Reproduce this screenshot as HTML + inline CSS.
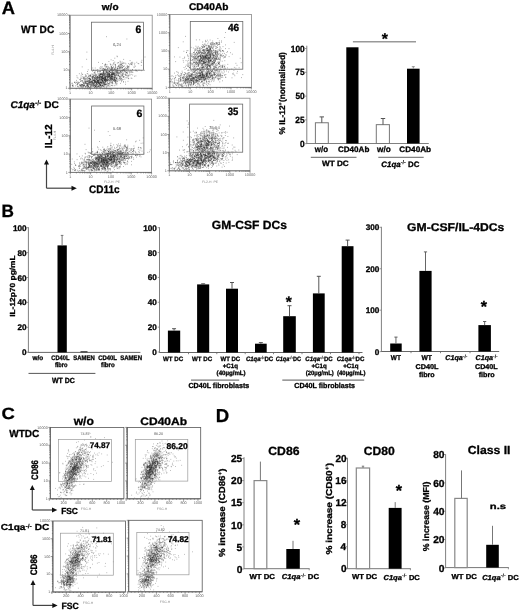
<!DOCTYPE html>
<html><head><meta charset="utf-8"><style>
html,body{margin:0;padding:0;background:#fff;}
svg{display:block;filter:blur(0.3px);}
text{text-rendering:geometricPrecision;}
text[fill="#000"]{stroke:#000;stroke-width:0.3px;}
</style></head><body>
<svg width="520" height="610" viewBox="0 0 520 610" font-family="'Liberation Sans', Arial, sans-serif">
<rect width="520" height="610" fill="#fff"/>
<text transform="translate(1.84,14.2) scale(1.017,1)" font-size="18.02" font-weight="bold" fill="#000">A</text>
<text transform="translate(101.83,9.61) scale(1.075,1)" font-size="9.3" font-weight="bold" fill="#000">w/o</text>
<text transform="translate(188.98,9.51) scale(1.049,1)" font-size="9.67" font-weight="bold" fill="#000">CD40Ab</text>
<text transform="translate(20.99,33.4) scale(0.959,1)" font-size="10.59" font-weight="bold" fill="#000">WT DC</text>
<text transform="translate(10.41,107.9) scale(1.024,1)" font-size="9.8" fill="#000"><tspan x="0" y="0" font-size="9.8" font-weight="bold" font-style="italic">C1qa</tspan><tspan x="23.96" y="-3.23" font-size="6.66" font-weight="bold" stroke-width="0.1">-/-</tspan><tspan x="30.25" y="0" font-size="9.8" font-weight="bold"> DC</tspan></text>
<path d="M107.2 80.1h0M113.2 76.7h0M82.2 76.7h0M115.5 80.5h0M106.5 72.5h0M94.1 79.1h0M109.7 76.9h0M105.1 75.2h0M100.1 71.6h0M110.9 82.8h0M91.1 78.9h0M99.5 79.1h0M95.5 81.3h0M110.2 77.6h0M102.3 78.6h0M98.4 81.7h0M91.9 84.1h0M99.6 84.0h0M101.6 77.7h0M97.4 77.5h0M118.2 70.1h0M116.3 78.1h0M100.3 82.4h0M105.1 79.5h0M105.8 81.8h0M129.1 66.4h0M85.8 79.3h0M96.5 79.7h0M128.0 66.6h0M111.5 79.9h0M109.3 71.4h0M95.2 81.8h0M76.9 75.7h0M102.9 74.3h0M103.1 77.7h0M85.2 83.2h0M90.7 74.7h0M101.2 80.2h0M90.4 87.2h0M101.4 82.6h0M102.5 76.4h0M101.8 76.9h0M93.8 76.6h0M110.7 79.8h0M115.7 82.0h0M105.7 76.1h0M89.0 75.6h0M112.1 77.5h0M96.1 84.4h0M110.6 64.9h0M87.7 84.2h0M116.9 84.9h0M102.7 83.0h0M85.8 86.6h0M98.3 82.4h0M104.0 83.7h0M104.6 74.6h0M87.8 79.8h0M87.6 85.5h0M103.9 75.9h0M96.0 82.4h0M102.9 70.7h0M113.1 79.7h0M105.5 78.7h0M118.7 75.5h0M99.9 87.3h0M89.8 78.2h0M111.0 72.8h0M104.1 74.0h0M113.6 74.3h0M96.2 76.7h0M82.1 85.4h0M99.7 77.2h0M94.3 75.2h0M110.6 70.1h0M106.0 83.8h0M80.0 85.5h0M85.6 83.2h0M113.9 76.2h0M111.1 76.5h0M94.3 85.1h0M102.7 81.8h0M107.3 75.3h0M107.3 74.3h0M112.5 71.6h0M104.0 73.3h0M102.4 85.7h0M97.4 76.7h0M113.8 67.1h0M70.7 84.7h0M99.2 76.8h0M102.8 80.7h0M81.8 81.3h0M107.1 80.4h0M93.7 83.6h0M115.1 81.4h0M120.0 80.4h0M105.8 73.2h0M89.7 81.2h0M81.9 86.4h0M128.0 81.3h0M101.3 82.7h0M94.2 87.1h0M103.7 78.2h0M100.1 82.7h0M114.3 79.2h0M101.9 77.5h0M103.1 82.7h0M93.7 86.7h0M108.1 77.0h0M89.3 87.7h0M112.9 83.7h0M122.6 73.9h0M81.5 85.4h0M109.6 74.6h0M136.5 70.3h0M88.0 81.7h0M84.8 83.0h0M109.0 74.0h0M88.9 76.4h0M94.1 77.6h0M97.7 82.2h0M107.8 72.6h0M95.8 78.4h0M107.7 85.2h0M101.0 84.8h0M89.8 79.9h0M98.4 83.2h0M88.4 80.5h0M104.0 86.2h0M86.2 81.4h0M87.4 84.1h0M123.2 79.6h0M100.3 76.3h0M102.8 85.1h0M107.9 74.1h0M96.6 82.1h0M98.6 79.2h0M107.6 77.5h0M106.0 79.1h0M86.3 83.7h0M112.0 72.1h0M95.1 85.4h0M88.6 86.6h0M98.4 86.7h0M122.3 67.7h0M105.7 84.2h0M72.6 85.5h0M103.2 83.8h0M115.8 82.1h0M98.2 78.2h0M91.9 76.2h0M104.7 77.1h0M111.2 77.9h0M127.1 66.9h0M104.5 77.6h0M92.8 77.7h0M99.8 78.3h0M101.1 80.2h0M100.4 68.5h0M102.0 81.1h0M106.0 84.7h0M79.3 85.1h0M112.7 74.7h0M95.6 86.2h0M84.7 78.8h0M109.1 71.9h0M118.1 68.7h0M108.4 76.9h0M104.6 80.5h0M89.3 82.7h0M141.3 70.7h0M114.8 79.5h0M87.3 85.9h0M90.5 79.2h0M102.9 78.1h0M103.0 74.5h0M95.5 80.2h0M118.0 73.0h0M114.7 75.0h0M101.0 73.8h0M118.1 79.1h0M103.4 75.9h0M109.3 77.1h0M88.5 86.4h0M126.2 71.0h0M129.9 74.3h0M86.9 81.1h0M106.6 76.6h0M92.8 81.7h0M101.1 77.7h0M82.1 74.2h0M127.2 72.4h0M89.3 84.3h0M98.6 82.6h0M107.6 73.5h0M93.7 83.4h0M99.0 81.3h0M92.3 74.4h0M97.6 70.9h0M86.8 86.0h0M95.0 77.2h0M100.4 84.4h0M102.1 76.9h0M97.2 77.8h0M112.1 76.5h0M98.5 83.5h0M98.8 75.3h0M94.5 87.2h0M96.1 85.6h0M85.8 87.1h0M108.3 75.3h0M87.7 87.7h0M93.0 85.9h0M105.4 73.1h0M109.9 86.6h0M96.3 79.8h0M107.0 75.7h0M105.9 80.1h0M111.4 73.2h0M90.6 75.4h0M86.3 82.0h0M101.7 73.7h0M98.7 77.1h0M104.6 78.2h0M80.3 85.4h0M127.9 77.8h0M92.7 77.6h0M81.7 86.9h0M109.7 75.0h0M98.8 86.5h0M97.8 82.1h0M103.2 86.7h0M104.7 76.4h0M90.1 75.8h0M109.6 71.6h0M93.8 74.8h0M89.2 78.9h0M102.8 78.2h0M109.4 82.5h0M99.7 83.3h0M90.9 84.7h0M109.8 75.4h0M77.5 83.3h0M88.2 83.6h0M102.7 79.9h0M84.0 85.8h0M102.8 80.9h0M101.1 79.2h0M111.8 68.1h0M88.4 78.4h0M92.6 78.5h0M108.5 85.2h0M144.5 70.3h0M92.6 83.7h0M113.1 74.6h0M101.1 78.4h0M76.8 82.1h0M110.8 78.3h0M114.8 80.9h0M96.6 83.6h0M99.1 83.8h0M109.4 80.6h0M107.1 75.2h0M104.9 79.4h0M93.8 85.0h0M96.1 70.3h0M89.6 80.7h0M115.2 74.8h0M102.7 74.7h0M113.5 80.0h0M104.1 79.9h0M105.1 76.8h0M89.5 75.8h0M109.4 71.5h0M124.9 68.5h0M98.4 82.6h0M92.6 76.7h0M97.4 71.6h0M93.8 75.4h0M91.9 79.8h0M105.8 85.9h0M120.8 72.0h0M103.1 83.4h0M108.0 84.0h0M116.3 81.1h0M97.8 80.2h0M119.8 68.6h0M92.9 79.9h0M88.9 74.9h0M97.4 81.9h0M101.4 83.2h0M80.9 77.1h0M101.5 79.4h0M79.9 87.1h0M122.2 79.3h0M102.5 85.5h0M94.3 85.3h0M89.0 80.2h0M96.4 79.5h0M100.4 85.3h0M87.2 81.0h0M89.6 82.9h0M101.3 86.7h0M95.1 82.0h0M113.0 70.2h0M117.0 73.9h0M103.0 82.1h0M108.1 76.9h0M112.1 82.3h0M100.8 76.9h0M107.9 75.5h0M123.4 72.9h0M106.0 80.1h0M87.0 83.0h0M110.9 80.5h0M83.6 82.1h0M94.3 77.8h0M106.9 86.3h0M109.2 73.5h0M102.3 76.8h0M90.5 79.5h0M94.2 80.4h0M112.8 72.3h0M101.9 79.3h0M78.5 83.1h0M112.9 74.5h0M108.0 79.4h0M114.6 79.0h0M98.0 82.7h0M112.3 73.3h0M88.2 85.2h0M109.5 76.8h0M95.3 81.0h0M109.0 69.8h0M116.3 78.4h0M91.9 81.8h0M103.3 86.8h0M103.3 82.0h0M116.7 70.3h0M109.9 71.1h0M107.1 74.1h0M112.8 79.5h0M130.2 70.1h0M94.9 81.9h0M121.7 80.6h0M85.3 82.2h0M108.6 76.2h0M117.5 81.7h0M93.0 82.1h0M108.2 73.9h0M105.0 84.1h0M125.5 84.3h0M102.0 79.4h0M117.0 81.5h0M89.7 82.4h0M101.1 85.9h0M100.4 79.0h0M118.9 80.7h0M110.5 79.7h0M91.7 81.8h0M111.5 78.0h0M111.8 74.5h0M99.2 75.5h0M97.3 76.3h0M99.4 80.2h0M78.0 81.9h0M105.1 80.8h0M105.9 81.0h0M91.0 85.0h0M111.5 74.8h0M83.7 85.3h0M94.6 81.8h0M97.2 87.1h0M127.9 68.8h0M80.1 84.4h0M109.4 76.6h0M114.6 75.6h0M106.3 75.2h0M117.2 72.6h0M70.6 85.9h0M113.5 80.6h0M99.2 86.3h0M84.1 76.9h0M117.2 78.9h0M114.3 78.4h0M93.0 84.8h0M112.3 69.6h0M104.6 82.5h0M98.9 75.8h0M104.4 84.9h0M100.6 85.0h0M105.8 77.0h0M95.6 74.8h0M116.9 80.2h0M94.9 85.7h0M105.5 77.1h0M109.4 83.8h0M122.8 76.9h0M93.7 76.4h0M125.1 71.6h0M103.9 77.2h0M99.3 80.1h0M93.3 83.1h0M109.1 74.6h0M102.5 78.7h0M87.9 86.5h0M86.8 83.8h0M94.3 80.8h0M92.6 81.1h0M116.6 75.1h0M118.3 66.5h0M114.0 77.1h0M105.7 74.1h0M96.4 81.8h0M101.1 73.5h0M115.1 80.1h0M131.0 72.5h0M112.8 70.6h0M98.6 81.8h0M101.7 76.5h0M92.1 84.8h0M98.6 77.2h0M105.0 79.9h0M126.7 72.5h0M104.2 84.5h0M120.8 76.0h0M126.5 75.1h0M101.8 74.8h0M124.7 76.8h0M114.2 85.7h0M97.2 84.0h0M105.6 78.6h0M102.6 80.4h0M97.8 76.7h0M99.6 81.3h0M102.7 74.7h0M108.0 78.3h0M89.7 81.6h0M101.0 76.4h0M103.8 72.6h0M110.4 77.2h0M102.7 73.7h0M108.1 86.2h0M112.4 85.7h0M94.1 85.9h0M109.7 80.3h0M116.2 78.2h0M106.9 76.5h0M135.4 66.2h0M101.0 80.7h0M114.9 73.7h0M118.6 73.1h0M101.1 83.3h0M90.9 82.4h0M84.3 77.9h0M104.0 78.3h0M116.1 72.3h0M105.4 77.5h0M103.1 74.6h0M98.4 86.2h0M111.9 85.5h0M72.0 83.4h0M106.0 81.6h0M103.2 82.1h0M82.4 80.6h0M131.5 71.8h0M88.6 87.4h0M115.6 70.6h0M89.2 80.1h0M111.4 78.4h0M110.4 78.9h0M105.6 78.8h0M84.0 83.2h0M93.3 80.4h0M123.9 70.8h0M85.2 86.6h0M87.6 71.5h0M101.8 87.0h0M112.3 74.4h0M103.8 72.8h0M112.7 79.1h0M86.0 78.0h0M115.2 77.7h0M109.2 75.8h0M123.7 77.0h0M134.4 76.2h0M91.1 80.6h0M102.5 78.3h0M120.8 74.2h0M80.4 79.5h0M84.7 85.2h0M92.8 76.3h0M95.7 86.9h0M111.8 83.0h0M104.1 73.2h0M86.0 86.8h0M111.2 82.6h0M128.3 75.9h0M117.0 71.0h0M113.7 70.0h0M102.2 79.1h0M114.7 73.8h0M89.0 83.3h0M112.0 76.3h0M101.5 82.2h0M116.6 73.0h0M108.1 77.2h0M103.6 78.6h0M119.3 78.0h0M87.2 85.2h0M94.8 82.7h0M90.6 78.8h0M82.5 87.6h0M114.9 75.7h0M120.6 77.9h0M115.2 85.0h0M105.5 79.4h0M102.2 83.0h0M104.0 74.4h0M92.3 82.9h0M115.9 82.6h0M116.0 75.3h0M113.8 73.4h0M95.1 82.5h0M102.9 78.5h0M99.5 79.2h0M125.7 71.2h0M106.8 87.1h0M75.7 83.3h0M106.9 76.3h0M126.7 70.0h0M112.7 82.1h0M113.5 75.0h0M104.1 84.8h0M77.6 86.5h0M83.5 78.4h0M101.8 85.1h0M106.8 80.6h0M111.8 78.6h0M97.3 80.4h0M114.4 74.2h0M96.8 75.4h0M93.7 86.2h0M113.8 77.4h0M89.3 81.6h0M87.9 84.2h0M103.2 78.8h0M98.1 84.2h0M96.8 78.4h0M81.5 80.5h0M81.8 84.3h0M94.7 77.6h0M94.8 82.0h0M119.5 76.4h0M107.8 80.8h0M81.2 87.4h0M90.3 82.1h0M112.2 79.4h0M126.5 68.6h0M107.1 77.8h0M107.2 81.8h0M127.4 73.6h0M100.2 74.4h0M96.5 76.0h0M81.1 78.4h0M129.5 64.8h0M82.7 84.5h0M104.4 87.2h0M105.3 84.6h0M113.4 74.1h0M99.6 83.6h0M111.7 76.7h0M108.5 79.6h0M124.8 71.7h0M112.5 76.6h0M98.4 82.4h0M89.6 79.2h0M106.8 71.9h0M97.7 81.0h0M139.0 70.0h0M128.5 78.4h0M100.0 83.4h0M96.9 78.3h0M125.5 75.5h0M96.3 82.6h0M114.4 74.6h0M90.6 86.0h0M95.2 80.0h0M95.1 73.3h0M112.5 82.6h0M102.4 73.8h0M107.1 76.7h0M109.7 76.0h0M102.0 78.1h0M116.6 74.2h0M90.5 76.5h0M83.3 87.3h0M78.2 86.6h0M80.3 86.0h0M95.9 86.2h0M117.2 80.2h0M106.0 84.5h0M88.2 85.6h0M93.1 75.3h0M96.9 82.1h0M94.4 81.8h0M82.8 85.4h0M94.9 79.0h0M114.7 72.0h0M99.9 84.6h0M72.2 83.2h0M105.1 81.1h0M91.8 81.8h0M73.5 86.1h0M104.2 82.1h0M126.4 72.4h0M102.8 76.9h0M117.7 75.4h0M98.7 71.6h0M72.3 85.5h0M108.1 75.9h0M94.7 75.4h0M82.6 86.0h0M112.9 77.7h0M105.2 76.0h0M94.7 80.9h0M114.5 79.0h0M91.5 87.3h0M109.8 73.9h0M89.8 84.6h0M110.4 81.8h0M87.2 83.7h0M121.1 70.6h0M104.5 75.4h0M120.9 72.7h0M89.7 78.4h0M112.6 73.9h0M87.9 84.4h0M116.7 78.2h0M107.8 76.1h0M113.6 70.4h0M99.8 87.5h0M109.5 77.0h0M92.3 82.8h0M83.8 85.6h0M95.5 84.8h0M96.0 86.5h0M94.5 85.3h0M94.0 78.5h0M103.6 70.4h0M93.9 80.8h0M88.9 78.5h0M131.1 78.1h0M124.0 70.7h0M125.4 82.0h0M103.7 71.4h0M92.9 76.7h0M102.9 75.8h0M85.3 80.0h0M105.7 79.0h0M102.3 80.3h0M111.4 85.3h0M116.0 80.0h0M126.8 77.9h0M97.3 82.7h0M115.9 74.9h0M90.5 79.7h0M88.2 76.7h0M92.7 78.3h0M88.3 81.7h0M116.1 78.9h0M112.4 69.0h0M117.5 68.9h0M101.9 80.5h0M104.5 74.1h0M94.6 83.1h0M86.0 82.2h0M107.1 74.7h0M104.0 73.0h0M87.0 83.4h0M109.0 74.2h0M77.8 83.7h0M98.8 77.6h0M93.7 82.7h0M95.1 82.2h0M85.4 76.6h0M114.6 75.2h0M110.1 79.0h0M119.2 79.2h0M104.7 82.2h0M84.8 85.4h0M95.5 76.2h0M85.1 80.9h0M109.1 81.6h0M117.3 72.0h0M107.5 82.5h0M95.3 87.1h0M95.6 76.6h0M105.1 80.6h0M82.2 84.7h0M106.2 87.4h0M105.5 82.3h0M93.9 79.6h0M96.6 82.9h0M103.0 75.1h0M90.5 82.1h0M90.9 83.6h0M112.4 77.2h0M105.1 80.0h0M123.2 69.4h0M86.2 75.7h0M77.3 84.9h0M113.3 72.3h0M113.7 73.0h0M100.8 79.1h0M76.4 80.4h0M95.5 75.6h0M99.7 85.0h0M72.7 86.6h0M98.5 81.1h0M122.3 74.8h0M99.2 85.1h0M109.7 68.9h0M93.1 82.8h0M90.0 84.8h0M116.0 77.3h0M99.4 75.3h0M122.6 71.0h0M83.8 77.9h0M98.7 81.3h0M102.7 80.2h0M121.0 76.3h0M124.8 68.6h0M91.3 77.5h0M78.2 87.1h0M121.4 81.7h0M100.7 81.8h0M90.9 76.1h0M101.6 83.2h0M77.6 84.5h0M111.6 68.1h0M107.4 80.9h0M103.2 78.5h0M88.1 84.7h0M106.0 66.3h0M125.8 74.7h0M81.6 73.1h0M100.5 76.1h0M96.5 85.0h0M104.0 70.8h0M99.3 71.9h0M98.8 78.4h0M103.0 86.4h0M92.3 79.6h0M100.5 84.4h0M101.1 82.3h0M110.4 78.3h0M93.9 83.4h0M96.1 78.0h0M116.6 78.9h0M99.6 84.9h0M114.0 80.2h0M102.0 68.5h0M101.1 74.4h0M104.6 80.2h0M84.7 84.8h0M105.3 70.2h0M119.0 74.0h0M108.7 76.0h0M80.3 85.5h0M105.0 78.1h0M90.3 87.0h0M100.1 86.6h0M103.9 82.0h0M84.0 79.7h0M118.4 70.9h0M99.7 77.2h0M112.0 76.4h0M109.5 75.4h0M119.1 73.0h0M116.4 71.2h0M103.1 83.0h0M95.4 81.0h0M111.7 78.7h0M112.7 72.3h0M117.7 70.5h0M95.8 78.8h0M106.5 80.8h0M102.7 78.6h0M117.2 70.0h0M123.0 73.9h0M97.2 82.7h0M100.7 76.9h0M96.7 81.3h0M109.1 75.6h0M111.4 75.3h0M108.8 77.1h0M93.7 85.2h0M123.6 81.5h0M104.2 85.8h0M123.1 76.3h0M119.9 72.6h0M84.2 83.2h0M88.2 82.3h0M101.8 67.2h0M102.7 80.4h0M103.0 70.3h0M90.8 82.7h0M109.0 83.4h0M119.6 70.4h0M81.1 75.3h0M100.7 85.7h0M106.9 84.8h0M100.6 82.1h0M100.6 85.5h0M124.6 69.4h0M120.4 79.5h0M115.2 83.3h0M92.3 85.1h0M132.3 72.1h0M108.2 83.5h0M95.4 86.5h0M96.4 77.8h0M96.8 87.1h0M131.2 74.4h0M104.8 79.4h0M104.2 84.7h0M112.6 79.8h0M87.0 81.5h0M87.6 87.4h0M108.8 72.6h0M90.1 82.4h0M111.1 69.3h0M114.9 68.2h0M99.9 79.7h0M80.7 86.0h0M101.7 82.2h0M114.5 77.5h0M82.4 81.1h0M126.2 72.9h0M97.6 80.5h0M85.3 82.0h0M100.0 79.5h0M112.0 75.0h0M82.5 82.2h0M101.4 78.2h0M83.6 85.8h0M120.4 83.4h0M102.9 75.6h0M96.7 83.4h0M114.0 69.5h0M96.1 79.7h0M126.8 73.0h0M101.6 85.3h0M121.2 78.4h0M102.6 72.7h0M93.0 84.6h0M98.1 79.6h0M103.5 81.8h0M96.4 81.8h0M91.5 85.8h0M91.5 83.8h0M81.6 84.7h0M104.6 84.0h0M105.2 71.7h0M111.3 74.9h0M76.3 82.6h0M112.4 75.9h0M101.0 77.9h0M82.3 84.5h0M102.4 77.2h0M112.1 74.5h0M106.8 70.8h0M111.4 76.6h0M114.8 77.2h0M113.1 73.7h0M100.4 77.0h0M72.9 85.0h0M106.7 79.0h0M95.9 83.0h0M110.6 75.7h0M111.9 74.4h0M101.3 75.8h0M128.8 78.7h0M86.6 76.3h0M114.6 77.2h0M95.3 81.3h0M90.9 81.5h0M107.8 70.8h0M92.0 76.8h0M114.5 80.3h0M85.2 81.2h0M103.3 83.1h0M91.2 85.6h0M99.3 82.9h0M97.6 84.2h0M85.1 78.9h0M110.0 75.1h0M85.8 87.2h0M87.1 78.1h0M115.7 83.0h0M114.2 73.5h0M110.7 76.7h0M105.1 74.0h0M132.9 72.3h0M84.6 81.2h0M91.5 81.4h0M87.0 78.7h0M115.3 81.0h0M103.7 71.7h0M117.3 77.1h0M115.1 76.8h0M99.3 82.2h0M89.5 78.5h0M89.7 87.7h0M132.7 75.0h0M115.0 76.5h0M110.1 78.6h0M97.0 80.2h0M99.9 83.0h0M96.2 77.5h0M98.1 83.1h0M99.3 74.0h0M93.5 70.2h0M105.6 78.0h0M104.4 78.1h0M114.7 81.3h0M101.7 79.8h0M111.9 74.4h0M86.9 83.4h0M124.3 70.5h0M84.1 79.7h0M97.9 80.1h0M112.6 81.2h0M90.0 83.3h0M110.3 72.4h0M83.0 86.4h0M74.8 82.4h0M82.1 78.2h0M100.9 77.3h0M98.9 85.4h0M106.6 79.6h0M86.9 80.2h0M136.3 70.6h0M102.1 85.3h0M101.0 79.0h0M106.7 73.4h0M97.7 77.8h0M92.3 78.6h0M101.6 74.3h0M112.6 70.7h0M111.3 78.7h0M115.8 80.5h0M93.8 80.2h0M92.3 85.8h0M129.9 75.6h0M100.6 87.4h0M108.0 76.9h0M111.4 75.3h0M121.5 75.8h0M83.8 85.2h0M95.7 82.6h0M97.5 86.6h0M97.3 78.9h0M99.4 75.9h0M105.1 75.6h0M108.2 74.3h0M109.6 76.3h0M85.1 82.3h0M115.2 77.4h0M91.2 86.2h0M83.6 78.1h0M89.9 87.5h0M87.8 73.6h0M104.5 79.9h0M113.8 79.3h0M72.8 85.0h0M94.3 80.7h0M113.1 72.8h0M105.7 82.4h0M105.0 64.5h0M80.6 81.3h0M112.5 67.8h0M81.1 86.3h0M106.1 84.1h0M121.7 79.2h0M128.1 75.0h0M109.2 78.6h0M112.9 72.9h0M95.3 86.9h0M96.3 83.9h0M116.7 71.5h0M100.5 74.2h0M99.5 77.4h0M105.5 84.1h0M112.6 83.7h0M90.4 79.4h0M94.7 80.0h0M124.9 79.1h0M104.7 79.7h0M99.0 83.8h0M85.1 78.4h0M93.2 80.4h0M98.6 80.4h0M120.0 72.8h0M93.3 80.1h0M124.2 65.8h0M97.4 81.5h0M111.6 70.2h0M100.0 84.9h0M90.9 83.0h0M101.1 83.0h0M107.8 77.0h0M78.0 82.9h0M97.8 77.4h0M101.0 81.4h0M97.5 84.3h0M112.5 78.7h0M95.1 84.4h0M98.5 85.9h0M102.9 80.6h0M113.0 80.9h0M100.4 85.0h0M122.8 75.0h0M89.7 82.8h0M118.8 72.9h0M89.1 78.0h0M98.0 73.8h0M108.5 83.7h0M129.7 71.7h0M113.4 73.9h0M120.7 78.7h0M99.2 80.7h0M92.6 86.9h0M107.9 77.2h0M103.7 80.8h0M117.0 83.5h0M95.9 86.2h0M106.9 77.1h0M111.4 80.1h0M107.2 83.5h0M101.5 79.4h0M92.2 80.7h0M116.5 84.0h0M103.6 78.0h0M107.2 72.4h0M97.5 81.7h0M88.9 86.4h0M104.4 83.5h0M109.8 68.0h0M102.7 77.3h0M115.1 81.6h0M105.9 77.1h0M122.1 80.2h0M100.1 82.7h0M110.0 85.3h0M99.3 78.6h0M88.5 81.9h0M111.0 78.0h0M106.0 79.9h0M106.1 71.3h0M99.1 86.4h0M105.1 80.2h0M105.4 78.4h0M126.8 75.8h0M92.5 81.1h0M103.5 85.1h0M107.1 78.9h0M79.5 82.6h0M131.0 70.6h0M108.8 73.9h0M90.0 80.6h0M91.8 82.8h0M90.9 86.7h0M113.8 80.7h0M83.8 86.6h0M111.2 81.5h0M108.2 85.2h0M129.5 72.9h0M96.3 83.7h0M119.8 77.6h0M111.7 68.3h0M98.2 80.7h0M123.4 77.3h0M83.4 83.9h0M96.9 85.9h0M113.3 73.9h0M117.0 75.0h0M100.1 74.5h0M98.6 80.6h0M117.9 74.8h0M135.7 69.9h0M76.9 84.8h0M115.2 79.1h0M100.7 74.4h0M87.8 86.2h0M127.5 67.3h0M104.8 80.8h0M92.2 82.8h0M94.6 79.0h0M94.0 80.7h0M104.5 78.7h0M100.5 82.3h0M110.2 74.7h0M122.6 73.0h0M109.8 71.2h0M85.3 83.4h0M78.0 78.1h0M91.9 82.5h0M115.7 73.8h0M94.6 87.6h0M103.8 78.6h0M87.1 85.3h0M107.6 73.0h0M95.1 70.9h0M97.3 86.0h0M106.8 80.1h0M91.9 73.9h0M93.6 85.0h0M96.9 85.2h0M109.3 74.5h0M103.8 82.7h0M83.9 77.2h0M97.7 79.9h0M110.8 77.3h0M128.1 75.7h0M87.1 85.7h0M106.9 79.2h0M99.2 82.9h0M112.4 73.7h0M109.8 84.0h0M121.4 72.5h0M110.0 80.9h0M94.7 81.7h0M94.5 80.7h0M108.2 80.5h0M107.9 79.9h0M135.9 75.9h0M125.9 77.6h0M85.6 81.8h0M107.3 80.3h0M84.2 85.2h0M78.8 82.7h0M110.7 72.2h0M109.8 78.5h0M87.4 81.4h0M122.5 67.5h0M88.8 83.0h0M86.6 85.0h0M110.9 77.5h0M103.6 73.8h0M99.2 77.8h0M102.7 85.5h0M104.1 75.6h0M99.8 78.8h0M83.4 82.7h0M107.9 69.2h0M92.9 83.6h0M107.7 71.7h0M118.6 74.7h0M96.2 77.4h0M103.8 71.6h0M131.9 78.4h0M111.2 76.4h0M127.9 76.2h0M123.5 76.7h0M111.3 73.6h0M100.6 80.3h0M90.3 81.3h0M109.1 79.4h0M107.9 76.3h0M101.6 87.1h0M114.0 78.4h0M94.4 83.8h0M116.0 72.0h0M103.0 81.0h0M99.8 73.6h0M102.5 81.4h0M99.6 76.0h0M135.7 70.7h0M80.0 84.6h0M104.7 79.8h0M119.2 76.2h0M111.6 76.5h0M97.9 80.4h0M123.7 66.6h0M85.4 75.8h0M110.3 79.7h0M80.7 79.0h0M113.0 73.1h0M112.9 78.7h0M112.4 78.4h0M95.6 81.8h0M105.2 81.3h0M87.4 77.5h0M125.3 72.7h0M112.3 75.4h0M112.1 77.0h0M75.4 85.9h0M112.1 73.7h0M121.2 70.7h0M119.4 78.5h0M111.6 72.9h0M102.4 81.0h0M97.8 82.3h0M110.0 76.8h0M107.7 79.8h0M105.8 80.8h0M97.2 78.5h0M125.0 74.4h0M100.4 75.2h0M93.8 80.5h0M115.0 72.3h0M123.6 82.2h0M117.1 68.9h0M112.2 76.6h0M129.0 67.9h0M108.8 76.9h0M99.7 77.0h0M100.7 73.9h0M97.3 80.5h0M108.3 79.9h0M105.7 76.7h0M97.3 81.6h0M102.9 84.6h0M107.0 72.6h0M109.8 80.0h0M99.2 77.5h0M105.9 70.0h0M114.9 72.3h0M96.4 84.0h0M122.1 75.1h0M74.4 82.5h0M90.3 84.7h0M87.9 81.1h0M119.3 76.4h0M118.2 73.1h0M104.7 83.8h0M125.5 74.2h0M106.0 81.1h0M94.9 80.2h0M103.5 72.5h0M100.8 82.2h0M110.7 72.5h0M81.6 84.9h0M115.4 75.6h0M94.9 78.1h0M114.6 79.9h0M79.6 79.6h0M98.1 87.3h0M102.4 76.8h0M115.3 80.0h0M123.4 69.5h0M107.6 74.6h0M96.0 85.4h0M118.6 75.6h0M103.5 79.4h0M115.4 67.5h0M131.3 63.8h0M113.0 78.7h0M96.6 87.4h0M95.4 78.2h0M108.8 73.7h0M106.1 79.2h0M91.3 84.6h0M93.7 84.4h0M110.4 75.1h0M131.3 62.4h0M111.2 74.7h0M100.6 85.5h0M110.1 68.3h0M114.1 77.7h0M102.1 77.2h0M87.0 79.0h0M117.8 72.4h0M99.9 83.0h0M93.5 77.2h0M97.5 78.0h0M83.7 83.7h0M105.7 76.9h0M120.5 77.0h0M115.9 70.2h0M121.5 78.2h0M91.5 81.6h0M74.9 82.0h0M82.7 74.5h0M88.9 83.0h0M101.1 76.6h0M88.2 83.9h0M80.4 81.0h0M98.4 80.5h0M127.8 71.8h0M92.6 82.3h0M117.0 70.0h0M118.3 75.8h0M123.7 59.4h0M103.6 73.3h0M122.7 70.1h0M115.2 69.2h0M107.6 69.3h0M98.5 62.4h0M132.4 69.8h0M115.8 67.1h0M106.3 69.5h0M115.0 73.6h0M111.1 59.8h0M106.4 70.1h0M96.2 75.0h0M115.6 71.4h0M111.5 71.8h0M111.2 77.7h0M125.7 67.4h0M97.4 76.5h0M101.7 74.5h0M113.8 62.8h0M122.9 63.7h0M122.5 75.5h0M122.0 66.0h0M85.3 74.6h0M118.2 62.5h0M118.0 66.5h0M120.5 62.0h0M103.9 68.4h0M119.9 69.8h0M125.0 63.1h0M132.7 62.3h0M117.4 73.5h0M96.8 74.4h0M114.2 70.9h0M122.0 71.1h0M119.1 65.5h0M136.8 62.3h0M108.9 61.5h0M100.9 74.6h0M104.9 69.9h0M121.4 67.2h0M102.1 66.8h0M100.5 74.2h0M103.1 73.7h0M128.5 66.5h0M114.8 62.1h0M108.2 66.6h0M123.8 66.6h0M121.1 63.9h0M101.2 73.1h0M124.4 70.7h0M115.6 65.4h0M87.1 73.8h0M97.7 69.5h0M117.3 72.3h0M120.0 71.2h0M111.8 80.1h0M100.6 71.7h0M115.5 64.6h0M90.5 75.5h0M120.0 66.6h0M111.4 70.1h0M113.9 73.9h0M104.8 69.6h0M124.2 69.6h0M82.2 66.9h0M103.2 75.4h0M120.6 67.9h0M104.2 69.9h0M131.2 63.1h0M119.8 73.4h0M103.2 69.0h0M128.3 71.0h0M111.7 67.2h0M120.7 67.6h0M105.9 72.0h0M107.5 78.5h0M122.5 68.0h0M114.9 69.6h0M103.9 70.7h0M102.2 70.1h0M121.1 64.8h0M137.1 71.3h0M104.2 76.9h0M121.5 64.4h0M77.1 77.3h0M95.2 68.0h0M122.8 70.8h0M134.1 67.4h0M114.5 69.2h0M119.8 64.3h0M117.5 71.2h0M126.8 68.7h0M99.9 71.1h0M122.2 70.1h0M107.1 64.8h0M108.9 67.5h0M112.8 65.2h0M111.2 69.9h0M105.4 77.5h0M110.5 69.8h0M102.7 75.9h0M132.2 64.8h0M122.1 65.5h0M109.3 74.0h0M134.1 66.8h0M131.0 71.0h0M120.6 71.4h0M106.3 67.2h0M114.8 58.2h0M121.0 67.9h0M130.1 60.6h0M110.2 63.9h0M105.3 64.6h0M141.9 60.3h0M130.9 64.4h0M117.6 68.1h0M103.8 79.3h0M118.8 62.8h0M127.7 65.9h0M122.1 62.0h0M123.2 62.8h0M114.3 69.0h0M128.3 67.5h0M105.0 65.5h0M109.1 74.5h0M106.6 66.6h0M106.3 74.4h0M138.1 63.5h0M93.1 77.0h0M117.1 70.5h0M101.0 70.4h0M98.4 74.1h0M113.8 63.4h0M92.8 68.0h0M112.2 67.7h0M143.6 68.1h0M111.6 66.3h0M118.8 65.3h0M104.2 77.7h0M119.7 67.8h0M94.8 72.9h0M115.0 64.3h0M111.9 69.5h0M141.3 65.4h0M112.3 68.9h0M109.5 72.9h0M106.6 71.7h0M99.1 76.3h0M123.7 70.1h0M131.5 64.5h0M109.3 73.4h0M123.7 74.1h0M109.0 71.1h0M117.3 63.1h0M119.2 68.5h0M95.0 72.0h0M105.6 81.2h0M125.7 69.4h0M88.2 69.8h0M113.1 68.2h0M110.0 75.6h0M100.5 66.9h0M113.4 66.9h0M117.1 68.1h0M119.8 66.9h0M79.3 73.7h0M134.5 64.9h0M105.9 64.7h0M125.9 63.9h0M111.1 66.9h0M105.5 69.3h0M112.0 67.9h0M132.7 63.3h0M108.3 68.2h0M116.3 69.7h0M128.1 69.4h0M121.2 71.1h0M113.2 64.2h0M110.9 70.4h0M100.0 74.7h0M122.4 65.8h0M127.4 67.8h0M141.2 62.0h0M106.4 71.9h0M120.0 61.2h0M113.0 70.8h0M128.6 63.6h0M111.2 66.3h0M104.6 69.5h0M92.4 77.3h0M122.9 70.7h0M115.3 69.4h0M128.0 69.2h0M105.7 68.8h0M145.0 57.0h0M102.5 63.5h0M119.5 67.4h0M118.2 67.2h0M127.1 66.0h0M111.0 69.6h0M102.4 76.1h0M99.7 68.0h0M122.7 63.7h0M115.9 76.1h0M118.0 71.0h0M102.4 69.9h0M113.1 60.5h0M115.1 65.0h0M120.5 65.8h0M94.3 72.5h0M103.4 71.7h0M134.8 63.3h0M108.9 74.4h0M110.9 64.5h0M107.7 68.8h0M93.4 70.3h0M99.9 74.8h0M117.8 68.6h0M105.1 73.8h0M138.8 63.7h0M97.0 87.6h0M88.9 76.9h0M107.4 67.0h0M97.6 72.1h0M130.2 63.6h0M108.2 73.0h0M120.3 71.3h0M95.3 74.2h0M121.2 66.4h0M120.5 64.6h0M130.0 71.8h0M116.6 72.7h0M117.0 56.1h0M115.1 68.7h0M123.9 63.1h0M107.3 68.6h0M121.2 74.1h0M104.7 66.1h0M121.0 63.0h0M111.4 79.3h0M104.2 68.9h0M104.0 69.9h0M132.5 69.5h0M92.6 71.2h0M94.0 73.1h0M121.2 68.2h0M101.4 77.2h0M105.6 63.9h0M105.9 67.1h0M141.7 62.4h0M105.1 74.4h0M103.2 68.5h0M108.3 71.9h0M115.4 66.4h0M118.9 66.1h0M95.2 78.0h0M106.5 36.7h0M115.4 46.0h0M126.9 39.0h0M121.1 64.2h0M86.7 59.3h0M86.9 52.1h0M117.3 56.7h0" stroke="#222" stroke-opacity="0.5" stroke-width="0.85" stroke-linecap="round" fill="none"/>
<rect x="70" y="15.2" width="82.2" height="73.1" fill="none" stroke="#888" stroke-width="0.8"/>
<line x1="70" y1="15.2" x2="70" y2="88.3" stroke="#777" stroke-width="0.9"/>
<line x1="70" y1="88.3" x2="152.2" y2="88.3" stroke="#777" stroke-width="0.9"/>
<rect x="91.5" y="22.2" width="51.9" height="48" fill="none" stroke="#6a6a6a" stroke-width="0.8"/>
<line x1="68" y1="88.3" x2="70" y2="88.3" stroke="#555" stroke-width="0.6"/>
<line x1="69" y1="82.8" x2="70" y2="82.8" stroke="#555" stroke-width="0.6"/>
<line x1="69" y1="79.58" x2="70" y2="79.58" stroke="#555" stroke-width="0.6"/>
<line x1="69" y1="77.3" x2="70" y2="77.3" stroke="#555" stroke-width="0.6"/>
<line x1="69" y1="75.53" x2="70" y2="75.53" stroke="#555" stroke-width="0.6"/>
<line x1="69" y1="74.08" x2="70" y2="74.08" stroke="#555" stroke-width="0.6"/>
<line x1="69" y1="72.86" x2="70" y2="72.86" stroke="#555" stroke-width="0.6"/>
<line x1="69" y1="71.8" x2="70" y2="71.8" stroke="#555" stroke-width="0.6"/>
<line x1="69" y1="70.86" x2="70" y2="70.86" stroke="#555" stroke-width="0.6"/>
<line x1="68" y1="70.03" x2="70" y2="70.03" stroke="#555" stroke-width="0.6"/>
<line x1="69" y1="64.52" x2="70" y2="64.52" stroke="#555" stroke-width="0.6"/>
<line x1="69" y1="61.31" x2="70" y2="61.31" stroke="#555" stroke-width="0.6"/>
<line x1="69" y1="59.02" x2="70" y2="59.02" stroke="#555" stroke-width="0.6"/>
<line x1="69" y1="57.25" x2="70" y2="57.25" stroke="#555" stroke-width="0.6"/>
<line x1="69" y1="55.8" x2="70" y2="55.8" stroke="#555" stroke-width="0.6"/>
<line x1="69" y1="54.58" x2="70" y2="54.58" stroke="#555" stroke-width="0.6"/>
<line x1="69" y1="53.52" x2="70" y2="53.52" stroke="#555" stroke-width="0.6"/>
<line x1="69" y1="52.59" x2="70" y2="52.59" stroke="#555" stroke-width="0.6"/>
<line x1="68" y1="51.75" x2="70" y2="51.75" stroke="#555" stroke-width="0.6"/>
<line x1="69" y1="46.25" x2="70" y2="46.25" stroke="#555" stroke-width="0.6"/>
<line x1="69" y1="43.03" x2="70" y2="43.03" stroke="#555" stroke-width="0.6"/>
<line x1="69" y1="40.75" x2="70" y2="40.75" stroke="#555" stroke-width="0.6"/>
<line x1="69" y1="38.98" x2="70" y2="38.98" stroke="#555" stroke-width="0.6"/>
<line x1="69" y1="37.53" x2="70" y2="37.53" stroke="#555" stroke-width="0.6"/>
<line x1="69" y1="36.31" x2="70" y2="36.31" stroke="#555" stroke-width="0.6"/>
<line x1="69" y1="35.25" x2="70" y2="35.25" stroke="#555" stroke-width="0.6"/>
<line x1="69" y1="34.31" x2="70" y2="34.31" stroke="#555" stroke-width="0.6"/>
<line x1="68" y1="33.48" x2="70" y2="33.48" stroke="#555" stroke-width="0.6"/>
<line x1="69" y1="27.97" x2="70" y2="27.97" stroke="#555" stroke-width="0.6"/>
<line x1="69" y1="24.76" x2="70" y2="24.76" stroke="#555" stroke-width="0.6"/>
<line x1="69" y1="22.47" x2="70" y2="22.47" stroke="#555" stroke-width="0.6"/>
<line x1="69" y1="20.7" x2="70" y2="20.7" stroke="#555" stroke-width="0.6"/>
<line x1="69" y1="19.25" x2="70" y2="19.25" stroke="#555" stroke-width="0.6"/>
<line x1="69" y1="18.03" x2="70" y2="18.03" stroke="#555" stroke-width="0.6"/>
<line x1="69" y1="16.97" x2="70" y2="16.97" stroke="#555" stroke-width="0.6"/>
<line x1="69" y1="16.04" x2="70" y2="16.04" stroke="#555" stroke-width="0.6"/>
<line x1="68" y1="15.2" x2="70" y2="15.2" stroke="#555" stroke-width="0.6"/>
<text x="67.5" y="89.4" font-size="3.8" fill="#666" text-anchor="end">1</text>
<text x="67.5" y="71.12" font-size="3.8" fill="#666" text-anchor="end">10</text>
<text x="67.5" y="52.85" font-size="3.8" fill="#666" text-anchor="end">100</text>
<text x="67.5" y="34.58" font-size="3.8" fill="#666" text-anchor="end">1000</text>
<text x="67.5" y="16.3" font-size="3.8" fill="#666" text-anchor="end">10000</text>
<line x1="70" y1="88.3" x2="70" y2="90.3" stroke="#555" stroke-width="0.6"/>
<line x1="76.19" y1="88.3" x2="76.19" y2="89.3" stroke="#555" stroke-width="0.6"/>
<line x1="79.8" y1="88.3" x2="79.8" y2="89.3" stroke="#555" stroke-width="0.6"/>
<line x1="82.37" y1="88.3" x2="82.37" y2="89.3" stroke="#555" stroke-width="0.6"/>
<line x1="84.36" y1="88.3" x2="84.36" y2="89.3" stroke="#555" stroke-width="0.6"/>
<line x1="85.99" y1="88.3" x2="85.99" y2="89.3" stroke="#555" stroke-width="0.6"/>
<line x1="87.37" y1="88.3" x2="87.37" y2="89.3" stroke="#555" stroke-width="0.6"/>
<line x1="88.56" y1="88.3" x2="88.56" y2="89.3" stroke="#555" stroke-width="0.6"/>
<line x1="89.61" y1="88.3" x2="89.61" y2="89.3" stroke="#555" stroke-width="0.6"/>
<line x1="90.55" y1="88.3" x2="90.55" y2="90.3" stroke="#555" stroke-width="0.6"/>
<line x1="96.74" y1="88.3" x2="96.74" y2="89.3" stroke="#555" stroke-width="0.6"/>
<line x1="100.35" y1="88.3" x2="100.35" y2="89.3" stroke="#555" stroke-width="0.6"/>
<line x1="102.92" y1="88.3" x2="102.92" y2="89.3" stroke="#555" stroke-width="0.6"/>
<line x1="104.91" y1="88.3" x2="104.91" y2="89.3" stroke="#555" stroke-width="0.6"/>
<line x1="106.54" y1="88.3" x2="106.54" y2="89.3" stroke="#555" stroke-width="0.6"/>
<line x1="107.92" y1="88.3" x2="107.92" y2="89.3" stroke="#555" stroke-width="0.6"/>
<line x1="109.11" y1="88.3" x2="109.11" y2="89.3" stroke="#555" stroke-width="0.6"/>
<line x1="110.16" y1="88.3" x2="110.16" y2="89.3" stroke="#555" stroke-width="0.6"/>
<line x1="111.1" y1="88.3" x2="111.1" y2="90.3" stroke="#555" stroke-width="0.6"/>
<line x1="117.29" y1="88.3" x2="117.29" y2="89.3" stroke="#555" stroke-width="0.6"/>
<line x1="120.9" y1="88.3" x2="120.9" y2="89.3" stroke="#555" stroke-width="0.6"/>
<line x1="123.47" y1="88.3" x2="123.47" y2="89.3" stroke="#555" stroke-width="0.6"/>
<line x1="125.46" y1="88.3" x2="125.46" y2="89.3" stroke="#555" stroke-width="0.6"/>
<line x1="127.09" y1="88.3" x2="127.09" y2="89.3" stroke="#555" stroke-width="0.6"/>
<line x1="128.47" y1="88.3" x2="128.47" y2="89.3" stroke="#555" stroke-width="0.6"/>
<line x1="129.66" y1="88.3" x2="129.66" y2="89.3" stroke="#555" stroke-width="0.6"/>
<line x1="130.71" y1="88.3" x2="130.71" y2="89.3" stroke="#555" stroke-width="0.6"/>
<line x1="131.65" y1="88.3" x2="131.65" y2="90.3" stroke="#555" stroke-width="0.6"/>
<line x1="137.84" y1="88.3" x2="137.84" y2="89.3" stroke="#555" stroke-width="0.6"/>
<line x1="141.45" y1="88.3" x2="141.45" y2="89.3" stroke="#555" stroke-width="0.6"/>
<line x1="144.02" y1="88.3" x2="144.02" y2="89.3" stroke="#555" stroke-width="0.6"/>
<line x1="146.01" y1="88.3" x2="146.01" y2="89.3" stroke="#555" stroke-width="0.6"/>
<line x1="147.64" y1="88.3" x2="147.64" y2="89.3" stroke="#555" stroke-width="0.6"/>
<line x1="149.02" y1="88.3" x2="149.02" y2="89.3" stroke="#555" stroke-width="0.6"/>
<line x1="150.21" y1="88.3" x2="150.21" y2="89.3" stroke="#555" stroke-width="0.6"/>
<line x1="151.26" y1="88.3" x2="151.26" y2="89.3" stroke="#555" stroke-width="0.6"/>
<line x1="152.2" y1="88.3" x2="152.2" y2="90.3" stroke="#555" stroke-width="0.6"/>
<text x="70" y="93.5" font-size="3.8" fill="#666" text-anchor="middle">1</text>
<text x="90.55" y="93.5" font-size="3.8" fill="#666" text-anchor="middle">10</text>
<text x="111.1" y="93.5" font-size="3.8" fill="#666" text-anchor="middle">100</text>
<text x="131.65" y="93.5" font-size="3.8" fill="#666" text-anchor="middle">1000</text>
<text x="152.2" y="93.5" font-size="3.8" fill="#666" text-anchor="middle">10000</text>
<path d="M201.7 77.1h0M191.9 80.6h0M223.0 65.1h0M215.8 76.9h0M193.8 75.8h0M211.3 81.6h0M202.4 73.7h0M190.4 75.6h0M214.0 79.7h0M194.7 78.8h0M195.2 82.6h0M186.5 74.0h0M206.9 82.9h0M197.1 75.4h0M207.4 79.2h0M189.5 75.2h0M199.4 70.7h0M186.1 79.1h0M211.1 75.7h0M203.0 83.4h0M204.0 77.9h0M205.4 79.2h0M185.2 83.3h0M227.5 67.9h0M174.3 82.1h0M177.9 83.1h0M210.5 72.7h0M201.8 81.9h0M213.2 69.1h0M208.1 69.9h0M201.8 76.0h0M202.0 71.9h0M197.2 80.9h0M212.1 78.7h0M182.3 77.8h0M193.7 82.0h0M201.9 74.0h0M224.5 71.9h0M188.2 79.8h0M191.0 79.2h0M212.0 70.8h0M194.9 74.4h0M218.8 78.4h0M171.0 76.3h0M214.6 72.2h0M213.3 72.8h0M176.7 71.7h0M200.8 75.1h0M217.1 78.0h0M200.4 78.2h0M212.4 70.8h0M233.3 73.2h0M203.3 78.8h0M196.8 86.7h0M187.4 76.8h0M207.9 73.9h0M196.2 78.3h0M196.3 77.5h0M197.6 78.2h0M208.1 75.1h0M183.3 77.9h0M175.9 75.5h0M214.8 68.2h0M199.1 73.0h0M219.9 70.7h0M199.3 79.6h0M189.2 83.2h0M204.9 71.8h0M198.2 79.0h0M181.9 84.5h0M186.4 79.9h0M222.6 65.4h0M202.1 67.5h0M205.6 79.4h0M195.9 82.0h0M189.4 80.6h0M210.7 70.4h0M198.8 83.7h0M189.3 84.7h0M197.0 77.6h0M185.9 79.2h0M200.0 68.8h0M215.7 77.1h0M185.7 73.3h0M219.8 75.9h0M190.1 82.4h0M201.2 77.3h0M188.5 86.4h0M195.5 76.7h0M200.2 79.7h0M193.5 82.0h0M189.2 80.5h0M189.0 77.7h0M188.4 84.9h0M177.1 83.9h0M195.1 77.4h0M204.5 75.5h0M212.0 75.2h0M210.1 84.8h0M233.9 70.4h0M203.3 75.5h0M191.6 74.4h0M224.5 66.7h0M182.5 72.8h0M212.9 75.4h0M185.5 80.4h0M203.1 72.1h0M211.4 73.3h0M196.3 75.7h0M184.1 74.8h0M223.0 73.6h0M210.0 75.7h0M199.6 77.0h0M189.1 82.8h0M197.8 74.8h0M197.8 83.5h0M208.4 71.0h0M210.7 77.1h0M190.1 82.0h0M191.0 78.0h0M191.7 80.4h0M178.7 76.2h0M189.3 73.0h0M197.5 76.8h0M208.1 72.3h0M218.2 75.8h0M187.5 79.9h0M207.3 78.2h0M192.9 80.0h0M228.6 72.0h0M198.4 77.9h0M205.8 74.3h0M185.3 78.3h0M200.3 69.5h0M193.4 77.8h0M204.9 80.4h0M177.2 83.8h0M209.6 81.2h0M186.7 82.3h0M222.3 67.0h0M194.6 76.9h0M213.3 68.3h0M180.0 85.6h0M206.3 82.0h0M186.0 78.2h0M192.5 81.0h0M199.0 75.6h0M193.2 72.4h0M202.3 74.7h0M208.2 68.6h0M207.7 73.0h0M197.9 78.5h0M180.3 84.4h0M188.7 85.1h0M195.9 76.5h0M210.0 76.8h0M196.0 80.3h0M192.9 66.4h0M211.7 71.3h0M209.1 78.6h0M201.1 72.0h0M185.0 81.3h0M204.1 79.8h0M202.2 68.5h0M186.2 79.2h0M214.0 75.1h0M206.2 75.8h0M201.0 78.3h0M180.5 78.8h0M215.8 77.2h0M210.8 76.6h0M182.8 78.3h0M186.6 80.6h0M199.8 74.1h0M194.9 75.1h0M219.2 66.2h0M209.2 74.0h0M195.6 81.4h0M207.2 75.9h0M202.8 73.7h0M210.8 72.4h0M197.0 80.8h0M187.5 73.2h0M208.8 83.9h0M226.6 71.0h0M203.7 85.4h0M184.1 85.3h0M219.1 71.0h0M172.9 85.8h0M206.3 76.6h0M191.1 80.8h0M212.8 77.5h0M186.4 77.4h0M217.1 70.5h0M202.8 74.4h0M173.2 76.6h0M170.7 81.9h0M194.6 78.9h0M217.5 74.2h0M200.9 77.4h0M199.5 75.2h0M196.2 81.0h0M207.6 66.4h0M203.9 74.2h0M202.6 74.8h0M185.7 83.6h0M216.3 76.1h0M218.9 76.1h0M180.4 80.9h0M232.4 73.9h0M208.3 70.6h0M192.0 78.7h0M209.7 82.0h0M208.2 81.8h0M189.9 76.2h0M172.7 78.8h0M213.0 64.9h0M189.2 72.4h0M192.3 78.8h0M239.1 67.7h0M227.8 64.4h0M212.0 72.0h0M191.8 75.5h0M208.5 76.9h0M200.2 75.7h0M188.2 79.7h0M180.6 80.7h0M174.6 73.1h0M206.5 76.0h0M200.1 76.4h0M201.8 79.5h0M209.2 66.8h0M187.5 82.6h0M180.8 78.0h0M173.9 83.4h0M195.2 82.9h0M208.4 68.6h0M195.6 72.0h0M208.8 79.1h0M181.1 75.8h0M191.4 74.4h0M188.5 81.7h0M181.0 79.8h0M225.9 74.5h0M211.2 75.6h0M188.1 79.1h0M188.9 83.3h0M200.0 86.1h0M178.3 80.9h0M206.4 81.7h0M181.5 85.5h0M193.7 78.5h0M184.7 81.9h0M191.3 74.5h0M179.5 78.4h0M176.8 82.8h0M185.1 79.7h0M190.4 84.3h0M193.6 72.5h0M199.6 75.5h0M220.0 69.7h0M210.3 73.9h0M196.3 82.5h0M208.1 69.8h0M189.9 82.5h0M218.9 70.2h0M206.4 74.0h0M180.5 85.1h0M209.3 73.5h0M211.0 77.2h0M188.1 78.5h0M191.9 76.9h0M183.1 77.1h0M185.6 80.5h0M206.3 76.3h0M201.8 69.9h0M237.0 73.2h0M193.8 80.5h0M214.1 68.2h0M199.1 72.5h0M203.2 78.3h0M180.9 73.3h0M171.1 79.7h0M188.0 79.1h0M209.6 74.2h0M221.3 72.0h0M207.8 76.8h0M205.3 72.2h0M186.6 77.5h0M222.5 80.8h0M216.7 67.2h0M191.0 76.8h0M198.3 77.6h0M184.2 77.4h0M220.8 77.6h0M204.7 76.1h0M198.2 80.5h0M202.4 65.1h0M206.2 80.6h0M194.1 83.0h0M180.6 77.7h0M181.8 86.3h0M174.5 83.4h0M206.3 79.5h0M232.0 77.8h0M174.9 82.6h0M200.0 72.5h0M204.7 75.8h0M183.8 74.8h0M201.1 73.2h0M182.7 77.3h0M215.3 70.6h0M191.5 83.7h0M201.1 80.3h0M207.8 71.4h0M193.8 83.1h0M172.1 75.6h0M190.8 76.0h0M209.6 74.3h0M198.8 82.3h0M202.8 79.5h0M184.0 82.3h0M202.1 82.1h0M209.9 77.9h0M200.6 82.7h0M225.3 68.2h0M194.5 70.9h0M183.8 78.6h0M176.7 85.5h0M215.5 74.8h0M198.9 81.1h0M213.9 77.1h0M205.9 78.0h0M222.7 75.7h0M216.3 70.5h0M194.5 82.9h0M201.9 72.3h0M214.2 73.5h0M180.2 75.1h0M220.0 74.9h0M214.8 67.2h0M214.1 80.1h0M194.9 72.3h0M203.5 77.4h0M183.0 80.0h0M199.0 73.5h0M191.7 84.1h0M199.8 75.2h0M193.2 84.8h0M202.1 72.2h0M215.0 70.4h0M178.6 73.0h0M212.6 76.7h0M197.1 76.9h0M198.2 73.4h0M207.3 85.6h0M176.2 85.3h0M196.5 69.8h0M200.5 75.6h0M214.5 62.7h0M198.9 84.1h0M208.2 83.8h0M186.4 86.2h0M196.2 77.6h0M192.1 76.2h0M207.7 69.4h0M185.4 82.4h0M186.5 76.7h0M206.8 74.0h0M223.8 69.2h0M204.1 74.8h0M204.0 80.0h0M195.5 85.3h0M214.5 74.6h0M206.6 75.7h0M222.6 67.5h0M202.6 71.2h0M184.6 75.8h0M191.6 82.6h0M185.2 81.3h0M182.1 85.0h0M217.2 75.2h0M210.1 73.2h0M180.3 75.9h0M223.9 70.4h0M201.2 70.7h0M204.7 77.2h0M197.7 76.0h0M171.1 81.6h0M200.0 79.5h0M203.0 75.7h0M206.5 74.1h0M208.2 77.5h0M193.5 84.6h0M199.4 71.8h0M193.0 69.0h0M188.3 85.4h0M194.0 79.1h0M218.9 76.9h0M178.1 80.5h0M203.7 83.0h0M203.2 84.3h0M187.9 74.6h0M193.3 81.4h0M178.6 79.0h0M185.5 73.2h0M198.9 76.0h0M204.1 78.7h0M185.0 74.3h0M241.2 62.7h0M191.9 84.1h0M200.8 77.0h0M196.0 79.6h0M192.3 73.7h0M216.8 70.6h0M192.3 79.2h0M218.0 74.0h0M215.3 74.4h0M213.8 74.7h0M188.4 72.8h0M237.0 65.3h0M193.4 78.1h0M186.7 85.3h0M171.2 80.0h0M180.2 79.4h0M190.7 78.7h0M184.1 77.1h0M180.8 77.3h0M188.8 78.2h0M196.8 81.8h0M219.9 74.7h0M174.5 81.0h0M191.4 80.3h0M184.2 74.5h0M178.3 85.7h0M181.6 83.9h0M186.3 81.0h0M207.6 68.1h0M197.9 86.0h0M188.7 66.5h0M206.7 71.0h0M202.1 72.3h0M196.3 80.5h0M203.0 69.6h0M187.3 80.5h0M207.7 74.5h0M205.3 74.4h0M193.8 81.8h0M182.9 86.6h0M220.8 74.0h0M200.0 75.6h0M240.2 58.3h0M190.9 85.1h0M210.7 73.2h0M191.1 70.6h0M202.6 76.9h0M212.0 80.5h0M187.4 78.8h0M196.4 72.4h0M203.2 85.9h0M201.0 79.2h0M207.7 76.7h0M214.3 78.2h0M208.8 65.5h0M202.6 76.0h0M193.8 77.4h0M188.0 76.9h0M190.9 76.4h0M207.4 69.2h0M193.0 74.7h0M181.1 80.0h0M208.0 76.3h0M187.3 78.7h0M196.1 79.8h0M206.2 78.3h0M183.6 83.1h0M200.9 74.4h0M192.4 71.8h0M187.0 81.2h0M190.5 75.3h0M219.7 78.4h0M191.8 75.3h0M207.1 65.7h0M210.2 74.9h0M193.5 82.9h0M205.0 74.9h0M192.7 79.2h0M190.4 79.6h0M211.6 75.7h0M193.2 78.1h0M190.5 76.2h0M181.5 73.7h0M225.8 77.5h0M210.5 79.6h0M196.2 73.5h0M189.6 81.7h0M177.5 83.1h0M202.7 74.6h0M202.7 74.9h0M179.6 84.5h0M214.3 68.6h0M209.5 72.6h0M185.2 79.7h0M191.0 78.7h0M192.7 77.5h0M201.4 77.5h0M197.3 79.7h0M174.9 78.3h0M219.9 73.0h0M202.9 73.9h0M218.1 79.6h0M215.5 67.4h0M195.8 76.7h0M204.4 79.0h0M209.1 73.7h0M209.5 73.4h0M196.1 75.3h0M190.4 80.3h0M198.4 72.1h0M187.5 79.2h0M190.9 78.4h0M200.3 78.0h0M183.9 78.3h0M191.3 80.1h0M198.9 80.9h0M203.7 77.6h0M224.7 66.5h0M202.1 77.9h0M177.5 74.8h0M200.1 73.6h0M192.0 85.9h0M204.6 76.0h0M190.6 85.7h0M188.7 78.6h0M191.7 78.8h0M189.0 74.5h0M173.9 86.6h0M189.3 78.4h0M199.3 79.9h0M216.4 75.4h0M195.3 80.4h0M194.0 79.7h0M207.1 75.4h0M206.6 75.6h0M221.0 69.6h0M205.4 66.7h0M199.1 79.4h0M219.8 81.9h0M221.6 77.2h0M201.6 78.9h0M174.3 78.4h0M192.9 74.4h0M187.1 83.2h0M196.2 79.5h0M192.0 78.2h0M197.3 81.0h0M196.8 74.1h0M206.5 78.1h0M202.0 75.6h0M191.2 79.8h0M181.8 86.3h0M216.4 73.2h0M220.3 78.9h0M193.7 84.4h0M206.3 72.6h0M175.7 77.1h0M195.1 77.9h0M220.5 76.1h0M182.1 71.2h0M188.1 84.3h0M222.8 77.4h0M172.1 82.8h0M208.4 76.7h0M206.1 77.0h0M195.9 77.3h0M202.6 81.4h0M235.9 68.1h0M183.0 80.8h0M194.9 80.0h0M196.4 81.8h0M190.2 84.2h0M178.7 75.4h0M219.8 64.3h0M202.0 76.3h0M174.0 82.6h0M188.1 75.2h0M205.0 77.6h0M205.3 78.9h0M178.9 83.5h0M199.2 84.7h0M201.8 72.4h0M204.6 76.4h0M206.3 84.4h0M173.8 85.9h0M224.2 67.3h0M202.2 77.7h0M225.7 77.0h0M241.5 77.6h0M197.3 80.8h0M182.5 86.1h0M210.3 70.3h0M196.2 77.0h0M193.7 83.9h0M183.5 76.6h0M222.9 72.2h0M191.1 71.1h0M192.5 78.3h0M183.1 83.4h0M199.9 70.8h0M191.9 73.3h0M207.2 74.3h0M189.4 77.2h0M209.7 77.5h0M217.4 76.0h0M192.1 70.4h0M189.0 75.4h0M201.9 77.1h0M211.6 74.8h0M199.3 79.0h0M200.6 75.3h0M198.4 76.4h0M203.6 77.5h0M207.3 72.7h0M188.2 76.1h0M191.7 76.7h0M199.6 77.4h0M189.4 78.9h0M200.5 75.1h0M206.4 74.8h0M198.6 77.3h0M190.7 80.6h0M188.3 81.3h0M222.7 66.8h0M212.3 78.9h0M181.7 74.2h0M187.5 82.3h0M224.9 68.9h0M220.9 75.3h0M201.7 81.5h0M213.8 66.2h0M178.4 84.4h0M199.3 78.6h0M209.1 73.3h0M172.9 84.7h0M187.4 77.8h0M210.2 75.6h0M214.1 69.7h0M191.3 82.5h0M203.6 79.0h0M222.3 75.7h0M193.0 75.9h0M199.9 85.8h0M193.3 78.3h0M217.1 71.8h0M200.9 75.3h0M188.2 82.7h0M233.9 74.5h0M191.2 75.9h0M203.9 67.6h0M209.0 77.3h0M210.1 74.9h0M201.6 77.6h0M207.8 77.8h0M197.0 73.0h0M178.9 82.0h0M195.6 76.9h0M196.5 79.6h0M197.5 83.0h0M200.9 77.0h0M189.4 75.7h0M218.8 78.6h0M221.8 75.6h0M197.5 69.9h0M188.1 75.9h0M205.3 78.4h0M189.7 77.0h0M194.0 80.3h0M189.2 76.7h0M214.0 72.3h0M217.0 75.8h0M202.7 75.4h0M208.9 75.8h0M198.1 81.3h0M201.9 81.6h0M187.9 77.1h0M199.2 76.2h0M187.7 74.0h0M203.1 70.8h0M211.0 76.0h0M202.9 74.2h0M214.1 66.1h0M237.6 71.4h0M198.9 76.0h0M191.3 80.7h0M192.8 80.3h0M179.6 81.1h0M198.0 68.9h0M195.8 80.4h0M189.5 76.7h0M194.1 72.2h0M188.6 70.0h0M214.4 74.6h0M194.7 78.7h0M186.0 82.7h0M203.2 76.0h0M188.3 73.2h0M212.4 78.7h0M175.6 84.5h0M197.2 84.3h0M202.3 84.8h0M217.4 69.9h0M215.4 71.9h0M202.1 80.4h0M188.3 80.3h0M193.2 79.4h0M215.2 77.9h0M224.9 75.0h0M206.3 73.8h0M189.9 79.8h0M212.9 71.3h0M193.5 77.6h0M192.2 74.0h0M193.3 70.1h0M206.9 73.5h0M202.3 74.1h0M213.8 78.0h0M218.7 79.9h0M206.3 75.9h0M174.3 79.8h0M200.4 73.0h0M197.8 76.4h0M229.3 69.7h0M198.8 78.7h0M196.9 78.3h0M213.8 81.3h0M213.9 73.3h0M194.2 71.3h0M205.8 76.4h0M182.3 78.1h0M185.8 81.1h0M217.4 78.3h0M178.5 79.0h0M212.0 74.3h0M209.0 77.5h0M209.1 71.2h0M212.1 75.5h0M207.4 77.9h0M185.7 84.9h0M190.9 81.5h0M212.3 76.2h0M181.8 75.1h0M186.6 68.5h0M193.0 74.5h0M218.9 79.3h0M178.6 82.2h0M177.8 72.2h0M207.5 73.8h0M202.1 68.8h0M193.0 81.1h0M175.6 77.5h0M193.9 83.0h0M184.8 80.6h0M203.0 70.9h0M220.4 74.1h0M197.5 71.4h0M201.4 81.9h0M190.9 79.7h0M199.5 81.3h0M214.0 74.7h0M170.7 78.5h0M207.8 72.8h0M190.3 74.0h0M199.1 73.0h0M203.7 77.1h0M212.0 79.3h0M203.1 80.3h0M193.9 80.8h0M202.9 74.2h0M199.6 79.5h0M195.3 74.6h0M202.1 77.7h0M212.1 78.3h0M200.8 76.3h0M200.8 75.1h0M180.4 79.6h0M197.7 80.4h0M172.4 81.8h0M208.0 69.5h0M185.3 78.6h0M216.4 69.2h0M242.8 74.6h0M193.4 78.7h0M216.6 67.4h0M205.0 77.3h0M191.7 82.1h0M187.4 81.6h0M206.7 74.3h0M218.9 73.9h0M204.3 77.6h0M178.4 86.1h0M184.5 82.1h0M218.1 72.5h0M204.3 82.9h0M203.7 76.6h0M214.7 66.9h0M195.1 73.3h0M196.2 70.3h0M194.9 71.0h0M205.0 73.4h0M205.3 78.7h0M212.1 70.9h0M182.1 81.0h0M186.5 75.6h0M213.0 78.2h0M203.4 75.5h0M218.1 71.5h0M186.6 79.4h0M203.7 85.8h0M189.8 81.4h0M204.1 80.0h0M191.0 73.9h0M206.0 73.2h0M214.6 75.4h0M207.0 67.9h0M212.6 75.8h0M205.3 76.1h0M184.0 79.8h0M186.2 79.2h0M198.7 75.4h0M208.3 81.4h0M193.2 81.7h0M202.7 75.4h0M200.6 73.4h0M234.8 75.7h0M179.7 76.4h0M234.3 67.4h0M224.4 75.1h0M204.2 81.0h0M221.4 67.1h0M200.1 76.1h0M212.9 74.6h0M188.5 79.1h0M199.4 73.7h0M185.2 83.3h0M176.2 80.1h0M194.9 77.3h0M187.7 70.3h0M207.0 75.3h0M215.3 65.7h0M197.2 80.9h0M200.3 79.3h0M201.2 74.8h0M175.3 83.2h0M202.9 77.1h0M199.0 76.8h0M198.7 79.1h0M183.3 80.3h0M170.5 81.5h0M194.8 75.0h0M204.9 83.4h0M218.2 74.2h0M215.0 74.0h0M220.3 76.0h0M203.9 74.8h0M215.1 72.4h0M196.7 80.8h0M208.8 79.8h0M212.8 77.4h0M235.9 63.3h0M202.5 77.0h0M180.9 81.2h0M218.9 75.2h0M187.0 76.2h0M197.2 73.4h0M194.7 77.9h0M185.3 76.6h0M217.0 69.1h0M207.4 75.4h0M191.1 83.1h0M200.1 77.8h0M193.8 83.3h0M206.9 71.6h0M194.2 81.5h0M188.1 79.7h0M189.1 75.8h0M192.4 77.1h0M202.4 73.1h0M185.8 79.4h0M197.1 74.7h0M206.4 81.2h0M231.8 69.0h0M209.9 69.1h0M192.1 80.6h0M193.1 77.4h0M204.3 80.0h0M220.5 69.0h0M208.8 71.8h0M203.3 76.6h0M201.0 79.3h0M205.3 78.2h0M218.8 75.7h0M183.6 80.9h0M214.5 73.4h0M203.4 62.5h0M206.8 57.0h0M214.7 62.0h0M206.4 66.8h0M193.4 62.8h0M206.3 48.6h0M214.2 52.6h0M211.7 64.4h0M195.6 70.4h0M214.3 62.1h0M224.8 56.7h0M192.1 60.3h0M185.0 69.3h0M207.0 64.8h0M207.3 58.8h0M214.6 59.8h0M209.8 48.6h0M203.4 50.1h0M215.8 67.3h0M210.8 60.8h0M208.7 60.7h0M209.6 66.4h0M210.9 71.2h0M219.5 71.8h0M202.7 42.0h0M203.7 61.5h0M217.6 59.6h0M195.0 49.1h0M199.3 48.0h0M206.6 56.1h0M196.0 75.8h0M205.6 64.5h0M218.8 67.1h0M213.3 56.3h0M199.5 68.4h0M203.6 69.6h0M198.7 64.3h0M204.1 58.4h0M205.9 58.6h0M183.2 41.8h0M209.5 58.3h0M201.5 46.3h0M203.2 53.0h0M202.6 64.2h0M205.7 60.6h0M186.4 52.4h0M209.3 59.8h0M209.8 61.2h0M205.7 59.1h0M198.5 66.0h0M217.7 56.1h0M210.3 43.3h0M190.5 63.2h0M208.5 54.2h0M203.9 49.7h0M185.4 66.7h0M207.9 50.7h0M210.9 54.6h0M209.3 49.7h0M210.1 63.0h0M206.9 72.9h0M200.3 56.0h0M210.2 55.8h0M215.4 53.4h0M203.3 61.9h0M203.3 57.4h0M205.4 41.7h0M189.9 67.5h0M209.2 55.0h0M201.2 51.9h0M188.0 64.3h0M210.7 51.5h0M199.4 62.2h0M211.4 52.6h0M216.1 50.6h0M196.4 62.6h0M197.1 63.2h0M205.9 57.5h0M195.3 70.7h0M212.4 56.1h0M205.4 52.1h0M218.5 63.9h0M191.8 64.8h0M211.9 65.8h0M206.8 49.3h0M193.3 67.3h0M217.9 64.2h0M198.6 69.9h0M207.7 57.2h0M194.0 58.7h0M210.7 50.8h0M219.1 49.9h0M203.9 51.3h0M204.3 52.8h0M213.7 46.6h0M199.8 53.0h0M207.2 58.5h0M207.8 43.8h0M210.0 56.6h0M220.6 55.5h0M213.2 47.2h0M219.1 44.7h0M206.2 57.4h0M215.2 52.8h0M202.5 65.8h0M208.2 42.0h0M220.3 50.2h0M229.1 56.6h0M196.8 62.2h0M210.1 68.1h0M218.3 67.3h0M198.1 57.1h0M215.1 63.9h0M212.4 58.1h0M202.8 58.8h0M201.6 57.4h0M198.7 59.2h0M206.6 50.5h0M216.3 51.3h0M211.6 61.5h0M232.3 54.2h0M193.9 60.3h0M203.6 62.3h0M213.4 57.4h0M191.1 47.4h0M211.5 60.0h0M209.8 46.7h0M205.0 49.6h0M207.2 62.8h0M218.8 63.5h0M207.0 48.9h0M210.1 49.1h0M208.5 49.4h0M199.9 56.4h0M196.9 58.9h0M201.4 53.5h0M203.6 46.7h0M210.0 68.2h0M212.9 50.5h0M206.6 51.6h0M216.9 58.7h0M206.6 54.4h0M203.9 66.1h0M215.6 58.5h0M213.3 61.0h0M198.8 57.8h0M205.1 62.3h0M224.7 37.5h0M175.7 61.6h0M215.8 53.2h0M206.2 55.0h0M209.7 65.3h0M203.4 56.6h0M197.5 48.6h0M225.6 48.6h0M202.1 57.0h0M204.5 59.4h0M209.7 47.3h0M207.4 51.1h0M205.1 58.2h0M206.1 62.6h0M196.8 64.6h0M217.1 57.6h0M193.9 52.6h0M186.2 65.1h0M215.4 54.6h0M215.0 60.1h0M209.8 57.5h0M201.4 57.8h0M215.6 52.1h0M197.3 60.8h0M184.7 57.1h0M207.6 56.9h0M215.0 59.1h0M213.2 59.2h0M217.9 38.5h0M213.0 54.2h0M200.2 49.4h0M207.7 64.5h0M214.9 57.2h0M207.7 61.8h0M203.3 54.0h0M186.6 52.6h0M200.8 52.4h0M194.7 60.2h0M204.0 47.7h0M204.5 51.0h0M216.8 65.0h0M217.0 42.9h0M206.2 61.3h0M212.7 41.0h0M197.7 63.2h0M209.7 61.7h0M215.1 56.4h0M225.3 57.1h0M202.2 72.2h0M200.3 50.3h0M208.0 58.5h0M206.8 60.9h0M199.6 63.6h0M197.3 73.0h0M197.0 63.8h0M208.8 64.9h0M198.5 69.4h0M221.0 51.7h0M217.7 56.1h0M188.6 60.3h0M203.1 61.3h0M217.5 53.7h0M217.6 51.2h0M214.0 50.6h0M197.3 68.7h0M202.9 58.4h0M222.9 66.2h0M210.7 65.0h0M204.6 63.9h0M208.8 52.3h0M216.8 59.3h0M207.8 58.0h0M208.5 57.3h0M212.0 47.2h0M203.3 63.3h0M199.5 62.7h0M211.2 52.1h0M194.7 58.3h0M209.6 54.3h0M196.7 52.7h0M211.6 51.3h0M200.4 70.4h0M213.7 49.6h0M214.9 70.3h0M200.1 51.1h0M202.2 67.5h0M208.0 64.8h0M201.9 68.1h0M198.1 65.7h0M210.6 44.3h0M214.3 62.3h0M219.2 59.4h0M195.3 63.2h0M183.9 51.3h0M196.3 70.1h0M209.0 49.9h0M212.0 53.1h0M194.5 72.1h0M218.2 61.7h0M203.7 61.7h0M194.9 59.1h0M210.2 68.1h0M214.0 62.4h0M204.0 57.7h0M202.1 52.8h0M200.1 62.7h0M190.8 55.2h0M207.9 69.6h0M194.3 66.9h0M210.0 53.4h0M200.3 63.4h0M212.2 42.9h0M192.9 63.4h0M215.8 48.6h0M194.5 51.7h0M197.1 57.3h0M209.4 58.6h0M209.5 45.8h0M205.2 56.7h0M199.1 50.4h0M222.9 51.2h0M205.3 45.3h0M198.2 66.4h0M205.7 62.5h0M222.1 56.1h0M213.7 67.0h0M213.2 55.5h0M223.0 50.6h0M202.8 63.4h0M207.8 53.4h0M195.3 48.9h0M202.6 50.4h0M207.0 48.3h0M195.6 63.8h0M205.4 53.2h0M206.1 54.7h0M216.2 56.9h0M201.7 60.9h0M201.1 74.2h0M209.1 55.7h0M194.2 56.3h0M211.0 64.3h0M209.5 52.9h0M198.6 60.5h0M207.7 63.9h0M198.0 62.6h0M184.7 72.5h0M192.4 59.5h0M188.1 63.8h0M207.9 61.4h0M195.7 58.6h0M203.7 55.9h0M205.5 57.7h0M219.0 63.1h0M207.2 67.8h0M203.3 60.7h0M210.3 56.3h0M217.3 47.5h0M209.0 65.9h0M209.9 59.0h0M207.1 64.2h0M196.4 52.3h0M195.7 68.6h0M205.8 59.1h0M206.0 63.4h0M206.9 65.0h0M222.3 50.5h0M202.3 57.1h0M210.7 60.8h0M199.9 52.2h0M219.7 62.0h0M204.7 61.2h0M218.3 44.4h0M207.6 66.7h0M215.2 60.8h0M218.7 63.3h0M207.0 64.9h0M214.6 57.8h0M206.6 57.7h0M197.1 54.8h0M202.8 65.2h0M210.6 60.4h0M219.7 48.9h0M203.9 63.6h0M208.3 50.9h0M202.6 67.6h0M208.8 58.1h0M196.3 64.6h0M197.8 56.9h0M208.8 63.8h0M200.6 62.0h0M202.5 55.9h0M215.6 56.6h0M204.6 57.4h0M203.2 67.1h0M192.0 53.9h0M198.7 53.4h0M221.2 65.7h0M204.2 55.5h0M206.4 61.6h0M211.0 53.0h0M213.7 56.2h0M221.6 69.7h0M197.9 47.8h0M200.2 64.8h0M192.7 64.8h0M200.7 60.9h0M201.0 54.8h0M209.5 49.7h0M212.6 64.9h0M203.0 63.2h0M210.1 47.6h0M195.9 62.9h0M193.9 54.2h0M204.5 79.5h0M198.3 64.4h0M199.1 48.4h0M201.8 66.7h0M201.7 64.6h0M217.9 54.8h0M194.7 64.7h0M196.2 58.7h0M203.7 57.8h0M204.2 44.4h0M213.7 63.9h0M209.5 70.9h0M204.5 62.4h0M205.6 62.6h0M208.4 47.1h0M197.4 59.0h0M183.0 58.6h0M204.0 49.5h0M198.0 65.6h0M209.5 66.6h0M217.3 52.3h0M213.7 72.2h0M223.4 55.8h0M186.9 50.7h0M206.9 54.6h0M212.9 64.2h0M213.3 55.7h0M203.0 66.8h0M202.8 47.4h0M210.6 65.0h0M203.6 50.6h0M195.8 65.1h0M197.9 77.0h0M210.7 56.3h0M208.3 55.2h0M208.5 62.2h0M209.0 50.5h0M212.3 48.1h0M199.4 68.1h0M208.4 46.0h0M214.9 44.8h0M219.4 64.3h0M207.6 48.2h0M213.2 57.7h0M197.5 69.8h0M202.0 59.3h0M211.7 47.6h0M220.6 57.0h0M207.5 50.4h0M208.4 72.0h0M211.3 71.3h0M210.5 48.4h0M224.4 53.4h0M210.9 50.5h0M203.2 61.9h0M210.8 53.8h0M207.3 50.2h0M227.4 51.5h0M206.7 45.6h0M207.6 59.3h0M205.4 57.0h0M194.3 57.6h0M200.3 66.9h0M202.7 59.6h0M198.9 58.6h0M207.6 55.8h0M206.7 55.8h0M216.7 59.5h0M218.0 50.0h0M199.7 39.8h0M196.3 39.9h0M188.4 58.3h0M206.1 48.6h0M211.1 53.4h0M196.4 52.4h0M201.0 54.2h0M204.4 68.0h0M211.4 45.6h0M213.9 60.2h0M216.0 52.1h0M200.2 69.8h0M230.6 52.7h0M199.7 61.1h0M201.1 67.8h0M208.6 58.2h0M198.8 53.1h0M222.7 53.6h0M204.5 62.2h0M200.5 59.6h0M215.1 55.5h0M215.2 50.5h0M200.5 62.8h0M201.8 57.9h0M199.3 50.0h0M204.4 56.8h0M224.8 60.7h0M219.0 57.9h0M219.3 62.6h0M216.8 53.0h0M205.4 55.3h0M210.6 48.2h0M206.2 59.0h0M203.1 66.7h0M222.2 56.3h0M194.1 68.9h0M205.0 54.8h0M201.9 60.7h0M190.6 59.6h0M205.5 64.2h0M208.5 61.1h0M208.3 52.3h0M199.9 61.7h0M206.2 41.6h0M210.7 60.8h0M210.6 49.9h0M189.5 63.0h0M204.2 63.1h0M203.0 64.2h0M209.0 51.7h0M204.5 70.1h0M207.6 71.7h0M200.8 70.8h0M200.0 70.1h0M198.7 61.8h0M217.8 62.4h0M195.0 56.7h0M183.2 60.6h0M208.9 57.7h0M203.1 61.1h0M208.2 50.7h0M215.3 66.4h0M199.5 50.4h0M196.9 47.3h0M200.4 57.6h0M210.5 67.6h0M201.7 65.3h0M208.6 59.2h0M217.7 53.4h0M202.1 63.7h0M201.8 62.1h0M201.1 60.9h0M210.7 54.8h0M206.9 45.9h0M220.4 58.1h0M210.6 52.6h0M208.1 59.6h0M211.1 59.0h0M198.2 68.9h0M208.5 51.0h0M209.7 62.0h0M225.3 54.9h0M217.0 51.9h0M199.2 60.6h0M201.9 60.8h0M210.4 48.4h0M188.0 62.9h0M195.5 54.5h0M212.4 63.4h0M209.2 50.7h0M204.6 50.7h0M216.0 54.2h0M205.3 61.9h0M205.8 55.2h0M201.9 52.8h0M198.3 64.3h0M208.8 62.5h0M197.1 50.1h0M209.2 62.7h0M179.9 57.1h0M208.8 61.2h0M200.4 57.1h0M200.4 58.5h0M208.4 61.7h0M206.2 68.0h0M219.4 66.5h0M220.0 61.0h0M215.2 58.4h0M210.3 46.1h0M207.9 53.9h0M206.7 58.3h0M194.0 59.0h0M204.7 62.5h0M215.3 51.6h0M217.2 65.3h0M201.6 58.4h0M203.5 49.8h0M213.3 50.6h0M202.8 54.0h0M221.2 55.7h0M203.8 68.8h0M215.3 60.7h0M214.6 61.0h0M205.6 52.9h0M205.5 50.0h0M208.3 50.9h0M187.7 66.5h0M209.0 53.9h0M216.2 55.0h0M212.2 62.2h0M215.6 53.9h0M201.2 72.2h0M203.5 53.4h0M210.6 60.2h0M203.9 58.4h0M218.6 59.2h0M210.0 55.7h0M200.5 56.5h0M212.5 53.9h0M210.4 49.4h0M199.6 52.9h0M213.5 60.1h0M207.6 52.7h0M212.4 63.5h0M202.9 77.3h0M215.5 50.7h0M213.8 60.4h0M205.7 57.3h0M203.8 45.2h0M208.6 55.9h0M207.7 67.6h0M198.0 52.7h0M206.5 56.3h0M200.8 58.9h0M198.2 50.9h0M197.5 63.9h0M203.4 57.8h0M215.9 57.2h0M208.0 57.1h0M202.6 49.1h0M203.9 59.6h0M204.3 62.9h0M193.2 61.8h0M221.1 54.6h0M201.6 63.6h0M187.9 50.6h0M211.0 59.7h0M202.5 44.6h0M198.2 51.9h0M193.6 62.3h0M192.0 56.9h0M216.5 46.7h0M208.1 64.4h0M197.7 53.6h0M224.4 57.3h0M206.5 70.2h0M202.3 69.2h0M207.3 48.8h0M204.7 46.9h0M218.8 51.8h0M199.1 75.8h0M207.7 55.0h0M190.5 60.4h0M209.3 54.8h0M202.6 64.2h0M205.4 66.1h0M199.9 60.1h0M212.4 53.3h0M220.5 54.1h0M205.3 57.8h0M202.7 55.9h0M196.9 48.8h0M210.5 56.0h0M195.8 57.7h0M234.2 42.4h0M203.2 56.4h0M217.4 45.6h0M208.6 60.0h0M197.6 68.8h0M194.6 66.4h0M200.6 55.1h0M200.5 61.1h0M205.8 62.4h0M196.2 61.1h0M226.9 52.5h0M219.3 40.9h0M190.5 62.9h0M213.7 64.0h0M218.4 58.7h0M202.7 57.9h0M204.3 59.0h0M220.6 65.9h0M213.2 61.8h0M194.0 57.9h0M216.7 54.6h0M200.6 56.6h0M219.4 46.9h0M194.6 54.0h0M189.0 70.4h0M212.7 70.2h0M218.1 57.9h0M206.4 47.8h0M208.5 60.1h0M194.2 52.5h0M213.9 55.4h0M193.5 70.9h0M216.3 63.3h0M196.2 62.9h0M201.7 61.8h0M194.9 62.8h0M197.7 60.1h0M222.2 61.2h0M193.4 56.6h0M202.8 47.6h0M203.8 71.1h0M220.3 67.1h0M190.0 53.5h0M208.2 63.2h0M215.2 59.0h0M223.0 46.6h0M193.2 56.6h0M198.8 62.0h0M204.2 56.0h0M220.0 56.9h0M195.4 57.9h0M215.5 61.5h0M198.6 56.4h0M201.4 71.3h0M194.8 69.1h0M209.7 64.0h0M212.5 51.7h0M204.0 56.8h0M187.7 65.4h0M204.1 66.9h0M211.6 50.2h0M210.5 49.8h0M207.1 55.4h0M218.6 54.2h0M194.7 62.2h0M195.0 62.2h0M221.5 40.9h0M209.2 51.6h0M200.8 52.3h0M204.2 65.9h0M184.0 67.5h0M214.2 58.6h0M184.6 58.0h0M189.0 65.2h0M206.0 60.2h0M214.9 45.8h0M200.3 55.5h0M207.0 53.3h0M202.2 60.3h0M209.4 57.9h0M187.6 55.9h0M223.7 51.6h0M197.9 62.8h0M210.8 57.3h0M186.0 60.6h0M219.9 50.5h0M212.5 63.6h0M225.2 56.8h0M198.2 56.7h0M218.4 63.2h0M202.8 56.0h0M202.6 52.6h0M219.3 59.3h0M198.8 63.2h0M217.9 68.4h0M221.0 48.8h0M220.4 51.7h0M216.3 57.9h0M209.0 58.0h0M196.4 59.1h0M217.5 52.1h0M199.8 60.2h0M215.5 52.9h0M202.7 58.8h0M201.5 48.6h0M208.0 62.9h0M209.0 51.7h0M201.3 57.9h0M204.9 52.3h0M200.7 58.5h0M212.7 61.4h0M211.5 64.0h0M210.1 57.9h0M199.1 61.9h0M206.9 53.3h0M205.2 55.9h0M211.1 56.8h0M205.6 56.6h0M194.8 55.6h0M211.8 55.2h0M197.2 54.1h0M213.7 68.8h0M189.2 67.5h0M208.2 52.4h0M212.4 57.9h0M195.9 56.8h0M209.7 53.9h0M206.8 68.3h0M220.6 59.9h0M207.8 48.1h0M192.2 55.9h0M202.5 55.5h0M197.1 77.8h0M203.1 59.3h0M210.8 57.1h0M211.1 51.5h0M208.4 65.9h0M206.3 64.3h0M202.2 46.9h0M198.3 55.0h0M203.3 45.6h0M211.7 46.5h0M205.0 52.1h0M209.1 46.5h0M197.5 56.9h0M203.5 63.6h0M211.6 63.0h0M222.8 50.5h0M216.1 58.0h0M216.2 43.0h0M210.3 66.1h0M222.4 66.3h0M191.5 63.2h0M211.7 58.9h0M189.6 67.7h0M210.1 40.0h0M212.7 61.7h0M216.9 55.9h0M204.8 46.4h0M200.7 57.0h0M203.0 67.2h0M209.1 60.2h0M214.6 43.6h0M209.6 51.7h0M199.6 55.5h0M201.7 60.6h0M198.2 56.0h0M204.4 58.6h0M204.8 56.8h0M198.0 50.6h0M207.2 59.8h0M193.7 65.1h0M217.0 47.4h0M210.1 60.9h0M224.9 65.1h0M204.1 47.0h0M205.0 59.5h0M209.1 62.0h0M208.0 56.8h0M199.0 56.5h0M209.0 71.9h0M220.5 47.1h0M213.5 53.0h0M200.0 55.5h0M213.8 62.6h0M193.3 48.0h0M215.3 46.7h0M196.6 58.6h0M214.4 55.8h0M207.3 59.3h0M209.2 63.1h0M199.1 59.8h0M202.0 54.0h0M199.7 59.9h0M196.7 55.6h0M208.5 52.4h0M225.6 44.9h0M204.2 60.5h0M216.7 58.4h0M203.0 50.9h0M198.7 56.6h0M217.2 52.1h0M211.5 55.0h0M214.9 51.5h0M208.7 60.3h0M206.8 55.5h0M194.7 50.2h0M207.6 66.2h0M216.6 43.6h0M191.9 75.8h0M210.1 57.4h0M219.2 53.6h0M208.8 45.7h0M214.2 55.6h0M203.5 57.2h0M213.2 48.1h0M217.3 56.1h0M208.0 61.9h0M223.3 57.9h0M198.9 52.0h0M183.7 62.2h0M210.0 65.6h0M206.8 60.9h0M201.5 65.4h0M201.1 56.1h0M202.8 61.5h0M193.5 69.2h0M213.1 45.5h0M204.5 53.4h0M229.0 48.6h0M209.9 65.5h0M208.4 53.4h0M195.7 67.1h0M212.4 48.7h0M194.1 54.7h0M212.4 59.1h0M211.1 48.0h0M212.7 54.8h0M198.0 57.4h0M201.1 63.6h0M209.1 47.2h0M212.2 44.8h0M214.3 43.7h0M205.5 56.4h0M208.9 65.3h0M223.2 55.4h0M201.9 60.9h0M212.1 53.7h0M207.0 65.7h0M194.3 62.3h0M199.9 67.8h0M213.6 63.6h0M209.9 60.5h0M211.4 57.9h0M204.4 61.0h0M201.9 58.9h0M209.3 58.0h0M202.3 53.0h0M190.8 58.7h0M206.9 68.2h0M219.8 50.2h0M195.3 50.5h0M214.4 63.2h0M209.2 65.6h0M213.4 57.2h0M195.7 53.6h0M200.9 73.6h0M212.7 62.0h0M203.7 67.3h0M205.1 56.2h0M204.7 61.1h0M213.2 52.2h0M207.6 55.1h0M204.1 50.1h0M196.0 56.6h0M191.9 60.5h0M199.3 60.9h0M215.6 60.0h0M213.2 58.0h0M206.0 44.8h0M205.6 65.0h0M193.6 52.6h0M216.7 55.9h0M207.0 55.6h0M210.6 55.8h0M197.0 58.2h0M197.6 53.9h0M215.7 64.4h0M205.4 40.4h0M195.4 56.1h0M211.9 64.0h0M196.4 61.8h0M216.0 52.8h0M209.1 49.9h0M221.5 42.2h0M219.9 55.1h0M200.1 58.9h0M208.5 58.6h0M204.2 63.6h0M202.5 46.8h0M209.5 48.3h0M204.1 53.5h0M207.1 58.4h0M196.9 66.5h0M207.8 49.1h0M205.2 56.1h0M210.7 54.3h0M214.1 52.7h0M210.4 66.3h0M209.6 50.4h0M201.4 60.6h0M207.3 40.2h0M205.4 56.8h0M201.4 60.3h0M206.0 62.3h0M193.0 59.7h0M199.1 56.5h0M199.1 51.9h0M204.8 54.3h0M211.7 71.6h0M196.0 49.8h0M199.8 48.1h0M188.8 66.0h0M204.1 51.5h0M213.8 62.5h0M208.2 45.6h0M219.1 62.9h0M203.0 55.6h0M200.7 48.0h0M195.9 46.2h0M199.5 53.9h0M205.1 53.1h0M217.8 54.4h0M188.6 56.2h0M210.1 77.1h0M210.4 61.3h0M197.2 60.1h0M207.7 52.6h0M202.1 78.4h0M200.9 54.3h0M194.5 68.1h0M212.1 65.1h0M196.9 55.0h0M212.6 58.5h0M202.0 55.7h0M201.8 69.3h0M206.3 67.7h0M208.3 60.3h0M206.1 58.6h0M200.3 51.4h0M209.6 73.3h0M210.0 66.5h0M214.5 58.7h0M205.2 68.6h0M209.3 56.1h0M191.9 56.1h0M215.8 59.7h0M206.0 50.6h0M201.4 55.8h0M205.1 63.3h0M187.7 54.8h0M206.6 57.5h0M203.0 56.8h0M191.3 56.1h0M198.8 52.2h0M209.8 54.2h0M206.4 55.2h0M208.4 57.6h0M197.2 50.9h0M212.8 54.9h0M202.1 50.3h0M210.4 49.7h0M226.3 55.0h0M187.7 61.1h0M200.4 56.6h0M203.6 52.8h0M199.8 60.3h0M216.4 58.6h0M202.0 56.8h0M221.2 55.2h0M208.4 47.0h0M210.5 58.7h0M205.4 57.0h0M212.9 54.8h0M207.3 50.3h0M216.1 48.4h0M210.2 57.8h0M211.0 46.7h0M211.4 60.5h0M207.5 53.7h0M194.6 66.0h0M203.0 50.8h0M204.7 46.5h0M198.4 65.7h0M196.7 66.8h0M203.4 58.4h0M210.2 60.2h0M192.2 63.8h0M210.3 60.2h0M214.2 54.7h0M201.3 52.7h0M211.0 63.1h0M207.1 50.1h0M206.9 73.3h0M210.6 54.3h0M207.1 50.3h0M195.4 60.9h0M210.4 55.9h0M213.5 55.0h0M198.9 64.9h0M211.4 50.7h0M198.2 46.4h0M192.9 57.6h0M198.9 64.0h0M202.0 67.5h0M204.9 43.8h0M202.4 60.0h0M205.9 65.6h0M192.0 54.1h0M210.9 67.6h0M193.9 57.8h0M200.3 59.5h0M209.6 52.4h0M216.3 65.6h0M204.2 64.9h0M206.0 58.6h0M199.6 60.9h0M178.3 47.6h0M200.6 70.4h0M195.6 59.1h0M203.3 59.5h0M174.6 56.9h0M225.6 32.5h0M219.9 59.0h0M231.0 30.9h0M195.9 53.9h0M204.7 57.4h0M185.6 36.4h0" stroke="#222" stroke-opacity="0.5" stroke-width="0.85" stroke-linecap="round" fill="none"/>
<rect x="169.8" y="14.5" width="81.6" height="72.9" fill="none" stroke="#888" stroke-width="0.8"/>
<line x1="169.8" y1="14.5" x2="169.8" y2="87.4" stroke="#777" stroke-width="0.9"/>
<line x1="169.8" y1="87.4" x2="251.4" y2="87.4" stroke="#777" stroke-width="0.9"/>
<rect x="190.3" y="21.5" width="52.5" height="47.7" fill="none" stroke="#6a6a6a" stroke-width="0.8"/>
<line x1="167.8" y1="87.4" x2="169.8" y2="87.4" stroke="#555" stroke-width="0.6"/>
<line x1="168.8" y1="81.91" x2="169.8" y2="81.91" stroke="#555" stroke-width="0.6"/>
<line x1="168.8" y1="78.7" x2="169.8" y2="78.7" stroke="#555" stroke-width="0.6"/>
<line x1="168.8" y1="76.43" x2="169.8" y2="76.43" stroke="#555" stroke-width="0.6"/>
<line x1="168.8" y1="74.66" x2="169.8" y2="74.66" stroke="#555" stroke-width="0.6"/>
<line x1="168.8" y1="73.22" x2="169.8" y2="73.22" stroke="#555" stroke-width="0.6"/>
<line x1="168.8" y1="72" x2="169.8" y2="72" stroke="#555" stroke-width="0.6"/>
<line x1="168.8" y1="70.94" x2="169.8" y2="70.94" stroke="#555" stroke-width="0.6"/>
<line x1="168.8" y1="70.01" x2="169.8" y2="70.01" stroke="#555" stroke-width="0.6"/>
<line x1="167.8" y1="69.18" x2="169.8" y2="69.18" stroke="#555" stroke-width="0.6"/>
<line x1="168.8" y1="63.69" x2="169.8" y2="63.69" stroke="#555" stroke-width="0.6"/>
<line x1="168.8" y1="60.48" x2="169.8" y2="60.48" stroke="#555" stroke-width="0.6"/>
<line x1="168.8" y1="58.2" x2="169.8" y2="58.2" stroke="#555" stroke-width="0.6"/>
<line x1="168.8" y1="56.44" x2="169.8" y2="56.44" stroke="#555" stroke-width="0.6"/>
<line x1="168.8" y1="54.99" x2="169.8" y2="54.99" stroke="#555" stroke-width="0.6"/>
<line x1="168.8" y1="53.77" x2="169.8" y2="53.77" stroke="#555" stroke-width="0.6"/>
<line x1="168.8" y1="52.72" x2="169.8" y2="52.72" stroke="#555" stroke-width="0.6"/>
<line x1="168.8" y1="51.78" x2="169.8" y2="51.78" stroke="#555" stroke-width="0.6"/>
<line x1="167.8" y1="50.95" x2="169.8" y2="50.95" stroke="#555" stroke-width="0.6"/>
<line x1="168.8" y1="45.46" x2="169.8" y2="45.46" stroke="#555" stroke-width="0.6"/>
<line x1="168.8" y1="42.25" x2="169.8" y2="42.25" stroke="#555" stroke-width="0.6"/>
<line x1="168.8" y1="39.98" x2="169.8" y2="39.98" stroke="#555" stroke-width="0.6"/>
<line x1="168.8" y1="38.21" x2="169.8" y2="38.21" stroke="#555" stroke-width="0.6"/>
<line x1="168.8" y1="36.77" x2="169.8" y2="36.77" stroke="#555" stroke-width="0.6"/>
<line x1="168.8" y1="35.55" x2="169.8" y2="35.55" stroke="#555" stroke-width="0.6"/>
<line x1="168.8" y1="34.49" x2="169.8" y2="34.49" stroke="#555" stroke-width="0.6"/>
<line x1="168.8" y1="33.56" x2="169.8" y2="33.56" stroke="#555" stroke-width="0.6"/>
<line x1="167.8" y1="32.73" x2="169.8" y2="32.73" stroke="#555" stroke-width="0.6"/>
<line x1="168.8" y1="27.24" x2="169.8" y2="27.24" stroke="#555" stroke-width="0.6"/>
<line x1="168.8" y1="24.03" x2="169.8" y2="24.03" stroke="#555" stroke-width="0.6"/>
<line x1="168.8" y1="21.75" x2="169.8" y2="21.75" stroke="#555" stroke-width="0.6"/>
<line x1="168.8" y1="19.99" x2="169.8" y2="19.99" stroke="#555" stroke-width="0.6"/>
<line x1="168.8" y1="18.54" x2="169.8" y2="18.54" stroke="#555" stroke-width="0.6"/>
<line x1="168.8" y1="17.32" x2="169.8" y2="17.32" stroke="#555" stroke-width="0.6"/>
<line x1="168.8" y1="16.27" x2="169.8" y2="16.27" stroke="#555" stroke-width="0.6"/>
<line x1="168.8" y1="15.33" x2="169.8" y2="15.33" stroke="#555" stroke-width="0.6"/>
<line x1="167.8" y1="14.5" x2="169.8" y2="14.5" stroke="#555" stroke-width="0.6"/>
<text x="167.3" y="88.5" font-size="3.8" fill="#666" text-anchor="end">1</text>
<text x="167.3" y="70.28" font-size="3.8" fill="#666" text-anchor="end">10</text>
<text x="167.3" y="52.05" font-size="3.8" fill="#666" text-anchor="end">100</text>
<text x="167.3" y="33.83" font-size="3.8" fill="#666" text-anchor="end">1000</text>
<text x="167.3" y="15.6" font-size="3.8" fill="#666" text-anchor="end">10000</text>
<line x1="169.8" y1="87.4" x2="169.8" y2="89.4" stroke="#555" stroke-width="0.6"/>
<line x1="175.94" y1="87.4" x2="175.94" y2="88.4" stroke="#555" stroke-width="0.6"/>
<line x1="179.53" y1="87.4" x2="179.53" y2="88.4" stroke="#555" stroke-width="0.6"/>
<line x1="182.08" y1="87.4" x2="182.08" y2="88.4" stroke="#555" stroke-width="0.6"/>
<line x1="184.06" y1="87.4" x2="184.06" y2="88.4" stroke="#555" stroke-width="0.6"/>
<line x1="185.67" y1="87.4" x2="185.67" y2="88.4" stroke="#555" stroke-width="0.6"/>
<line x1="187.04" y1="87.4" x2="187.04" y2="88.4" stroke="#555" stroke-width="0.6"/>
<line x1="188.22" y1="87.4" x2="188.22" y2="88.4" stroke="#555" stroke-width="0.6"/>
<line x1="189.27" y1="87.4" x2="189.27" y2="88.4" stroke="#555" stroke-width="0.6"/>
<line x1="190.2" y1="87.4" x2="190.2" y2="89.4" stroke="#555" stroke-width="0.6"/>
<line x1="196.34" y1="87.4" x2="196.34" y2="88.4" stroke="#555" stroke-width="0.6"/>
<line x1="199.93" y1="87.4" x2="199.93" y2="88.4" stroke="#555" stroke-width="0.6"/>
<line x1="202.48" y1="87.4" x2="202.48" y2="88.4" stroke="#555" stroke-width="0.6"/>
<line x1="204.46" y1="87.4" x2="204.46" y2="88.4" stroke="#555" stroke-width="0.6"/>
<line x1="206.07" y1="87.4" x2="206.07" y2="88.4" stroke="#555" stroke-width="0.6"/>
<line x1="207.44" y1="87.4" x2="207.44" y2="88.4" stroke="#555" stroke-width="0.6"/>
<line x1="208.62" y1="87.4" x2="208.62" y2="88.4" stroke="#555" stroke-width="0.6"/>
<line x1="209.67" y1="87.4" x2="209.67" y2="88.4" stroke="#555" stroke-width="0.6"/>
<line x1="210.6" y1="87.4" x2="210.6" y2="89.4" stroke="#555" stroke-width="0.6"/>
<line x1="216.74" y1="87.4" x2="216.74" y2="88.4" stroke="#555" stroke-width="0.6"/>
<line x1="220.33" y1="87.4" x2="220.33" y2="88.4" stroke="#555" stroke-width="0.6"/>
<line x1="222.88" y1="87.4" x2="222.88" y2="88.4" stroke="#555" stroke-width="0.6"/>
<line x1="224.86" y1="87.4" x2="224.86" y2="88.4" stroke="#555" stroke-width="0.6"/>
<line x1="226.47" y1="87.4" x2="226.47" y2="88.4" stroke="#555" stroke-width="0.6"/>
<line x1="227.84" y1="87.4" x2="227.84" y2="88.4" stroke="#555" stroke-width="0.6"/>
<line x1="229.02" y1="87.4" x2="229.02" y2="88.4" stroke="#555" stroke-width="0.6"/>
<line x1="230.07" y1="87.4" x2="230.07" y2="88.4" stroke="#555" stroke-width="0.6"/>
<line x1="231" y1="87.4" x2="231" y2="89.4" stroke="#555" stroke-width="0.6"/>
<line x1="237.14" y1="87.4" x2="237.14" y2="88.4" stroke="#555" stroke-width="0.6"/>
<line x1="240.73" y1="87.4" x2="240.73" y2="88.4" stroke="#555" stroke-width="0.6"/>
<line x1="243.28" y1="87.4" x2="243.28" y2="88.4" stroke="#555" stroke-width="0.6"/>
<line x1="245.26" y1="87.4" x2="245.26" y2="88.4" stroke="#555" stroke-width="0.6"/>
<line x1="246.87" y1="87.4" x2="246.87" y2="88.4" stroke="#555" stroke-width="0.6"/>
<line x1="248.24" y1="87.4" x2="248.24" y2="88.4" stroke="#555" stroke-width="0.6"/>
<line x1="249.42" y1="87.4" x2="249.42" y2="88.4" stroke="#555" stroke-width="0.6"/>
<line x1="250.47" y1="87.4" x2="250.47" y2="88.4" stroke="#555" stroke-width="0.6"/>
<line x1="251.4" y1="87.4" x2="251.4" y2="89.4" stroke="#555" stroke-width="0.6"/>
<text x="169.8" y="92.6" font-size="3.8" fill="#666" text-anchor="middle">1</text>
<text x="190.2" y="92.6" font-size="3.8" fill="#666" text-anchor="middle">10</text>
<text x="210.6" y="92.6" font-size="3.8" fill="#666" text-anchor="middle">100</text>
<text x="231" y="92.6" font-size="3.8" fill="#666" text-anchor="middle">1000</text>
<text x="251.4" y="92.6" font-size="3.8" fill="#666" text-anchor="middle">10000</text>
<path d="M130.6 150.0h0M109.7 160.1h0M95.0 158.1h0M98.1 163.8h0M99.9 157.4h0M75.8 165.4h0M99.3 155.9h0M91.4 160.9h0M149.5 151.8h0M107.2 161.2h0M99.5 163.9h0M101.1 166.2h0M94.9 163.5h0M89.0 162.2h0M98.4 161.6h0M112.2 166.7h0M100.8 162.4h0M117.3 159.5h0M101.2 161.7h0M104.6 162.4h0M125.4 158.0h0M111.4 159.5h0M97.0 162.5h0M100.7 158.8h0M110.4 156.1h0M130.7 156.6h0M101.1 165.5h0M101.6 166.1h0M117.7 158.3h0M91.1 161.0h0M100.7 165.0h0M116.6 161.0h0M110.3 153.2h0M106.1 164.5h0M113.7 161.6h0M116.7 153.3h0M89.6 159.3h0M82.1 170.4h0M105.9 153.0h0M112.7 156.0h0M96.8 158.4h0M88.3 160.9h0M102.4 153.4h0M103.0 160.6h0M124.1 160.7h0M114.6 160.7h0M107.1 162.6h0M118.7 156.2h0M102.7 168.2h0M92.0 166.8h0M113.0 163.8h0M110.3 153.0h0M101.4 163.6h0M92.2 159.4h0M107.5 162.1h0M112.2 154.4h0M110.8 160.5h0M105.3 163.4h0M91.5 167.2h0M113.4 155.3h0M75.7 165.5h0M90.4 160.0h0M113.8 159.6h0M120.9 162.5h0M75.1 170.6h0M97.2 163.2h0M107.3 155.7h0M96.2 165.4h0M125.4 155.1h0M85.8 157.6h0M107.0 153.1h0M89.4 163.6h0M122.2 153.0h0M105.4 168.4h0M99.0 162.9h0M79.6 163.0h0M126.3 153.8h0M115.9 165.6h0M113.3 155.0h0M120.3 160.9h0M109.2 162.1h0M96.8 169.8h0M93.7 166.4h0M92.7 162.6h0M123.2 159.1h0M84.2 166.7h0M96.9 167.6h0M99.6 162.4h0M109.1 169.0h0M111.7 159.2h0M87.5 167.6h0M79.8 164.7h0M104.1 162.1h0M120.5 157.5h0M114.5 159.7h0M107.9 164.6h0M99.1 160.4h0M107.1 157.0h0M101.9 167.0h0M114.8 157.6h0M92.5 161.5h0M107.0 165.9h0M103.3 165.2h0M108.7 148.7h0M106.7 159.2h0M139.5 156.2h0M125.2 160.0h0M123.8 154.4h0M98.6 159.4h0M95.5 162.7h0M111.4 160.3h0M73.1 169.3h0M120.8 161.0h0M119.6 162.2h0M86.3 165.8h0M92.2 170.7h0M92.4 161.5h0M104.4 160.6h0M114.5 166.6h0M131.9 155.1h0M102.4 166.7h0M114.0 157.2h0M105.9 160.0h0M127.8 155.2h0M114.3 159.8h0M122.3 155.6h0M89.4 165.3h0M102.1 165.1h0M94.2 169.4h0M124.6 157.0h0M113.6 162.1h0M100.8 166.5h0M96.8 158.7h0M109.0 153.5h0M96.2 170.7h0M92.8 170.3h0M110.6 160.2h0M137.9 154.8h0M99.7 158.6h0M95.1 157.8h0M88.5 166.9h0M84.4 160.0h0M112.1 163.7h0M114.9 155.9h0M104.5 162.8h0M110.6 168.5h0M107.6 169.1h0M105.6 160.0h0M84.4 171.2h0M96.7 158.9h0M104.9 158.8h0M93.8 165.8h0M99.0 169.0h0M92.3 162.0h0M100.1 165.0h0M115.7 159.2h0M97.2 157.8h0M101.8 161.6h0M116.6 165.1h0M112.7 159.1h0M127.6 158.0h0M114.9 155.7h0M98.8 168.4h0M107.4 167.4h0M117.1 165.4h0M120.1 163.4h0M117.7 156.2h0M105.5 158.6h0M125.1 152.9h0M99.2 158.8h0M101.3 158.8h0M115.9 163.0h0M98.1 169.5h0M132.7 151.6h0M118.7 161.5h0M132.3 149.0h0M103.3 160.3h0M97.8 158.7h0M104.6 154.2h0M114.1 159.3h0M96.1 163.9h0M108.8 158.6h0M103.2 159.5h0M124.9 152.0h0M94.9 163.3h0M117.6 155.5h0M95.5 164.7h0M89.7 159.8h0M94.6 164.9h0M88.4 167.7h0M107.3 166.2h0M119.1 162.4h0M106.4 161.8h0M111.8 156.6h0M124.3 148.4h0M107.7 160.6h0M108.1 166.8h0M102.0 169.4h0M79.5 156.4h0M113.5 155.8h0M79.8 166.0h0M111.8 155.0h0M104.0 162.4h0M119.4 157.9h0M102.5 159.6h0M92.8 164.2h0M107.2 153.7h0M95.4 159.4h0M100.6 158.4h0M105.5 165.1h0M100.5 155.2h0M101.2 161.3h0M93.5 167.6h0M101.4 161.9h0M101.2 159.3h0M88.2 167.4h0M120.2 161.5h0M123.6 166.5h0M78.3 171.2h0M107.5 167.0h0M102.3 162.0h0M89.9 165.5h0M112.9 166.3h0M98.3 165.5h0M101.1 165.4h0M104.2 170.9h0M107.9 171.1h0M86.4 162.2h0M114.3 167.2h0M114.5 160.9h0M88.9 167.4h0M94.9 163.3h0M103.7 164.8h0M95.2 158.9h0M127.0 152.6h0M106.1 157.7h0M90.6 166.2h0M94.3 168.1h0M104.0 164.9h0M135.6 155.4h0M101.0 159.7h0M103.9 153.8h0M111.4 161.6h0M103.6 162.4h0M135.4 155.4h0M98.3 169.4h0M113.9 158.3h0M106.0 160.2h0M110.1 149.9h0M88.6 167.9h0M128.0 155.4h0M101.6 159.0h0M104.9 163.1h0M90.2 160.4h0M93.6 161.8h0M113.7 167.9h0M118.2 161.4h0M115.2 162.9h0M121.2 160.6h0M114.4 161.9h0M104.6 162.3h0M117.8 168.3h0M112.0 159.3h0M103.4 165.0h0M113.7 158.2h0M121.1 155.8h0M104.7 150.6h0M97.2 154.8h0M115.4 165.6h0M131.4 161.4h0M100.7 160.5h0M102.7 161.8h0M102.8 164.6h0M119.6 153.3h0M107.9 156.0h0M119.5 154.5h0M90.1 152.8h0M125.8 162.8h0M111.3 160.0h0M98.2 170.2h0M105.7 156.7h0M83.5 168.2h0M96.4 163.8h0M129.0 156.2h0M131.4 164.8h0M104.3 167.6h0M117.1 156.5h0M105.5 165.1h0M96.8 165.8h0M107.2 163.3h0M88.9 167.5h0M84.8 162.4h0M109.2 161.3h0M96.9 170.4h0M79.9 163.1h0M94.8 164.2h0M116.6 162.1h0M96.2 157.5h0M116.6 157.8h0M123.0 149.3h0M103.8 158.9h0M87.2 159.5h0M85.4 162.2h0M103.1 159.6h0M115.7 157.4h0M107.4 159.8h0M108.9 149.6h0M99.6 169.6h0M107.8 159.3h0M96.5 158.5h0M98.9 160.0h0M86.8 167.2h0M81.6 162.6h0M97.0 161.4h0M88.5 163.3h0M91.5 167.0h0M112.3 156.1h0M103.0 163.8h0M143.9 153.1h0M116.4 157.7h0M96.7 168.8h0M114.6 159.0h0M107.6 155.4h0M95.0 165.1h0M119.1 158.3h0M93.4 164.0h0M117.2 168.6h0M95.9 164.6h0M124.7 158.4h0M94.9 162.7h0M89.3 171.0h0M125.0 156.0h0M88.6 161.8h0M105.5 155.7h0M124.2 158.8h0M106.3 164.2h0M101.3 155.1h0M104.6 158.1h0M116.1 161.3h0M94.1 168.5h0M110.9 153.9h0M111.4 157.8h0M136.6 157.1h0M98.9 160.4h0M91.1 162.7h0M113.4 156.7h0M97.2 157.4h0M108.0 160.7h0M106.1 162.3h0M118.4 151.7h0M95.2 164.1h0M103.9 166.4h0M92.9 168.5h0M124.3 154.0h0M96.2 169.5h0M93.7 160.6h0M111.4 157.7h0M105.7 157.9h0M86.9 161.8h0M112.6 157.5h0M107.0 158.6h0M113.5 156.1h0M94.9 162.3h0M128.3 158.4h0M110.5 163.8h0M102.1 160.5h0M98.2 168.4h0M99.6 158.2h0M114.6 154.3h0M99.2 157.7h0M119.3 160.3h0M110.3 153.1h0M120.8 151.1h0M116.4 164.1h0M104.9 168.8h0M106.5 154.2h0M114.7 158.9h0M107.1 164.4h0M111.7 160.0h0M95.9 156.3h0M98.5 161.3h0M89.4 157.6h0M121.2 151.7h0M108.4 169.9h0M98.0 166.0h0M84.4 159.9h0M100.3 155.7h0M124.1 158.5h0M109.6 157.4h0M94.7 166.3h0M122.7 153.9h0M123.2 155.8h0M117.6 159.1h0M113.6 154.5h0M117.7 149.5h0M110.1 154.6h0M113.8 155.9h0M93.2 163.2h0M124.3 156.1h0M107.1 160.4h0M132.0 156.7h0M75.3 164.6h0M115.0 164.9h0M119.4 166.5h0M99.7 164.1h0M110.3 160.7h0M115.4 164.1h0M112.5 162.2h0M96.8 164.0h0M101.9 161.2h0M117.1 154.9h0M120.1 152.2h0M106.0 163.9h0M106.3 166.1h0M105.6 156.3h0M118.0 157.6h0M89.9 165.9h0M85.5 164.2h0M104.9 157.8h0M88.5 163.5h0M94.0 155.2h0M105.1 160.9h0M110.2 158.6h0M115.8 162.6h0M79.5 166.0h0M111.4 159.5h0M112.9 160.0h0M98.3 162.3h0M91.7 158.1h0M97.6 161.6h0M110.1 159.1h0M102.5 158.5h0M105.4 168.7h0M116.4 150.0h0M94.1 163.3h0M98.0 164.7h0M97.3 165.0h0M121.6 164.5h0M116.0 152.2h0M120.7 153.9h0M103.6 161.9h0M102.0 162.5h0M115.2 156.9h0M97.8 159.6h0M116.4 163.1h0M112.7 154.6h0M93.9 161.4h0M104.3 167.7h0M104.2 169.1h0M128.4 159.2h0M138.2 149.1h0M101.7 158.2h0M103.2 157.6h0M71.8 164.4h0M106.4 159.0h0M105.2 166.7h0M89.6 166.0h0M113.9 155.6h0M81.9 163.5h0M99.8 157.2h0M107.1 166.0h0M84.9 157.2h0M115.9 159.6h0M116.8 151.8h0M84.0 161.7h0M83.3 160.0h0M113.2 163.4h0M103.5 161.2h0M98.9 158.1h0M101.4 157.2h0M102.6 164.3h0M115.8 160.9h0M108.9 158.9h0M125.9 146.9h0M124.1 162.7h0M113.8 161.4h0M119.0 159.4h0M121.3 154.4h0M114.2 161.6h0M86.7 163.2h0M115.7 158.6h0M104.7 160.3h0M127.3 161.1h0M104.7 159.0h0M110.7 158.1h0M109.6 164.8h0M127.0 156.6h0M106.3 160.6h0M100.0 161.2h0M109.1 164.2h0M97.3 160.1h0M106.6 162.7h0M106.0 169.8h0M108.1 162.0h0M129.3 151.5h0M97.2 157.6h0M104.6 161.8h0M100.0 156.8h0M111.4 152.3h0M87.1 162.1h0M93.4 159.0h0M104.3 165.0h0M109.8 153.3h0M105.0 168.0h0M96.4 159.8h0M92.3 164.7h0M111.6 162.3h0M123.8 157.3h0M109.1 163.1h0M105.5 156.5h0M107.6 150.2h0M90.9 163.6h0M97.9 155.2h0M99.7 159.7h0M108.9 164.1h0M103.3 160.5h0M86.8 162.8h0M118.0 152.7h0M126.6 154.2h0M100.2 161.3h0M107.7 153.2h0M107.9 161.5h0M113.5 154.0h0M84.0 167.1h0M125.4 153.8h0M98.6 166.9h0M122.0 160.5h0M105.0 160.9h0M98.5 162.0h0M102.5 163.5h0M117.5 163.9h0M93.3 168.6h0M99.0 163.1h0M97.7 164.2h0M119.9 150.0h0M112.4 161.6h0M102.7 157.6h0M121.2 163.0h0M90.4 162.5h0M102.8 161.1h0M126.3 150.9h0M117.3 158.1h0M88.6 159.6h0M117.9 155.9h0M102.0 166.1h0M112.2 159.3h0M92.5 166.6h0M104.1 149.6h0M116.4 165.5h0M110.5 160.5h0M107.9 154.1h0M97.0 168.4h0M110.3 157.1h0M97.1 158.6h0M122.3 159.2h0M139.3 154.5h0M93.5 162.1h0M74.4 168.5h0M96.8 157.3h0M107.6 154.2h0M119.2 161.7h0M120.0 163.3h0M93.8 166.0h0M93.6 165.7h0M120.8 155.6h0M89.0 164.7h0M117.8 153.9h0M102.7 169.6h0M113.8 156.5h0M114.0 160.8h0M114.6 158.9h0M113.7 152.9h0M107.7 158.9h0M103.4 158.2h0M108.3 160.9h0M119.8 153.6h0M100.3 162.5h0M93.3 159.9h0M94.7 166.3h0M99.8 162.8h0M112.8 153.2h0M94.0 168.6h0M119.9 158.4h0M106.8 155.9h0M101.3 163.8h0M86.4 167.8h0M109.3 168.5h0M112.5 155.6h0M80.9 171.1h0M120.1 157.1h0M127.0 158.5h0M108.3 159.3h0M110.6 159.6h0M137.3 155.4h0M119.5 152.4h0M89.6 155.8h0M103.8 161.6h0M101.4 160.2h0M102.1 162.4h0M114.1 158.1h0M96.6 168.7h0M106.2 160.8h0M102.3 162.5h0M116.7 162.1h0M100.6 165.1h0M93.1 163.9h0M111.4 160.3h0M122.3 153.7h0M99.0 160.1h0M122.7 157.4h0M108.4 164.1h0M96.3 161.6h0M125.6 160.0h0M120.1 167.2h0M97.3 163.5h0M111.3 164.5h0M87.9 168.4h0M93.5 167.8h0M119.4 161.6h0M107.1 163.2h0M105.4 165.0h0M98.3 164.0h0M109.8 159.1h0M85.3 167.5h0M89.4 167.6h0M103.2 167.4h0M93.1 166.1h0M95.3 167.2h0M104.6 167.9h0M101.2 158.3h0M100.8 161.4h0M127.2 158.4h0M117.8 158.4h0M119.7 153.3h0M104.7 166.0h0M97.1 163.1h0M83.3 162.5h0M101.3 170.8h0M74.4 163.4h0M96.1 163.6h0M113.7 156.3h0M126.2 156.7h0M117.8 160.8h0M91.5 161.2h0M110.6 159.6h0M93.2 163.8h0M114.2 154.7h0M103.8 167.0h0M115.9 159.5h0M138.7 151.8h0M115.9 155.8h0M135.4 152.4h0M106.6 161.7h0M99.1 160.9h0M123.5 162.4h0M124.8 145.2h0M94.3 154.6h0M104.8 160.4h0M82.6 158.8h0M101.3 162.1h0M115.4 155.9h0M103.5 164.4h0M96.7 165.3h0M110.0 164.3h0M116.2 164.2h0M112.7 161.9h0M108.6 165.3h0M87.3 168.1h0M127.4 153.3h0M102.0 156.7h0M100.8 157.1h0M114.5 161.2h0M72.2 159.0h0M103.4 162.6h0M101.4 159.0h0M109.9 163.5h0M122.6 158.0h0M109.7 157.0h0M79.2 168.0h0M97.1 153.3h0M107.1 162.1h0M106.5 163.1h0M84.7 158.3h0M82.3 170.9h0M111.4 159.3h0M108.9 161.3h0M102.3 155.8h0M81.2 170.1h0M128.8 158.1h0M98.1 158.8h0M133.3 157.8h0M103.2 167.5h0M107.6 162.6h0M89.1 169.9h0M121.9 154.7h0M86.7 166.8h0M107.9 162.5h0M106.0 161.9h0M116.6 160.5h0M84.3 164.2h0M95.7 167.6h0M102.6 157.4h0M98.9 164.8h0M111.2 163.5h0M116.1 156.6h0M99.8 161.5h0M95.8 159.8h0M97.2 164.2h0M98.4 160.3h0M116.9 166.4h0M101.8 165.3h0M109.4 159.6h0M101.4 156.3h0M117.2 164.4h0M90.5 167.4h0M104.4 162.7h0M124.5 157.6h0M88.8 163.7h0M105.3 170.0h0M82.8 168.2h0M95.7 157.7h0M83.1 164.3h0M96.5 152.4h0M97.5 166.5h0M106.7 164.7h0M127.5 164.0h0M110.1 169.7h0M112.2 156.4h0M103.9 164.0h0M101.8 166.9h0M93.6 168.1h0M79.1 165.9h0M105.9 165.0h0M126.7 158.5h0M112.0 166.0h0M96.8 163.6h0M126.3 155.3h0M97.7 161.2h0M95.3 162.4h0M86.8 162.8h0M90.7 163.7h0M101.3 164.8h0M131.7 157.0h0M102.7 168.1h0M91.2 169.9h0M96.5 166.5h0M99.9 157.8h0M81.4 170.0h0M107.0 166.3h0M112.2 154.0h0M107.3 156.1h0M111.2 155.8h0M85.5 161.8h0M80.7 166.3h0M120.6 153.5h0M119.3 159.7h0M81.9 161.9h0M106.7 160.5h0M103.9 159.6h0M110.5 155.9h0M108.0 165.4h0M97.3 163.6h0M107.3 163.3h0M105.8 159.8h0M104.1 164.8h0M79.5 170.6h0M91.5 157.0h0M82.7 170.7h0M108.2 163.8h0M114.0 160.1h0M107.9 161.9h0M99.2 163.5h0M105.2 162.3h0M118.9 153.6h0M94.1 164.0h0M116.9 159.9h0M113.0 156.8h0M106.6 156.8h0M125.7 164.6h0M94.9 166.7h0M116.5 157.3h0M90.9 162.8h0M90.9 153.3h0M88.2 159.4h0M109.9 159.2h0M92.6 170.3h0M102.6 153.0h0M87.9 162.7h0M120.5 166.1h0M129.7 158.3h0M107.6 162.7h0M127.6 161.2h0M111.6 159.3h0M133.3 153.7h0M106.2 164.4h0M83.6 170.6h0M123.2 152.2h0M103.9 168.6h0M88.2 158.0h0M94.4 161.1h0M101.3 160.2h0M90.2 168.1h0M123.2 152.5h0M112.8 158.2h0M80.8 164.4h0M83.1 165.2h0M97.0 166.4h0M103.5 165.8h0M105.1 168.4h0M93.0 162.3h0M98.2 169.7h0M111.4 162.4h0M124.8 162.7h0M123.9 155.0h0M104.3 160.7h0M117.1 164.6h0M94.7 166.8h0M109.8 160.8h0M90.3 162.1h0M113.9 158.8h0M87.7 167.9h0M91.7 168.0h0M103.4 159.4h0M111.3 158.4h0M85.0 168.4h0M95.6 158.9h0M106.9 165.1h0M107.1 160.8h0M92.5 163.9h0M102.8 151.2h0M98.7 155.8h0M122.0 152.5h0M111.0 157.2h0M84.9 161.4h0M74.5 170.5h0M105.5 161.7h0M119.8 156.4h0M104.2 152.4h0M117.4 164.3h0M97.1 162.0h0M86.1 168.6h0M113.5 156.2h0M105.3 161.2h0M114.0 162.1h0M85.5 167.2h0M107.5 164.9h0M95.3 162.8h0M117.0 167.1h0M94.1 155.5h0M95.2 161.2h0M97.1 167.5h0M120.9 156.1h0M103.9 159.5h0M91.8 156.6h0M91.3 169.9h0M87.8 157.1h0M124.4 158.6h0M79.5 168.4h0M93.3 168.0h0M114.2 165.4h0M119.3 154.5h0M101.1 158.6h0M114.3 157.5h0M112.5 151.7h0M118.2 161.5h0M104.2 159.6h0M126.6 156.5h0M105.7 156.0h0M125.0 156.2h0M88.6 162.5h0M116.9 157.8h0M86.1 161.0h0M85.0 170.6h0M110.4 156.9h0M90.4 153.4h0M111.1 162.4h0M89.5 163.6h0M125.3 152.1h0M107.2 171.6h0M89.0 164.8h0M105.5 155.0h0M115.9 155.6h0M94.5 165.4h0M111.4 158.5h0M133.7 159.4h0M117.5 162.7h0M103.7 157.9h0M96.9 163.2h0M113.2 161.9h0M83.6 164.6h0M96.5 167.1h0M90.5 166.7h0M126.9 149.4h0M106.0 158.4h0M90.9 162.7h0M88.8 164.6h0M110.8 156.4h0M94.9 169.5h0M95.9 159.0h0M102.4 156.9h0M106.2 161.7h0M103.8 151.4h0M105.3 156.4h0M123.2 159.3h0M126.6 149.8h0M81.5 163.2h0M141.0 156.9h0M107.1 162.6h0M121.9 157.1h0M95.1 164.6h0M108.7 157.2h0M108.2 161.7h0M106.3 159.9h0M119.1 168.7h0M114.1 161.2h0M91.0 163.1h0M103.3 161.3h0M114.9 158.9h0M112.9 153.0h0M99.6 158.8h0M102.8 168.5h0M101.4 155.8h0M89.4 162.5h0M88.6 169.8h0M127.9 162.1h0M98.6 158.2h0M107.8 166.9h0M94.5 162.2h0M124.3 163.7h0M129.3 157.3h0M101.7 160.7h0M112.8 162.5h0M95.3 166.1h0M128.2 152.0h0M119.8 167.0h0M93.2 162.6h0M123.2 161.8h0M109.4 157.9h0M108.7 152.2h0M108.7 155.3h0M95.8 163.0h0M98.4 165.9h0M115.3 166.4h0M104.4 161.7h0M91.8 163.2h0M131.3 149.2h0M102.1 161.7h0M97.7 164.4h0M93.2 154.3h0M115.7 164.3h0M119.4 162.7h0M110.6 169.9h0M115.8 154.5h0M84.6 166.4h0M99.9 162.5h0M97.1 157.3h0M104.1 157.6h0M110.5 155.4h0M77.7 170.3h0M147.8 152.4h0M94.5 169.8h0M109.1 158.4h0M114.6 152.6h0M116.8 160.2h0M108.5 161.9h0M91.3 170.1h0M114.4 156.2h0M93.0 167.7h0M89.3 160.6h0M72.8 169.9h0M121.9 160.0h0M111.4 159.0h0M92.7 165.2h0M101.3 155.9h0M102.5 158.9h0M89.5 165.7h0M99.5 157.2h0M107.0 156.9h0M114.4 169.6h0M121.8 158.1h0M103.9 157.8h0M97.0 158.5h0M111.2 165.7h0M92.8 151.7h0M86.9 164.0h0M120.4 159.8h0M98.4 160.0h0M106.4 162.8h0M111.9 154.4h0M89.1 164.7h0M112.9 159.0h0M110.3 159.5h0M103.0 161.9h0M109.5 159.8h0M95.0 168.2h0M73.9 167.3h0M99.7 159.4h0M91.5 162.8h0M115.6 156.7h0M106.1 153.6h0M94.9 154.7h0M103.3 155.1h0M122.8 157.5h0M118.8 154.3h0M108.7 157.9h0M112.9 171.4h0M101.5 166.5h0M102.1 160.5h0M111.4 156.3h0M103.9 167.0h0M107.3 156.6h0M90.2 169.8h0M82.0 169.0h0M97.4 159.3h0M123.1 160.2h0M118.3 149.3h0M90.3 163.5h0M84.1 170.7h0M115.6 161.1h0M108.5 151.6h0M86.2 168.4h0M118.9 159.2h0M106.4 160.0h0M121.3 153.4h0M108.4 158.5h0M115.6 155.5h0M109.4 163.7h0M91.6 166.0h0M102.0 166.1h0M95.6 166.0h0M114.0 152.7h0M90.7 164.8h0M112.2 153.9h0M119.9 158.2h0M122.9 152.7h0M118.0 153.5h0M83.8 166.9h0M95.5 167.1h0M97.4 165.9h0M104.2 162.9h0M102.2 154.1h0M108.6 163.3h0M91.5 165.8h0M105.4 159.7h0M120.2 156.8h0M103.7 157.1h0M119.6 162.1h0M117.0 154.3h0M108.0 153.3h0M109.2 159.5h0M98.4 159.7h0M120.8 156.4h0M99.2 168.8h0M94.4 162.7h0M113.7 159.0h0M108.3 153.6h0M118.8 158.8h0M106.3 165.5h0M107.0 166.9h0M118.8 167.2h0M113.6 155.6h0M83.7 168.7h0M86.1 164.9h0M121.7 154.5h0M108.6 156.5h0M74.3 161.8h0M86.1 166.9h0M105.2 164.0h0M89.6 159.8h0M111.2 162.5h0M104.6 158.3h0M109.7 155.0h0M85.5 153.9h0M113.7 163.4h0M131.5 157.3h0M93.0 162.3h0M121.6 154.8h0M116.1 152.1h0M113.4 160.9h0M103.2 160.9h0M88.9 167.1h0M92.4 164.6h0M113.1 152.4h0M115.8 151.1h0M121.2 158.5h0M115.5 150.6h0M116.7 159.0h0M99.2 166.2h0M86.4 159.6h0M107.7 163.1h0M111.1 159.5h0M105.9 163.0h0M82.9 163.5h0M97.1 162.7h0M84.6 167.8h0M108.1 168.3h0M90.7 167.7h0M102.5 163.8h0M107.3 154.6h0M106.5 162.1h0M122.1 153.6h0M89.2 164.6h0M74.9 169.7h0M118.1 162.0h0M124.0 158.9h0M124.0 157.1h0M108.1 160.0h0M113.1 165.1h0M105.1 157.1h0M86.8 165.8h0M98.0 168.9h0M110.9 158.7h0M97.4 166.7h0M131.2 158.5h0M99.7 167.4h0M117.7 150.5h0M96.1 163.3h0M89.3 166.3h0M86.8 169.3h0M94.9 165.3h0M126.9 164.0h0M111.1 164.4h0M110.1 154.4h0M96.6 160.2h0M113.7 149.6h0M107.6 168.0h0M91.7 163.7h0M98.1 162.0h0M105.4 153.7h0M119.8 155.2h0M104.0 162.9h0M110.7 157.5h0M131.3 152.4h0M92.8 160.9h0M117.1 155.2h0M108.7 153.2h0M102.4 158.9h0M107.5 158.3h0M99.7 161.4h0M111.0 157.9h0M98.5 157.1h0M114.9 157.1h0M88.8 166.2h0M91.7 157.4h0M107.9 168.6h0M99.7 169.4h0M111.8 150.6h0M103.3 159.2h0M98.0 166.7h0M108.6 165.5h0M99.0 169.9h0M81.2 158.0h0M87.7 159.7h0M92.9 161.1h0M98.5 164.5h0M104.5 155.7h0M117.2 159.3h0M112.3 160.6h0M129.3 157.6h0M120.3 150.8h0M102.0 162.1h0M126.9 155.4h0M120.0 154.9h0M99.6 167.7h0M108.4 158.4h0M120.8 163.1h0M107.1 157.4h0M120.1 164.5h0M111.6 166.4h0M113.2 154.9h0M100.5 163.3h0M110.0 160.8h0M98.5 157.9h0M114.5 161.9h0M82.2 169.1h0M108.1 156.0h0M121.6 157.1h0M113.4 162.7h0M104.0 160.3h0M111.1 156.1h0M94.8 170.7h0M92.2 159.6h0M100.0 163.6h0M103.7 166.2h0M118.5 161.1h0M90.5 156.2h0M117.8 156.2h0M83.1 165.8h0M93.7 162.8h0M104.7 163.9h0M120.9 159.5h0M96.4 163.8h0M75.7 169.5h0M111.4 164.0h0M105.5 166.5h0M87.9 156.8h0M94.6 161.2h0M106.8 164.2h0M111.9 152.1h0M84.0 164.1h0M134.4 148.2h0M105.2 166.0h0M100.5 166.3h0M113.7 159.0h0M105.9 160.2h0M136.7 155.0h0M118.5 153.6h0M98.9 159.9h0M98.5 159.4h0M98.7 166.4h0M100.0 162.5h0M112.4 153.6h0M96.2 164.9h0M127.1 158.0h0M104.9 167.4h0M102.0 159.4h0M117.9 159.8h0M91.5 163.1h0M112.3 157.7h0M105.3 163.4h0M103.9 159.2h0M110.0 160.0h0M95.9 161.2h0M101.4 158.5h0M87.0 169.6h0M78.7 166.0h0M120.7 152.7h0M91.6 163.2h0M94.7 163.1h0M123.8 157.8h0M119.9 161.6h0M99.2 170.5h0M96.0 157.9h0M103.1 160.5h0M89.6 156.8h0M112.2 160.3h0M107.0 163.0h0M105.6 158.0h0M113.8 154.8h0M113.2 154.6h0M127.9 148.6h0M125.8 158.7h0M115.5 153.3h0M84.9 165.5h0M112.7 152.8h0M95.5 165.9h0M101.0 165.4h0M119.4 159.1h0M95.2 162.2h0M94.1 171.2h0M108.6 158.8h0M121.7 159.6h0M112.3 162.0h0M82.4 162.5h0M93.6 155.4h0M100.6 154.2h0M130.2 152.8h0M117.0 159.5h0M114.1 150.6h0M120.0 153.9h0M101.9 168.6h0M109.1 151.8h0M111.6 161.3h0M91.5 165.8h0M105.0 164.4h0M110.5 152.9h0M90.1 166.1h0M113.9 152.4h0M116.1 164.1h0M117.6 153.8h0M94.3 165.2h0M105.0 157.2h0M124.3 156.6h0M113.6 151.8h0M94.0 164.8h0M108.1 162.7h0M123.7 156.1h0M105.1 168.1h0M110.0 161.2h0M140.1 155.6h0M104.4 163.2h0M104.9 169.3h0M90.0 161.6h0M95.2 162.1h0M124.3 155.0h0M103.1 164.1h0M88.5 166.1h0M92.6 167.7h0M104.7 162.2h0M114.2 156.2h0M94.2 163.3h0M114.5 160.5h0M95.3 153.0h0M110.6 165.7h0M110.7 156.9h0M112.1 157.5h0M98.7 163.7h0M101.7 160.6h0M109.6 153.2h0M86.4 164.5h0M108.0 166.4h0M112.2 163.9h0M119.6 162.9h0M103.0 159.0h0M101.4 160.9h0M107.1 165.2h0M95.7 170.0h0M101.3 162.1h0M108.6 155.8h0M105.8 152.1h0M91.3 170.9h0M98.0 155.9h0M75.7 170.3h0M115.8 162.4h0M107.4 161.4h0M88.9 164.6h0M103.3 163.7h0M110.5 162.1h0M118.6 163.9h0M86.1 169.0h0M114.5 155.4h0M99.3 153.0h0M93.6 165.4h0M109.6 157.0h0M101.3 168.5h0M98.4 156.9h0M94.4 164.8h0M106.0 157.6h0M103.3 157.7h0M103.2 169.3h0M91.0 165.5h0M96.6 162.5h0M110.0 163.4h0M120.3 153.9h0M103.0 160.1h0M122.2 154.0h0M105.7 170.1h0M89.3 166.7h0M113.0 162.1h0M91.8 169.6h0M109.0 159.4h0M118.1 157.3h0M97.8 155.6h0M103.0 163.9h0M137.5 154.3h0M106.5 159.0h0M108.6 165.9h0M112.4 151.2h0M102.9 163.7h0M101.1 155.9h0M107.7 155.3h0M71.1 168.7h0M124.4 162.5h0M88.0 160.0h0M101.7 160.0h0M97.5 152.5h0M140.7 147.6h0M120.0 145.9h0M119.0 149.2h0M142.0 151.1h0M117.4 152.5h0M86.0 156.5h0M107.5 154.7h0M98.1 155.1h0M140.9 147.7h0M94.8 153.6h0M117.2 147.1h0M107.5 155.7h0M107.2 148.1h0M114.9 155.9h0M113.6 160.8h0M105.9 159.6h0M99.1 164.1h0M104.5 149.1h0M100.2 155.2h0M101.2 150.6h0M114.9 148.5h0M110.6 145.2h0M119.3 145.8h0M111.3 155.9h0M139.9 150.2h0M105.0 158.5h0M101.3 158.8h0M128.0 152.7h0M103.9 150.3h0M115.4 151.1h0M127.4 152.6h0M113.4 157.2h0M108.8 151.2h0M126.4 147.7h0M117.9 149.4h0M107.9 159.7h0M98.3 157.1h0M108.5 151.6h0M91.2 152.7h0M102.5 155.8h0M98.0 147.7h0M117.5 150.4h0M123.5 147.9h0M104.7 151.2h0M108.0 153.9h0M99.4 156.3h0M97.5 167.6h0M108.1 153.5h0M121.7 153.6h0M119.4 147.7h0M120.4 144.0h0M110.9 157.3h0M78.8 166.4h0M125.3 145.8h0M131.3 148.7h0M126.7 154.5h0M125.8 150.4h0M126.7 139.8h0M150.2 149.9h0M118.0 150.8h0M135.1 151.4h0M124.0 146.3h0M123.6 154.1h0M112.9 156.6h0M108.9 150.0h0M99.3 156.7h0M121.3 148.1h0M109.4 150.8h0M97.3 151.2h0M103.5 152.1h0M97.7 152.1h0M136.1 153.1h0M110.5 151.7h0M114.6 147.3h0M98.8 160.5h0M100.6 156.7h0M128.6 153.6h0M110.8 152.4h0M117.4 154.4h0M138.3 147.4h0M141.1 143.3h0M123.2 150.9h0M120.6 151.5h0M117.2 152.1h0M110.8 156.2h0M139.7 140.3h0M98.1 156.2h0M112.2 149.1h0M88.2 155.5h0M97.5 156.9h0M119.4 151.4h0M119.6 148.3h0M119.0 154.4h0M109.7 152.7h0M105.3 157.6h0M107.7 158.4h0M108.7 151.6h0M127.8 145.2h0M133.5 149.1h0M120.5 154.4h0M107.1 154.7h0M100.7 149.7h0M116.9 144.6h0M110.3 148.9h0M89.1 152.7h0M132.7 151.5h0M114.0 152.5h0M110.4 156.5h0M102.4 153.9h0M103.6 161.0h0M126.0 150.2h0M101.9 156.7h0M115.0 150.4h0M122.8 152.6h0M139.4 152.3h0M122.6 154.0h0M114.5 157.5h0M107.8 150.9h0M125.8 152.1h0M128.6 156.8h0M108.6 154.3h0M121.7 150.2h0M112.0 151.7h0M92.1 154.0h0M100.8 155.2h0M125.8 156.0h0M133.6 150.7h0M123.1 150.6h0M110.8 149.6h0M103.7 149.4h0M122.9 160.6h0M118.1 149.6h0M92.6 156.5h0M122.4 148.8h0M104.8 154.6h0M122.7 149.0h0M121.3 151.4h0M124.7 156.4h0M127.8 146.8h0M123.8 152.7h0M100.0 154.4h0M101.0 157.5h0M127.4 147.0h0M120.7 152.7h0M92.4 151.9h0M86.1 149.6h0M125.0 144.8h0M143.0 143.1h0M124.3 145.7h0M110.7 151.4h0M118.4 155.9h0M77.0 153.9h0M101.1 156.2h0M127.6 150.3h0M125.0 147.2h0M85.1 153.3h0M130.1 151.0h0M121.5 152.7h0M126.3 148.4h0M111.2 151.9h0M114.1 152.0h0M98.8 149.3h0M118.4 151.7h0M126.2 151.1h0M102.8 161.2h0M118.0 146.1h0M106.4 149.8h0M128.0 149.9h0M126.7 147.4h0M82.3 155.9h0M120.1 151.0h0M127.3 148.4h0M106.6 153.2h0M111.5 154.2h0M110.9 145.9h0M99.2 156.9h0M110.9 143.3h0M135.9 155.1h0M121.0 154.6h0M133.9 146.0h0M128.0 153.7h0M129.9 148.6h0M116.0 153.4h0M124.9 153.2h0M141.1 148.7h0M133.7 148.6h0M118.8 153.7h0M104.6 152.9h0M101.5 152.7h0M116.6 147.7h0M118.6 143.9h0M90.7 162.6h0M117.5 154.6h0M117.7 145.7h0M118.4 152.9h0M106.9 154.2h0M143.2 137.9h0M125.1 146.7h0M95.7 154.9h0M105.7 160.5h0M125.5 154.5h0M121.7 155.9h0M115.9 153.0h0M114.3 156.1h0M110.3 148.0h0M108.4 155.6h0M100.8 157.4h0M120.7 145.8h0M77.1 159.6h0M105.2 159.9h0M131.6 156.9h0M104.3 159.6h0M97.4 152.2h0M138.8 147.4h0M127.1 147.7h0M112.5 157.4h0M105.3 150.3h0M109.8 148.6h0M107.8 146.6h0M110.5 153.6h0M104.0 155.7h0M120.3 148.6h0M105.6 150.6h0M89.3 155.8h0M97.2 160.6h0M112.5 147.0h0M99.8 154.5h0M80.7 158.9h0M133.5 150.3h0M120.8 156.1h0M107.6 156.7h0M106.5 154.6h0M121.1 156.9h0M132.2 153.6h0M105.1 154.9h0M118.8 152.3h0M104.1 149.1h0M117.6 152.1h0M97.5 151.9h0M88.1 152.1h0M114.1 151.1h0M111.0 145.7h0M122.1 147.1h0M103.9 151.9h0M131.5 150.4h0M114.1 150.8h0M133.8 150.3h0M109.7 159.4h0M133.6 152.0h0M111.4 147.9h0M113.7 144.9h0M125.2 146.4h0M89.0 152.9h0M97.6 146.9h0M136.2 141.1h0M91.9 148.9h0M106.0 151.0h0M121.3 156.5h0M135.5 141.8h0M94.4 130.2h0M102.8 147.2h0M89.0 128.1h0M85.0 144.3h0M108.2 131.6h0M109.9 135.5h0M99.6 141.5h0" stroke="#222" stroke-opacity="0.5" stroke-width="0.85" stroke-linecap="round" fill="none"/>
<rect x="70.3" y="99.1" width="81.3" height="73.3" fill="none" stroke="#888" stroke-width="0.8"/>
<line x1="70.3" y1="99.1" x2="70.3" y2="172.4" stroke="#777" stroke-width="0.9"/>
<line x1="70.3" y1="172.4" x2="151.6" y2="172.4" stroke="#777" stroke-width="0.9"/>
<rect x="91.6" y="106" width="52.3" height="48.3" fill="none" stroke="#6a6a6a" stroke-width="0.8"/>
<line x1="68.3" y1="172.4" x2="70.3" y2="172.4" stroke="#555" stroke-width="0.6"/>
<line x1="69.3" y1="166.88" x2="70.3" y2="166.88" stroke="#555" stroke-width="0.6"/>
<line x1="69.3" y1="163.66" x2="70.3" y2="163.66" stroke="#555" stroke-width="0.6"/>
<line x1="69.3" y1="161.37" x2="70.3" y2="161.37" stroke="#555" stroke-width="0.6"/>
<line x1="69.3" y1="159.59" x2="70.3" y2="159.59" stroke="#555" stroke-width="0.6"/>
<line x1="69.3" y1="158.14" x2="70.3" y2="158.14" stroke="#555" stroke-width="0.6"/>
<line x1="69.3" y1="156.91" x2="70.3" y2="156.91" stroke="#555" stroke-width="0.6"/>
<line x1="69.3" y1="155.85" x2="70.3" y2="155.85" stroke="#555" stroke-width="0.6"/>
<line x1="69.3" y1="154.91" x2="70.3" y2="154.91" stroke="#555" stroke-width="0.6"/>
<line x1="68.3" y1="154.07" x2="70.3" y2="154.07" stroke="#555" stroke-width="0.6"/>
<line x1="69.3" y1="148.56" x2="70.3" y2="148.56" stroke="#555" stroke-width="0.6"/>
<line x1="69.3" y1="145.33" x2="70.3" y2="145.33" stroke="#555" stroke-width="0.6"/>
<line x1="69.3" y1="143.04" x2="70.3" y2="143.04" stroke="#555" stroke-width="0.6"/>
<line x1="69.3" y1="141.27" x2="70.3" y2="141.27" stroke="#555" stroke-width="0.6"/>
<line x1="69.3" y1="139.82" x2="70.3" y2="139.82" stroke="#555" stroke-width="0.6"/>
<line x1="69.3" y1="138.59" x2="70.3" y2="138.59" stroke="#555" stroke-width="0.6"/>
<line x1="69.3" y1="137.53" x2="70.3" y2="137.53" stroke="#555" stroke-width="0.6"/>
<line x1="69.3" y1="136.59" x2="70.3" y2="136.59" stroke="#555" stroke-width="0.6"/>
<line x1="68.3" y1="135.75" x2="70.3" y2="135.75" stroke="#555" stroke-width="0.6"/>
<line x1="69.3" y1="130.23" x2="70.3" y2="130.23" stroke="#555" stroke-width="0.6"/>
<line x1="69.3" y1="127.01" x2="70.3" y2="127.01" stroke="#555" stroke-width="0.6"/>
<line x1="69.3" y1="124.72" x2="70.3" y2="124.72" stroke="#555" stroke-width="0.6"/>
<line x1="69.3" y1="122.94" x2="70.3" y2="122.94" stroke="#555" stroke-width="0.6"/>
<line x1="69.3" y1="121.49" x2="70.3" y2="121.49" stroke="#555" stroke-width="0.6"/>
<line x1="69.3" y1="120.26" x2="70.3" y2="120.26" stroke="#555" stroke-width="0.6"/>
<line x1="69.3" y1="119.2" x2="70.3" y2="119.2" stroke="#555" stroke-width="0.6"/>
<line x1="69.3" y1="118.26" x2="70.3" y2="118.26" stroke="#555" stroke-width="0.6"/>
<line x1="68.3" y1="117.42" x2="70.3" y2="117.42" stroke="#555" stroke-width="0.6"/>
<line x1="69.3" y1="111.91" x2="70.3" y2="111.91" stroke="#555" stroke-width="0.6"/>
<line x1="69.3" y1="108.68" x2="70.3" y2="108.68" stroke="#555" stroke-width="0.6"/>
<line x1="69.3" y1="106.39" x2="70.3" y2="106.39" stroke="#555" stroke-width="0.6"/>
<line x1="69.3" y1="104.62" x2="70.3" y2="104.62" stroke="#555" stroke-width="0.6"/>
<line x1="69.3" y1="103.17" x2="70.3" y2="103.17" stroke="#555" stroke-width="0.6"/>
<line x1="69.3" y1="101.94" x2="70.3" y2="101.94" stroke="#555" stroke-width="0.6"/>
<line x1="69.3" y1="100.88" x2="70.3" y2="100.88" stroke="#555" stroke-width="0.6"/>
<line x1="69.3" y1="99.94" x2="70.3" y2="99.94" stroke="#555" stroke-width="0.6"/>
<line x1="68.3" y1="99.1" x2="70.3" y2="99.1" stroke="#555" stroke-width="0.6"/>
<text x="67.8" y="173.5" font-size="3.8" fill="#666" text-anchor="end">1</text>
<text x="67.8" y="155.17" font-size="3.8" fill="#666" text-anchor="end">10</text>
<text x="67.8" y="136.85" font-size="3.8" fill="#666" text-anchor="end">100</text>
<text x="67.8" y="118.52" font-size="3.8" fill="#666" text-anchor="end">1000</text>
<text x="67.8" y="100.2" font-size="3.8" fill="#666" text-anchor="end">10000</text>
<line x1="70.3" y1="172.4" x2="70.3" y2="174.4" stroke="#555" stroke-width="0.6"/>
<line x1="76.42" y1="172.4" x2="76.42" y2="173.4" stroke="#555" stroke-width="0.6"/>
<line x1="80" y1="172.4" x2="80" y2="173.4" stroke="#555" stroke-width="0.6"/>
<line x1="82.54" y1="172.4" x2="82.54" y2="173.4" stroke="#555" stroke-width="0.6"/>
<line x1="84.51" y1="172.4" x2="84.51" y2="173.4" stroke="#555" stroke-width="0.6"/>
<line x1="86.12" y1="172.4" x2="86.12" y2="173.4" stroke="#555" stroke-width="0.6"/>
<line x1="87.48" y1="172.4" x2="87.48" y2="173.4" stroke="#555" stroke-width="0.6"/>
<line x1="88.66" y1="172.4" x2="88.66" y2="173.4" stroke="#555" stroke-width="0.6"/>
<line x1="89.69" y1="172.4" x2="89.69" y2="173.4" stroke="#555" stroke-width="0.6"/>
<line x1="90.62" y1="172.4" x2="90.62" y2="174.4" stroke="#555" stroke-width="0.6"/>
<line x1="96.74" y1="172.4" x2="96.74" y2="173.4" stroke="#555" stroke-width="0.6"/>
<line x1="100.32" y1="172.4" x2="100.32" y2="173.4" stroke="#555" stroke-width="0.6"/>
<line x1="102.86" y1="172.4" x2="102.86" y2="173.4" stroke="#555" stroke-width="0.6"/>
<line x1="104.83" y1="172.4" x2="104.83" y2="173.4" stroke="#555" stroke-width="0.6"/>
<line x1="106.44" y1="172.4" x2="106.44" y2="173.4" stroke="#555" stroke-width="0.6"/>
<line x1="107.8" y1="172.4" x2="107.8" y2="173.4" stroke="#555" stroke-width="0.6"/>
<line x1="108.98" y1="172.4" x2="108.98" y2="173.4" stroke="#555" stroke-width="0.6"/>
<line x1="110.02" y1="172.4" x2="110.02" y2="173.4" stroke="#555" stroke-width="0.6"/>
<line x1="110.95" y1="172.4" x2="110.95" y2="174.4" stroke="#555" stroke-width="0.6"/>
<line x1="117.07" y1="172.4" x2="117.07" y2="173.4" stroke="#555" stroke-width="0.6"/>
<line x1="120.65" y1="172.4" x2="120.65" y2="173.4" stroke="#555" stroke-width="0.6"/>
<line x1="123.19" y1="172.4" x2="123.19" y2="173.4" stroke="#555" stroke-width="0.6"/>
<line x1="125.16" y1="172.4" x2="125.16" y2="173.4" stroke="#555" stroke-width="0.6"/>
<line x1="126.77" y1="172.4" x2="126.77" y2="173.4" stroke="#555" stroke-width="0.6"/>
<line x1="128.13" y1="172.4" x2="128.13" y2="173.4" stroke="#555" stroke-width="0.6"/>
<line x1="129.31" y1="172.4" x2="129.31" y2="173.4" stroke="#555" stroke-width="0.6"/>
<line x1="130.34" y1="172.4" x2="130.34" y2="173.4" stroke="#555" stroke-width="0.6"/>
<line x1="131.27" y1="172.4" x2="131.27" y2="174.4" stroke="#555" stroke-width="0.6"/>
<line x1="137.39" y1="172.4" x2="137.39" y2="173.4" stroke="#555" stroke-width="0.6"/>
<line x1="140.97" y1="172.4" x2="140.97" y2="173.4" stroke="#555" stroke-width="0.6"/>
<line x1="143.51" y1="172.4" x2="143.51" y2="173.4" stroke="#555" stroke-width="0.6"/>
<line x1="145.48" y1="172.4" x2="145.48" y2="173.4" stroke="#555" stroke-width="0.6"/>
<line x1="147.09" y1="172.4" x2="147.09" y2="173.4" stroke="#555" stroke-width="0.6"/>
<line x1="148.45" y1="172.4" x2="148.45" y2="173.4" stroke="#555" stroke-width="0.6"/>
<line x1="149.63" y1="172.4" x2="149.63" y2="173.4" stroke="#555" stroke-width="0.6"/>
<line x1="150.67" y1="172.4" x2="150.67" y2="173.4" stroke="#555" stroke-width="0.6"/>
<line x1="151.6" y1="172.4" x2="151.6" y2="174.4" stroke="#555" stroke-width="0.6"/>
<text x="70.3" y="177.6" font-size="3.8" fill="#666" text-anchor="middle">1</text>
<text x="90.62" y="177.6" font-size="3.8" fill="#666" text-anchor="middle">10</text>
<text x="110.95" y="177.6" font-size="3.8" fill="#666" text-anchor="middle">100</text>
<text x="131.27" y="177.6" font-size="3.8" fill="#666" text-anchor="middle">1000</text>
<text x="151.6" y="177.6" font-size="3.8" fill="#666" text-anchor="middle">10000</text>
<path d="M189.7 159.8h0M223.0 155.2h0M209.3 160.4h0M176.3 165.8h0M198.3 155.3h0M191.6 166.8h0M202.2 162.8h0M177.5 169.0h0M202.1 155.9h0M202.9 159.9h0M221.8 155.7h0M205.1 164.5h0M205.5 153.3h0M178.9 167.9h0M232.6 159.1h0M172.0 164.6h0M214.4 153.9h0M196.0 167.2h0M187.3 164.3h0M191.2 167.4h0M190.7 165.9h0M205.9 164.0h0M197.8 160.3h0M218.7 147.3h0M174.1 168.7h0M198.9 157.8h0M187.4 166.0h0M210.1 156.2h0M194.5 160.7h0M203.3 163.6h0M179.5 169.9h0M213.5 157.4h0M202.4 161.6h0M213.8 157.6h0M212.3 153.9h0M187.0 169.9h0M187.4 159.3h0M195.3 154.7h0M209.7 156.3h0M211.7 158.7h0M189.5 163.1h0M190.6 161.1h0M187.8 161.2h0M189.3 153.4h0M196.7 164.0h0M199.2 168.4h0M228.1 151.4h0M190.7 154.6h0M196.1 164.7h0M205.9 158.5h0M182.4 146.7h0M193.6 158.6h0M198.4 154.5h0M209.5 153.3h0M219.9 160.7h0M194.4 161.1h0M202.0 160.2h0M213.0 164.8h0M207.9 154.1h0M215.2 160.6h0M201.4 157.5h0M200.0 164.3h0M204.2 160.7h0M184.8 160.6h0M217.7 161.6h0M189.0 165.4h0M228.4 152.8h0M197.7 161.7h0M182.2 161.4h0M226.9 160.3h0M194.2 158.5h0M214.6 157.5h0M189.0 168.8h0M196.5 163.7h0M175.9 167.0h0M172.7 167.6h0M186.0 165.1h0M199.0 163.7h0M210.6 157.0h0M232.2 145.0h0M186.1 169.5h0M212.9 153.2h0M197.6 162.4h0M179.6 170.2h0M188.9 164.8h0M183.5 168.2h0M198.2 154.8h0M189.7 163.5h0M216.9 155.4h0M201.7 160.3h0M200.0 151.4h0M213.7 147.9h0M207.5 162.1h0M199.0 160.9h0M197.8 159.0h0M197.7 160.5h0M214.2 154.6h0M210.2 156.2h0M205.3 162.4h0M210.6 157.1h0M192.4 165.2h0M206.1 156.0h0M177.8 157.1h0M218.0 153.6h0M200.6 159.6h0M201.1 155.2h0M207.6 157.0h0M198.9 158.4h0M196.7 165.2h0M217.1 160.5h0M202.1 164.8h0M185.8 160.0h0M206.0 160.6h0M223.1 156.2h0M197.0 160.7h0M199.4 157.0h0M232.3 157.2h0M230.2 154.7h0M202.0 164.4h0M208.2 157.9h0M216.8 166.0h0M223.3 155.3h0M196.5 155.6h0M201.6 160.9h0M217.3 158.8h0M204.5 165.1h0M209.8 156.1h0M207.6 156.3h0M183.1 162.7h0M186.9 161.4h0M196.4 164.3h0M219.6 161.7h0M183.1 160.5h0M216.1 152.5h0M213.5 156.8h0M198.0 157.1h0M200.1 163.8h0M200.1 157.6h0M187.8 165.7h0M194.4 156.0h0M197.6 154.6h0M206.8 152.0h0M209.4 152.0h0M189.3 164.5h0M212.0 161.6h0M188.6 163.4h0M197.3 161.9h0M202.7 150.0h0M200.2 165.3h0M196.6 155.6h0M204.5 165.2h0M190.3 162.7h0M197.2 163.8h0M213.7 160.2h0M196.9 155.2h0M225.5 150.0h0M201.9 156.9h0M194.0 165.4h0M223.2 156.0h0M200.6 165.2h0M192.8 159.7h0M185.8 157.1h0M218.3 156.6h0M213.7 157.2h0M207.8 152.5h0M206.5 163.6h0M219.1 152.1h0M210.5 155.0h0M182.3 165.2h0M209.4 153.6h0M202.5 162.6h0M198.3 162.5h0M210.7 160.1h0M199.9 160.4h0M220.9 152.6h0M214.5 158.7h0M199.0 166.7h0M194.9 165.0h0M203.1 161.4h0M182.2 168.7h0M205.1 165.3h0M195.1 156.0h0M194.5 161.5h0M187.5 168.6h0M189.3 159.9h0M214.8 155.3h0M219.0 159.2h0M206.5 158.2h0M200.0 165.9h0M186.8 162.0h0M210.3 161.0h0M224.6 166.4h0M215.0 151.4h0M193.8 157.4h0M204.9 159.3h0M178.9 158.9h0M178.5 167.6h0M203.7 167.4h0M213.4 164.6h0M192.1 158.9h0M218.3 155.4h0M188.2 161.7h0M223.7 151.9h0M202.8 167.4h0M202.2 157.0h0M207.2 154.1h0M204.4 161.2h0M226.0 156.5h0M232.2 160.4h0M208.6 165.4h0M197.0 160.3h0M181.0 155.3h0M189.4 165.7h0M200.4 163.9h0M199.7 168.4h0M197.5 154.1h0M198.5 155.6h0M207.9 165.6h0M186.1 169.1h0M215.4 157.0h0M212.5 163.4h0M191.4 159.8h0M216.8 151.3h0M189.8 162.3h0M196.0 161.7h0M174.3 169.4h0M212.5 162.5h0M197.8 153.0h0M214.9 158.4h0M210.0 160.3h0M199.8 154.8h0M201.6 158.8h0M216.6 157.0h0M197.7 162.7h0M196.7 157.2h0M200.1 157.6h0M210.1 153.3h0M213.1 159.0h0M226.6 153.1h0M198.1 158.1h0M218.3 159.2h0M190.4 161.5h0M207.4 153.4h0M202.7 164.6h0M225.5 159.1h0M209.1 160.3h0M192.8 157.2h0M209.3 163.1h0M204.5 156.7h0M193.9 153.3h0M195.8 160.6h0M238.8 150.0h0M202.6 162.2h0M215.2 163.0h0M183.8 164.5h0M184.5 162.1h0M198.0 160.7h0M198.6 163.1h0M211.1 155.6h0M186.2 164.7h0M208.3 160.9h0M221.3 154.0h0M187.9 165.9h0M213.6 159.8h0M186.3 161.7h0M204.9 158.4h0M205.4 159.6h0M224.7 154.3h0M190.2 161.4h0M201.7 155.4h0M215.1 157.5h0M184.2 166.8h0M200.6 162.9h0M187.1 159.4h0M190.7 164.6h0M210.4 160.7h0M209.3 154.3h0M237.2 154.6h0M219.6 155.3h0M218.1 154.8h0M198.0 161.7h0M195.7 160.2h0M200.1 150.6h0M222.7 150.6h0M190.5 161.9h0M185.7 166.2h0M193.4 160.6h0M212.1 155.7h0M217.8 157.0h0M195.1 163.4h0M205.4 155.5h0M198.6 157.8h0M186.3 165.3h0M203.7 166.3h0M200.3 160.1h0M178.9 168.5h0M214.8 153.9h0M177.6 165.0h0M203.2 159.8h0M183.8 158.1h0M188.3 162.6h0M189.7 161.6h0M207.6 147.6h0M181.9 163.6h0M197.3 162.0h0M222.0 156.5h0M190.2 163.6h0M198.3 155.7h0M208.5 155.1h0M191.3 161.1h0M205.7 155.1h0M189.9 160.2h0M210.7 163.0h0M199.8 156.3h0M186.1 161.5h0M221.2 163.4h0M198.2 159.9h0M194.8 156.9h0M186.8 164.0h0M193.2 162.3h0M198.4 161.0h0M200.7 152.9h0M215.5 158.1h0M181.3 165.8h0M196.5 169.7h0M217.2 159.5h0M201.9 158.0h0M205.7 160.4h0M222.8 158.3h0M204.3 158.8h0M206.3 158.8h0M200.3 166.1h0M225.2 157.1h0M215.0 159.4h0M188.6 158.7h0M207.8 160.6h0M181.8 156.3h0M216.2 162.3h0M208.8 156.7h0M198.0 163.7h0M195.2 167.5h0M173.3 161.7h0M211.5 163.1h0M198.2 162.0h0M196.2 166.3h0M209.6 157.1h0M189.6 159.9h0M192.4 167.8h0M190.1 164.6h0M180.4 165.1h0M232.8 148.9h0M197.9 166.7h0M194.3 160.5h0M212.1 157.2h0M199.1 160.9h0M200.2 163.2h0M185.7 163.5h0M205.9 159.1h0M170.2 164.7h0M200.7 166.8h0M213.2 164.7h0M177.6 161.7h0M196.8 162.5h0M196.9 154.4h0M189.4 163.9h0M203.6 161.0h0M201.6 161.0h0M197.9 168.8h0M180.0 166.8h0M212.9 162.7h0M194.4 156.7h0M224.4 152.4h0M176.2 164.6h0M190.7 155.6h0M201.0 155.7h0M196.5 168.3h0M203.1 154.6h0M199.9 164.2h0M187.7 159.8h0M184.0 165.4h0M222.4 159.7h0M207.0 153.3h0M217.1 158.2h0M188.6 160.6h0M195.4 164.8h0M185.7 166.7h0M203.3 160.6h0M198.4 160.4h0M204.1 159.7h0M222.9 156.8h0M185.4 161.6h0M207.8 157.1h0M177.3 162.7h0M212.5 153.5h0M192.4 166.6h0M195.6 156.0h0M200.9 165.9h0M221.8 159.0h0M195.9 154.3h0M189.2 155.2h0M181.0 164.7h0M200.8 155.9h0M185.8 164.2h0M191.5 166.4h0M197.8 162.6h0M207.2 158.2h0M187.5 162.5h0M208.6 165.0h0M222.6 154.3h0M218.9 165.2h0M228.1 153.1h0M189.7 164.1h0M208.0 166.2h0M177.8 162.5h0M203.1 161.9h0M194.1 166.4h0M201.3 156.1h0M185.2 165.5h0M186.3 164.2h0M191.0 160.4h0M189.0 169.6h0M188.8 162.6h0M182.5 167.5h0M195.0 158.9h0M204.7 160.9h0M201.0 164.0h0M187.5 166.2h0M180.6 159.9h0M178.0 163.7h0M185.7 165.8h0M186.8 163.9h0M201.3 156.4h0M180.3 169.6h0M213.2 163.7h0M184.4 157.9h0M208.2 165.2h0M211.0 149.8h0M179.9 164.4h0M212.0 155.4h0M228.1 152.4h0M191.6 163.3h0M205.2 154.7h0M196.1 161.1h0M200.8 167.6h0M196.0 163.4h0M192.6 168.5h0M209.6 162.3h0M209.8 151.8h0M200.3 168.1h0M221.1 159.8h0M214.9 160.3h0M208.7 157.3h0M188.4 161.0h0M225.2 150.9h0M217.8 156.3h0M183.4 163.6h0M192.4 161.7h0M211.0 150.2h0M216.3 154.0h0M194.6 158.5h0M203.1 161.3h0M208.9 156.9h0M181.0 162.8h0M207.9 159.3h0M194.7 159.8h0M201.9 159.0h0M199.7 165.3h0M182.6 163.6h0M184.6 160.1h0M200.6 163.0h0M202.1 163.5h0M196.3 164.0h0M213.5 152.2h0M195.3 165.6h0M182.3 164.6h0M194.8 162.3h0M197.1 161.6h0M198.1 163.0h0M216.5 159.2h0M208.0 165.1h0M214.7 158.5h0M208.3 158.5h0M197.8 163.8h0M214.2 157.2h0M196.8 165.9h0M203.2 160.6h0M186.0 166.7h0M200.6 158.4h0M195.9 165.7h0M205.4 162.1h0M224.7 151.9h0M233.0 152.1h0M214.2 158.0h0M198.1 155.6h0M210.5 153.9h0M203.3 162.0h0M191.5 164.6h0M199.9 166.3h0M195.0 156.4h0M190.8 161.1h0M217.5 148.5h0M193.5 169.3h0M191.5 156.9h0M209.5 157.6h0M184.6 169.8h0M186.9 159.8h0M208.4 168.2h0M205.4 161.3h0M203.1 155.7h0M193.3 163.1h0M187.3 165.9h0M213.1 160.4h0M177.4 156.5h0M198.2 168.6h0M179.6 158.2h0M193.8 161.0h0M198.8 166.8h0M217.5 158.5h0M218.6 154.1h0M187.7 165.5h0M205.1 165.2h0M210.8 156.0h0M189.3 164.6h0M198.3 159.4h0M206.5 157.4h0M196.3 152.7h0M189.6 163.8h0M203.3 163.8h0M201.3 159.7h0M179.5 169.3h0M219.3 157.2h0M204.2 164.8h0M187.9 161.7h0M224.0 153.5h0M222.6 156.3h0M204.1 161.0h0M175.5 162.6h0M196.5 160.8h0M214.0 152.2h0M204.5 154.2h0M195.9 164.2h0M189.9 164.3h0M212.6 161.7h0M197.2 161.9h0M204.9 160.7h0M208.7 166.5h0M222.7 152.4h0M203.0 161.3h0M205.1 166.1h0M216.4 159.6h0M212.7 157.6h0M199.1 156.5h0M192.3 163.0h0M201.2 160.5h0M230.3 156.3h0M209.0 161.1h0M211.0 156.4h0M211.0 154.6h0M218.8 155.5h0M184.4 165.8h0M189.4 169.6h0M182.0 157.8h0M196.9 165.7h0M194.8 160.6h0M202.4 164.6h0M201.8 162.3h0M186.9 158.7h0M229.7 152.6h0M192.8 163.6h0M235.9 151.6h0M223.1 155.4h0M182.3 161.2h0M213.4 156.8h0M208.1 156.3h0M178.9 168.6h0M208.9 159.9h0M199.3 163.8h0M203.5 153.1h0M187.5 161.4h0M198.5 157.8h0M205.4 157.6h0M196.6 157.7h0M190.7 159.6h0M199.0 167.2h0M185.8 162.5h0M203.7 154.6h0M223.2 164.8h0M201.4 163.1h0M205.9 155.5h0M211.8 157.0h0M182.2 164.0h0M232.3 153.8h0M182.4 156.7h0M205.7 155.4h0M204.4 158.9h0M217.1 149.8h0M199.6 159.9h0M179.9 165.1h0M205.1 162.6h0M196.8 160.4h0M193.5 162.8h0M222.6 158.5h0M196.7 165.4h0M193.5 162.2h0M188.4 159.9h0M188.1 165.5h0M192.6 165.6h0M208.4 159.3h0M181.5 166.8h0M198.1 167.5h0M178.5 163.0h0M196.7 158.3h0M201.1 155.9h0M182.4 165.7h0M192.3 166.1h0M200.7 158.3h0M212.1 165.4h0M212.6 155.5h0M198.2 162.0h0M185.3 163.2h0M210.1 155.8h0M220.7 162.9h0M204.6 158.9h0M220.7 150.7h0M192.6 159.8h0M193.8 161.2h0M223.3 162.5h0M184.8 161.8h0M208.1 158.8h0M206.7 167.6h0M201.8 160.8h0M223.6 153.0h0M186.4 160.4h0M192.1 155.8h0M170.1 168.4h0M185.6 168.6h0M191.9 160.8h0M193.1 157.7h0M196.8 162.3h0M203.8 159.7h0M189.9 162.1h0M171.7 168.3h0M201.7 160.2h0M205.2 157.8h0M183.8 168.0h0M186.7 155.6h0M223.6 150.8h0M213.9 156.3h0M213.9 151.9h0M210.3 164.4h0M199.7 151.4h0M192.8 164.8h0M208.1 161.0h0M196.9 162.4h0M193.5 163.5h0M198.8 158.2h0M197.7 157.9h0M213.3 163.3h0M185.7 162.8h0M233.8 147.1h0M184.1 158.6h0M192.1 155.7h0M213.1 158.6h0M188.5 167.5h0M192.3 160.7h0M200.0 160.9h0M193.0 165.5h0M186.4 166.8h0M196.7 164.9h0M208.1 166.1h0M207.6 153.7h0M221.6 159.1h0M218.8 150.1h0M214.9 160.3h0M199.6 163.9h0M215.0 160.3h0M186.0 166.8h0M198.1 160.4h0M219.6 153.8h0M211.5 161.3h0M179.1 162.5h0M191.7 165.3h0M211.8 154.6h0M208.7 160.1h0M215.3 158.5h0M173.7 162.8h0M181.3 163.3h0M196.8 165.0h0M185.8 163.8h0M199.7 162.8h0M199.4 158.5h0M204.8 160.1h0M196.7 155.4h0M207.2 156.0h0M212.0 163.2h0M202.4 162.4h0M182.4 164.5h0M218.4 157.3h0M201.8 154.8h0M206.2 161.0h0M201.3 155.4h0M176.2 162.7h0M208.7 161.6h0M189.8 159.7h0M182.0 162.3h0M218.1 156.4h0M195.5 161.9h0M205.0 164.9h0M211.1 151.2h0M222.6 154.1h0M174.4 168.4h0M188.8 160.9h0M209.1 156.9h0M189.6 159.4h0M202.4 162.6h0M204.0 164.7h0M211.4 159.5h0M204.2 165.2h0M193.5 162.2h0M201.4 153.4h0M199.9 163.5h0M190.9 154.2h0M203.4 159.5h0M204.8 159.4h0M184.3 159.1h0M214.3 156.6h0M211.1 155.9h0M211.1 158.6h0M201.9 162.5h0M197.7 159.4h0M186.0 165.9h0M208.0 158.7h0M178.5 166.0h0M217.4 157.2h0M204.9 157.5h0M193.4 166.4h0M220.5 158.4h0M204.4 150.3h0M203.5 154.7h0M207.0 157.8h0M222.1 167.1h0M215.8 158.8h0M181.6 166.2h0M219.1 154.5h0M222.4 154.8h0M211.9 158.6h0M194.9 165.2h0M178.2 165.5h0M186.5 163.1h0M190.4 158.5h0M203.0 157.9h0M207.0 157.2h0M188.7 162.2h0M175.4 162.6h0M192.6 157.5h0M180.1 163.3h0M216.3 146.9h0M180.4 158.3h0M205.3 155.8h0M211.2 159.4h0M184.5 160.6h0M212.5 153.1h0M197.5 163.3h0M187.5 162.2h0M186.5 168.4h0M200.2 159.1h0M213.6 154.2h0M171.3 164.6h0M209.0 165.2h0M197.8 166.6h0M188.0 163.1h0M198.1 164.5h0M197.4 154.8h0M198.9 165.2h0M210.6 159.0h0M185.7 162.6h0M227.0 154.2h0M211.7 158.4h0M189.9 160.2h0M170.9 164.5h0M197.5 155.4h0M194.2 167.3h0M208.7 154.3h0M209.1 157.1h0M227.1 158.0h0M198.1 164.9h0M211.4 162.9h0M192.4 158.8h0M193.3 159.2h0M220.9 154.8h0M195.5 152.9h0M198.2 163.3h0M192.7 154.4h0M203.6 158.1h0M208.4 161.2h0M198.1 163.1h0M182.4 161.3h0M204.8 161.9h0M188.3 166.1h0M192.7 154.0h0M202.1 157.8h0M203.4 161.2h0M223.5 153.4h0M210.6 156.6h0M228.9 162.4h0M235.1 150.3h0M186.7 166.4h0M190.2 156.6h0M203.2 160.7h0M213.4 160.6h0M191.5 159.5h0M194.1 158.1h0M216.0 163.5h0M186.2 161.6h0M202.9 163.0h0M213.3 150.9h0M196.6 167.2h0M208.5 149.8h0M196.5 156.7h0M175.7 162.5h0M191.0 161.5h0M196.0 161.5h0M195.2 167.3h0M200.7 168.2h0M205.8 166.3h0M203.3 162.6h0M201.2 160.6h0M190.5 153.7h0M195.1 160.7h0M192.5 159.3h0M190.3 164.7h0M217.0 152.4h0M170.3 163.0h0M200.7 156.9h0M175.1 168.0h0M189.4 163.0h0M208.4 154.2h0M192.2 154.8h0M217.1 154.2h0M183.5 161.0h0M192.8 159.4h0M188.4 162.9h0M198.1 163.5h0M193.4 164.7h0M191.2 159.3h0M197.7 157.5h0M214.0 163.3h0M198.9 159.4h0M198.2 163.5h0M192.7 162.5h0M186.9 164.5h0M181.3 163.2h0M197.8 165.2h0M205.5 158.5h0M189.8 160.6h0M182.3 161.9h0M189.3 167.3h0M206.3 163.0h0M200.6 156.8h0M200.2 161.9h0M219.8 148.8h0M229.8 154.3h0M208.4 153.7h0M186.3 164.5h0M177.0 162.8h0M189.9 162.9h0M211.1 153.7h0M193.4 162.5h0M189.2 153.2h0M217.9 155.5h0M205.3 157.9h0M197.3 160.6h0M226.2 163.0h0M204.8 154.6h0M188.1 160.1h0M182.5 158.5h0M193.6 163.7h0M201.8 160.0h0M211.9 153.0h0M212.3 161.5h0M201.4 161.1h0M184.0 169.5h0M213.5 160.5h0M201.0 160.4h0M183.3 160.6h0M180.1 155.7h0M202.1 157.3h0M205.3 163.7h0M210.7 156.9h0M181.2 160.7h0M226.8 155.5h0M173.9 168.7h0M217.5 152.4h0M213.7 155.8h0M184.5 158.8h0M207.2 155.6h0M217.4 160.2h0M209.5 157.6h0M183.7 157.6h0M223.9 160.5h0M200.1 163.3h0M182.7 159.7h0M191.7 157.4h0M195.0 166.4h0M204.9 154.8h0M180.1 162.0h0M200.5 154.0h0M218.7 163.9h0M199.1 157.5h0M206.2 158.0h0M204.0 156.1h0M187.3 159.9h0M192.2 156.9h0M200.1 164.5h0M204.7 156.2h0M228.7 159.8h0M220.7 150.3h0M192.2 163.6h0M193.1 165.4h0M182.9 158.8h0M216.7 154.0h0M205.1 154.3h0M170.2 164.5h0M197.0 152.8h0M231.9 151.9h0M204.1 152.6h0M206.3 161.2h0M202.7 165.5h0M188.7 168.0h0M181.1 160.8h0M186.5 162.1h0M202.3 167.5h0M196.2 165.9h0M209.1 160.5h0M222.1 146.3h0M207.0 157.0h0M212.6 166.4h0M194.1 163.1h0M179.8 162.3h0M230.0 153.9h0M211.3 167.5h0M217.0 161.7h0M192.4 156.2h0M173.6 160.8h0M217.9 156.3h0M195.9 157.6h0M190.7 159.5h0M199.9 149.2h0M210.0 155.1h0M211.2 160.0h0M211.9 151.2h0M172.2 169.0h0M207.9 154.6h0M191.3 155.6h0M182.9 165.4h0M189.8 155.0h0M179.4 162.0h0M197.9 156.4h0M212.2 156.3h0M210.5 158.2h0M199.1 157.9h0M214.0 153.0h0M205.7 156.1h0M227.9 143.5h0M206.2 157.7h0M192.1 169.9h0M195.0 162.2h0M188.9 166.9h0M194.7 160.9h0M196.9 160.5h0M209.2 159.7h0M210.8 160.4h0M200.2 162.5h0M204.3 155.4h0M188.3 162.5h0M189.7 155.8h0M187.7 162.4h0M191.5 160.5h0M234.9 147.2h0M179.8 166.2h0M200.7 164.0h0M194.6 163.3h0M177.1 169.5h0M202.0 156.3h0M199.9 163.9h0M177.9 164.7h0M198.3 161.6h0M177.4 160.6h0M208.5 157.6h0M194.4 158.5h0M205.9 155.1h0M195.5 165.5h0M220.8 153.4h0M209.2 158.9h0M221.8 158.5h0M200.6 158.4h0M183.4 158.5h0M178.9 165.0h0M192.0 161.6h0M202.7 155.9h0M206.2 144.2h0M213.4 135.0h0M209.9 133.8h0M215.5 133.5h0M216.1 138.0h0M207.0 143.5h0M204.9 142.6h0M199.8 154.9h0M213.8 137.2h0M201.0 146.4h0M211.6 145.0h0M217.8 135.5h0M209.9 151.0h0M195.4 153.8h0M199.1 152.3h0M200.1 140.0h0M215.7 138.0h0M204.2 148.4h0M207.1 150.5h0M195.0 144.4h0M206.8 139.7h0M202.6 136.0h0M207.8 132.3h0M200.6 153.9h0M210.2 141.7h0M195.3 152.6h0M202.7 152.9h0M200.7 146.1h0M203.9 145.7h0M205.6 136.8h0M184.7 149.6h0M205.6 147.1h0M205.7 153.9h0M197.1 155.3h0M200.8 141.6h0M206.7 138.3h0M203.4 150.2h0M202.5 149.1h0M212.1 145.0h0M199.8 148.8h0M217.2 147.9h0M209.1 144.7h0M212.7 151.2h0M211.6 145.4h0M215.6 140.0h0M196.7 140.9h0M215.6 142.1h0M200.7 153.1h0M209.0 144.2h0M207.8 136.8h0M201.8 133.4h0M195.8 147.2h0M200.4 159.3h0M193.6 142.3h0M203.9 142.1h0M207.4 144.9h0M212.7 148.0h0M190.6 144.7h0M208.3 143.6h0M214.7 142.4h0M203.8 137.2h0M206.6 146.9h0M209.5 135.6h0M218.9 139.5h0M219.4 142.5h0M218.3 139.2h0M192.2 142.2h0M219.3 143.0h0M205.2 149.8h0M213.1 142.1h0M203.2 151.4h0M207.7 140.4h0M199.1 141.9h0M203.1 144.5h0M222.8 139.9h0M198.6 154.0h0M212.0 136.8h0M207.0 145.4h0M197.4 149.5h0M215.3 136.7h0M200.9 132.7h0M196.9 136.7h0M211.2 148.4h0M195.5 138.7h0M214.7 127.7h0M190.1 141.6h0M200.9 144.2h0M193.2 159.0h0M208.9 145.4h0M211.3 138.3h0M212.6 138.9h0M219.6 140.8h0M206.1 144.4h0M197.7 135.8h0M216.7 147.6h0M203.6 151.6h0M206.0 136.8h0M201.7 144.5h0M201.4 149.3h0M206.5 145.9h0M214.3 138.0h0M213.7 141.1h0M212.2 154.0h0M184.3 152.3h0M209.0 149.7h0M210.1 144.2h0M207.7 135.6h0M202.3 150.6h0M215.5 142.5h0M212.2 149.7h0M195.4 160.6h0M215.3 147.5h0M220.6 140.0h0M210.1 146.4h0M202.4 152.1h0M219.1 132.9h0M212.0 134.8h0M193.8 155.7h0M212.1 134.0h0M209.1 141.2h0M213.6 153.4h0M194.7 156.2h0M196.2 157.8h0M207.7 143.5h0M225.0 143.7h0M205.5 139.0h0M204.9 139.4h0M200.8 145.7h0M201.2 141.8h0M218.0 147.8h0M199.4 146.4h0M218.2 130.6h0M212.3 147.7h0M210.4 147.3h0M208.0 151.7h0M196.8 140.4h0M201.4 140.5h0M187.9 137.1h0M207.1 146.4h0M189.9 151.2h0M221.7 132.9h0M208.4 152.5h0M190.8 146.0h0M205.8 140.7h0M203.6 139.1h0M197.7 140.8h0M206.8 143.3h0M197.8 146.5h0M202.8 143.0h0M200.3 138.8h0M205.1 135.0h0M198.6 143.1h0M206.8 143.0h0M179.5 150.1h0M212.3 137.8h0M205.2 141.6h0M206.6 136.9h0M198.7 136.6h0M211.5 140.1h0M208.7 153.5h0M207.8 146.3h0M205.2 143.3h0M198.7 142.4h0M195.9 144.1h0M212.2 148.4h0M207.1 135.5h0M209.5 154.8h0M215.5 140.1h0M207.2 145.8h0M208.4 140.7h0M216.9 146.0h0M213.7 147.3h0M202.0 141.2h0M201.5 159.3h0M199.8 148.7h0M193.0 140.2h0M213.3 144.6h0M177.5 160.1h0M222.4 138.3h0M200.6 153.1h0M217.2 147.0h0M204.9 136.9h0M209.4 141.6h0M194.7 148.9h0M214.1 141.1h0M200.1 134.8h0M211.4 143.8h0M198.2 148.7h0M210.5 155.9h0M197.7 142.5h0M206.9 140.7h0M212.4 144.7h0M203.8 145.5h0M211.6 148.1h0M213.1 149.7h0M202.8 139.9h0M203.8 146.4h0M191.8 155.8h0M212.3 136.4h0M213.1 156.9h0M204.5 147.4h0M207.8 144.9h0M197.4 137.9h0M201.3 142.0h0M204.4 131.3h0M195.2 154.3h0M201.0 141.2h0M207.8 144.1h0M194.0 152.7h0M197.4 149.8h0M214.7 137.4h0M225.4 140.5h0M205.2 136.9h0M206.1 131.1h0M194.8 139.1h0M218.7 143.6h0M209.1 152.6h0M204.7 140.0h0M207.6 139.6h0M202.3 148.7h0M196.5 139.1h0M204.2 141.4h0M193.3 139.8h0M201.1 146.6h0M176.9 136.9h0M193.4 139.1h0M204.6 132.2h0M214.3 139.4h0M211.7 144.5h0M198.6 146.9h0M211.7 155.6h0M197.9 147.8h0M194.2 142.4h0M212.2 137.6h0M204.2 149.2h0M204.1 147.9h0M212.8 155.8h0M213.6 141.7h0M204.0 138.1h0M200.6 138.5h0M210.5 147.3h0M197.4 128.1h0M204.2 147.4h0M190.2 157.1h0M197.5 144.6h0M205.4 145.8h0M201.2 155.3h0M224.9 145.5h0M228.2 143.2h0M222.5 143.1h0M198.4 146.2h0M206.9 135.0h0M203.8 129.9h0M213.9 152.8h0M196.3 155.8h0M210.3 132.8h0M223.0 143.7h0M211.8 138.1h0M222.1 132.7h0M200.8 137.7h0M217.7 153.1h0M213.2 130.8h0M196.1 140.5h0M207.5 148.1h0M202.8 151.3h0M215.2 143.3h0M194.7 141.8h0M208.6 141.3h0M200.1 140.5h0M212.6 137.3h0M207.5 156.1h0M206.2 145.8h0M210.9 147.3h0M198.2 141.2h0M201.7 142.1h0M206.0 147.2h0M206.0 152.6h0M208.3 141.8h0M204.6 155.4h0M213.8 157.5h0M199.1 134.5h0M201.3 146.3h0M199.2 152.0h0M190.5 149.8h0M205.0 156.5h0M210.7 142.7h0M204.1 147.4h0M213.5 129.2h0M200.6 153.7h0M201.7 143.8h0M194.0 152.7h0M213.9 138.5h0M192.7 145.2h0M208.5 141.6h0M204.2 135.8h0M225.5 133.1h0M219.1 145.8h0M214.3 146.9h0M203.9 138.0h0M222.8 142.1h0M201.5 143.3h0M193.8 145.0h0M214.2 144.4h0M207.0 148.6h0M198.2 143.1h0M210.8 148.4h0M209.6 142.2h0M199.0 162.6h0M209.3 131.8h0M220.9 135.3h0M201.7 144.0h0M191.2 144.8h0M204.0 135.2h0M208.0 151.8h0M212.7 142.9h0M209.3 132.6h0M203.1 141.4h0M216.8 136.2h0M191.0 153.3h0M197.3 141.0h0M211.2 152.2h0M208.9 142.8h0M208.9 152.9h0M210.9 145.7h0M194.6 147.5h0M186.7 151.9h0M213.5 143.5h0M217.0 140.2h0M206.6 145.8h0M198.6 153.2h0M203.6 154.1h0M208.0 136.0h0M203.2 133.9h0M214.1 133.9h0M222.6 145.2h0M215.4 138.5h0M202.4 141.4h0M215.4 142.3h0M212.1 146.6h0M204.6 136.9h0M204.7 137.7h0M205.1 144.3h0M197.4 147.4h0M206.8 138.5h0M205.8 160.4h0M208.8 151.7h0M211.8 140.3h0M213.9 145.3h0M187.5 144.2h0M202.8 152.3h0M196.3 147.3h0M206.0 139.2h0M195.9 139.1h0M215.5 145.7h0M202.1 146.5h0M207.7 139.2h0M200.5 154.0h0M198.9 145.7h0M204.0 147.0h0M207.7 140.0h0M190.0 154.6h0M202.9 137.3h0M192.6 147.5h0M206.9 144.1h0M188.6 146.4h0M200.3 142.8h0M216.9 144.2h0M215.6 136.2h0M199.9 154.5h0M220.1 140.6h0M201.8 146.3h0M201.4 135.7h0M213.3 151.5h0M210.0 152.8h0M208.8 145.0h0M207.0 144.8h0M212.3 141.8h0M205.7 141.4h0M200.8 144.9h0M198.0 150.9h0M192.5 139.8h0M204.2 144.8h0M211.8 144.5h0M202.7 133.2h0M200.6 142.0h0M204.1 134.0h0M196.3 138.4h0M207.3 147.4h0M205.2 136.0h0M209.0 161.4h0M215.0 138.5h0M211.5 135.5h0M201.6 143.9h0M209.7 142.1h0M207.1 145.5h0M208.2 145.1h0M208.2 145.1h0M218.3 145.9h0M210.8 150.2h0M207.5 143.7h0M213.5 143.1h0M210.2 136.7h0M217.2 134.4h0M197.6 145.2h0M214.3 149.8h0M188.7 147.1h0M206.1 145.4h0M195.4 149.9h0M197.0 154.0h0M202.7 141.3h0M195.7 146.1h0M206.0 151.8h0M184.4 156.1h0M214.9 136.2h0M187.2 161.4h0M200.4 147.7h0M217.5 135.2h0M197.0 155.0h0M223.9 148.6h0M213.2 138.1h0M202.1 139.1h0M196.1 132.1h0M208.2 156.3h0M206.2 140.4h0M212.5 139.1h0M213.4 133.8h0M188.2 151.4h0M209.7 135.2h0M214.7 151.2h0M197.7 153.2h0M211.3 138.1h0M209.7 133.9h0M214.5 144.6h0M202.8 139.9h0M215.4 149.1h0M216.1 141.7h0M200.3 146.8h0M198.4 139.5h0M201.6 148.2h0M211.5 132.4h0M209.0 151.3h0M194.4 135.8h0M196.4 146.3h0M201.8 163.2h0M206.0 140.9h0M214.3 145.8h0M218.7 146.1h0M198.5 150.5h0M197.5 147.5h0M200.7 154.3h0M201.6 154.2h0M191.9 147.1h0M222.1 148.3h0M212.8 150.8h0M198.6 140.9h0M186.4 157.5h0M217.9 143.2h0M212.0 143.0h0M204.7 140.9h0M207.8 135.3h0M201.2 150.5h0M206.2 133.3h0M199.4 143.8h0M203.7 132.0h0M202.2 141.5h0M195.3 150.9h0M192.8 140.8h0M216.1 145.6h0M215.9 146.8h0M205.0 148.2h0M201.5 151.6h0M205.7 155.4h0M210.4 148.1h0M189.7 140.4h0M212.6 140.7h0M196.5 143.3h0M196.3 149.6h0M200.5 135.4h0M220.8 138.3h0M199.0 146.3h0M203.7 149.7h0M193.3 143.9h0M206.6 142.7h0M201.7 131.8h0M204.8 144.2h0M202.0 146.3h0M204.6 135.9h0M211.7 142.1h0M197.9 138.8h0M204.5 148.7h0M197.8 142.6h0M199.5 144.7h0M219.2 150.2h0M198.6 152.1h0M210.7 153.2h0M216.2 147.2h0M200.8 146.4h0M214.0 152.1h0M211.8 144.0h0M193.4 150.6h0M211.7 139.0h0M193.7 142.1h0M207.5 148.0h0M192.2 149.7h0M193.3 154.0h0M202.7 145.6h0M219.7 142.9h0M224.1 132.4h0M227.9 136.5h0M218.9 146.2h0M218.4 148.5h0M211.6 142.6h0M208.3 137.5h0M206.6 155.5h0M205.2 154.4h0M207.3 140.2h0M212.9 151.5h0M202.1 151.2h0M193.6 144.9h0M200.2 149.4h0M229.4 126.1h0M199.1 146.3h0M216.4 138.1h0M215.5 140.8h0M217.5 148.1h0M196.9 139.6h0M213.8 120.4h0M210.0 148.6h0M200.1 146.3h0M202.5 153.9h0M206.9 151.2h0M227.4 147.4h0M190.0 139.1h0M204.5 157.3h0M205.7 145.5h0M208.4 141.1h0M201.4 158.9h0M201.0 156.7h0M197.5 139.9h0M209.5 139.7h0M208.2 154.8h0M200.1 138.6h0M208.3 147.3h0M208.0 148.5h0M212.9 141.3h0M198.4 145.6h0M207.9 150.6h0M199.9 147.1h0M209.0 137.5h0M214.1 146.4h0M199.7 138.1h0M214.1 138.7h0M205.4 149.1h0M213.2 132.3h0M206.6 155.8h0M203.1 149.5h0M193.5 151.1h0M194.7 143.6h0M203.1 148.4h0M187.6 151.8h0M206.5 148.0h0M211.1 139.2h0M210.8 145.3h0M203.2 136.2h0M206.9 134.1h0M198.9 143.1h0M196.2 135.5h0M211.5 140.6h0M204.4 146.0h0M208.8 131.5h0M200.9 145.6h0M209.0 138.5h0M213.4 136.1h0M208.0 152.5h0M218.0 136.1h0M217.8 138.6h0M183.9 150.3h0M225.4 131.7h0M191.8 150.1h0M225.3 135.5h0M197.3 146.7h0M190.9 158.8h0M193.6 148.4h0M208.7 142.5h0M201.7 158.7h0M201.3 148.3h0M217.4 145.2h0M199.0 152.8h0M208.3 140.8h0M219.2 147.7h0M190.9 153.5h0M196.2 150.4h0M207.4 144.8h0M206.4 147.3h0M210.0 148.8h0M183.3 140.3h0M202.2 156.2h0M203.1 131.6h0M206.8 135.6h0M217.4 143.8h0M201.8 145.3h0M201.3 151.6h0M194.2 141.7h0M197.9 148.7h0M190.2 156.0h0M216.9 133.6h0M199.7 142.4h0M199.9 148.4h0M201.4 150.2h0M203.0 128.3h0M205.1 142.5h0M199.6 149.6h0M217.3 149.6h0M204.2 137.3h0M203.8 146.3h0M202.1 138.6h0M212.1 134.9h0M209.1 138.6h0M208.8 155.0h0M215.0 144.3h0M190.1 158.9h0M210.6 141.7h0M201.2 154.7h0M200.1 147.7h0M205.2 150.4h0M216.4 129.5h0M201.4 140.7h0M205.9 149.8h0M216.0 155.7h0M194.0 164.1h0M200.5 140.2h0M210.3 141.6h0M196.4 147.6h0M217.0 158.1h0M197.0 143.9h0M193.5 152.3h0M215.7 148.9h0M207.8 149.0h0M208.0 134.9h0M212.2 156.3h0M190.7 136.9h0M214.3 142.7h0M207.6 141.0h0M204.8 135.0h0M201.2 144.2h0M195.3 146.7h0M213.9 132.5h0M210.4 138.6h0M206.4 142.7h0M201.2 147.9h0M210.4 126.7h0M197.1 144.6h0M199.5 147.9h0M225.8 142.5h0M213.6 149.0h0M208.2 130.7h0M209.8 138.3h0M223.5 138.0h0M211.0 147.5h0M214.5 152.9h0M197.7 146.1h0M202.6 137.0h0M193.4 150.7h0M203.3 147.6h0M203.8 140.9h0M209.0 136.5h0M218.4 143.2h0M196.5 139.6h0M195.4 145.4h0M208.7 145.4h0M199.0 148.9h0M219.6 138.6h0M213.3 134.3h0M187.8 127.3h0M205.0 138.5h0M217.8 143.5h0M200.6 153.3h0M205.9 155.6h0M206.4 148.0h0M220.6 147.8h0M209.3 142.6h0M204.8 148.2h0M214.1 156.0h0M204.0 140.4h0M205.5 140.8h0M212.7 150.0h0M209.9 149.0h0M206.2 132.5h0M209.2 152.6h0M201.1 141.4h0M201.1 141.8h0M195.3 157.0h0M202.8 149.6h0M221.4 141.3h0M208.9 153.6h0M212.3 148.8h0M205.2 126.5h0M202.2 148.5h0M204.5 150.5h0M209.5 143.0h0M197.0 147.0h0M213.2 143.1h0M211.4 143.8h0M207.0 143.8h0M206.9 143.3h0M208.1 135.8h0M206.3 145.2h0M183.1 150.1h0M211.6 147.8h0M196.2 145.3h0M200.1 144.3h0M198.2 138.7h0M201.1 144.8h0M193.2 154.3h0M186.6 145.0h0M207.8 151.7h0M205.8 144.9h0M208.1 141.6h0M197.0 153.6h0M203.8 147.6h0M206.4 130.0h0M205.1 151.7h0M202.3 150.2h0M221.7 136.4h0M183.2 132.0h0M188.2 124.5h0M191.4 137.6h0M203.5 150.9h0M233.7 137.9h0M197.2 148.8h0M203.0 144.9h0M194.8 132.8h0M199.0 146.7h0M209.5 135.3h0M201.2 144.7h0M211.3 133.8h0M219.2 143.3h0M200.7 144.0h0M218.0 140.8h0M195.8 148.2h0M206.3 138.5h0M209.9 131.1h0M193.9 140.3h0M202.8 138.8h0M209.9 142.6h0M216.1 153.6h0M209.8 145.0h0M221.8 135.8h0M207.2 149.9h0M212.6 132.8h0M224.0 137.7h0M201.8 148.1h0M196.4 132.5h0M198.3 149.7h0M210.1 137.8h0M217.2 138.0h0M191.0 149.0h0M198.8 148.3h0M198.8 141.7h0M226.5 140.7h0M205.7 151.2h0M206.4 136.7h0M196.9 149.9h0M212.5 139.3h0M201.1 155.6h0M203.4 139.6h0M198.0 148.7h0M204.8 143.2h0M200.9 136.1h0M210.9 149.5h0M208.6 144.8h0M217.4 129.8h0M202.4 151.7h0M219.6 144.7h0M204.4 133.5h0M204.0 143.2h0M207.8 141.1h0M207.6 141.7h0M212.7 140.1h0M211.5 138.3h0M206.2 131.1h0M208.3 143.0h0M189.6 142.0h0M211.4 137.0h0M216.6 142.6h0M214.4 153.6h0M212.5 151.0h0M197.5 143.1h0M208.0 141.8h0M217.1 149.0h0M197.2 152.5h0M205.0 151.3h0M199.8 141.5h0M218.0 143.1h0M204.5 150.1h0M195.5 159.6h0M212.4 154.7h0M215.2 135.8h0M208.9 153.8h0M202.0 144.9h0M208.3 144.6h0M224.0 147.1h0M204.9 147.2h0M205.8 149.2h0M214.4 153.3h0M206.4 161.4h0M194.6 155.6h0M204.8 138.5h0M204.0 147.5h0M207.7 140.2h0M206.3 142.1h0M211.5 144.9h0M196.7 147.1h0M208.7 143.3h0M198.4 147.2h0M208.4 142.1h0M197.2 134.6h0M218.8 136.3h0M198.2 146.4h0M191.8 161.7h0M209.1 148.4h0M202.8 147.4h0M196.7 144.0h0M208.8 146.1h0M215.0 129.1h0M206.2 148.5h0M198.0 142.4h0M215.2 134.6h0M217.9 146.6h0M205.7 144.0h0M200.7 145.1h0M208.0 134.3h0M203.5 154.5h0M193.3 131.2h0M200.2 150.0h0M210.5 143.8h0M218.8 141.2h0M204.2 140.3h0M216.8 131.4h0M194.4 162.1h0M206.4 147.2h0M194.2 156.2h0M208.0 131.2h0M218.4 145.5h0M195.1 160.0h0M201.4 152.3h0M201.0 134.2h0M189.9 143.1h0M190.7 132.2h0M197.6 149.8h0M220.2 124.9h0M208.8 132.0h0M196.1 133.1h0M188.6 123.0h0M217.1 140.5h0M187.1 120.9h0M234.6 111.0h0M212.7 130.2h0M227.1 132.3h0M206.9 129.9h0M200.5 133.3h0M212.8 135.3h0" stroke="#222" stroke-opacity="0.5" stroke-width="0.85" stroke-linecap="round" fill="none"/>
<rect x="169.3" y="98.2" width="80.7" height="72.6" fill="none" stroke="#888" stroke-width="0.8"/>
<line x1="169.3" y1="98.2" x2="169.3" y2="170.8" stroke="#777" stroke-width="0.9"/>
<line x1="169.3" y1="170.8" x2="250" y2="170.8" stroke="#777" stroke-width="0.9"/>
<rect x="189.6" y="104.1" width="53.1" height="48.1" fill="none" stroke="#6a6a6a" stroke-width="0.8"/>
<line x1="167.3" y1="170.8" x2="169.3" y2="170.8" stroke="#555" stroke-width="0.6"/>
<line x1="168.3" y1="165.34" x2="169.3" y2="165.34" stroke="#555" stroke-width="0.6"/>
<line x1="168.3" y1="162.14" x2="169.3" y2="162.14" stroke="#555" stroke-width="0.6"/>
<line x1="168.3" y1="159.87" x2="169.3" y2="159.87" stroke="#555" stroke-width="0.6"/>
<line x1="168.3" y1="158.11" x2="169.3" y2="158.11" stroke="#555" stroke-width="0.6"/>
<line x1="168.3" y1="156.68" x2="169.3" y2="156.68" stroke="#555" stroke-width="0.6"/>
<line x1="168.3" y1="155.46" x2="169.3" y2="155.46" stroke="#555" stroke-width="0.6"/>
<line x1="168.3" y1="154.41" x2="169.3" y2="154.41" stroke="#555" stroke-width="0.6"/>
<line x1="168.3" y1="153.48" x2="169.3" y2="153.48" stroke="#555" stroke-width="0.6"/>
<line x1="167.3" y1="152.65" x2="169.3" y2="152.65" stroke="#555" stroke-width="0.6"/>
<line x1="168.3" y1="147.19" x2="169.3" y2="147.19" stroke="#555" stroke-width="0.6"/>
<line x1="168.3" y1="143.99" x2="169.3" y2="143.99" stroke="#555" stroke-width="0.6"/>
<line x1="168.3" y1="141.72" x2="169.3" y2="141.72" stroke="#555" stroke-width="0.6"/>
<line x1="168.3" y1="139.96" x2="169.3" y2="139.96" stroke="#555" stroke-width="0.6"/>
<line x1="168.3" y1="138.53" x2="169.3" y2="138.53" stroke="#555" stroke-width="0.6"/>
<line x1="168.3" y1="137.31" x2="169.3" y2="137.31" stroke="#555" stroke-width="0.6"/>
<line x1="168.3" y1="136.26" x2="169.3" y2="136.26" stroke="#555" stroke-width="0.6"/>
<line x1="168.3" y1="135.33" x2="169.3" y2="135.33" stroke="#555" stroke-width="0.6"/>
<line x1="167.3" y1="134.5" x2="169.3" y2="134.5" stroke="#555" stroke-width="0.6"/>
<line x1="168.3" y1="129.04" x2="169.3" y2="129.04" stroke="#555" stroke-width="0.6"/>
<line x1="168.3" y1="125.84" x2="169.3" y2="125.84" stroke="#555" stroke-width="0.6"/>
<line x1="168.3" y1="123.57" x2="169.3" y2="123.57" stroke="#555" stroke-width="0.6"/>
<line x1="168.3" y1="121.81" x2="169.3" y2="121.81" stroke="#555" stroke-width="0.6"/>
<line x1="168.3" y1="120.38" x2="169.3" y2="120.38" stroke="#555" stroke-width="0.6"/>
<line x1="168.3" y1="119.16" x2="169.3" y2="119.16" stroke="#555" stroke-width="0.6"/>
<line x1="168.3" y1="118.11" x2="169.3" y2="118.11" stroke="#555" stroke-width="0.6"/>
<line x1="168.3" y1="117.18" x2="169.3" y2="117.18" stroke="#555" stroke-width="0.6"/>
<line x1="167.3" y1="116.35" x2="169.3" y2="116.35" stroke="#555" stroke-width="0.6"/>
<line x1="168.3" y1="110.89" x2="169.3" y2="110.89" stroke="#555" stroke-width="0.6"/>
<line x1="168.3" y1="107.69" x2="169.3" y2="107.69" stroke="#555" stroke-width="0.6"/>
<line x1="168.3" y1="105.42" x2="169.3" y2="105.42" stroke="#555" stroke-width="0.6"/>
<line x1="168.3" y1="103.66" x2="169.3" y2="103.66" stroke="#555" stroke-width="0.6"/>
<line x1="168.3" y1="102.23" x2="169.3" y2="102.23" stroke="#555" stroke-width="0.6"/>
<line x1="168.3" y1="101.01" x2="169.3" y2="101.01" stroke="#555" stroke-width="0.6"/>
<line x1="168.3" y1="99.96" x2="169.3" y2="99.96" stroke="#555" stroke-width="0.6"/>
<line x1="168.3" y1="99.03" x2="169.3" y2="99.03" stroke="#555" stroke-width="0.6"/>
<line x1="167.3" y1="98.2" x2="169.3" y2="98.2" stroke="#555" stroke-width="0.6"/>
<text x="166.8" y="171.9" font-size="3.8" fill="#666" text-anchor="end">1</text>
<text x="166.8" y="153.75" font-size="3.8" fill="#666" text-anchor="end">10</text>
<text x="166.8" y="135.6" font-size="3.8" fill="#666" text-anchor="end">100</text>
<text x="166.8" y="117.45" font-size="3.8" fill="#666" text-anchor="end">1000</text>
<text x="166.8" y="99.3" font-size="3.8" fill="#666" text-anchor="end">10000</text>
<line x1="169.3" y1="170.8" x2="169.3" y2="172.8" stroke="#555" stroke-width="0.6"/>
<line x1="175.37" y1="170.8" x2="175.37" y2="171.8" stroke="#555" stroke-width="0.6"/>
<line x1="178.93" y1="170.8" x2="178.93" y2="171.8" stroke="#555" stroke-width="0.6"/>
<line x1="181.45" y1="170.8" x2="181.45" y2="171.8" stroke="#555" stroke-width="0.6"/>
<line x1="183.4" y1="170.8" x2="183.4" y2="171.8" stroke="#555" stroke-width="0.6"/>
<line x1="185" y1="170.8" x2="185" y2="171.8" stroke="#555" stroke-width="0.6"/>
<line x1="186.35" y1="170.8" x2="186.35" y2="171.8" stroke="#555" stroke-width="0.6"/>
<line x1="187.52" y1="170.8" x2="187.52" y2="171.8" stroke="#555" stroke-width="0.6"/>
<line x1="188.55" y1="170.8" x2="188.55" y2="171.8" stroke="#555" stroke-width="0.6"/>
<line x1="189.48" y1="170.8" x2="189.48" y2="172.8" stroke="#555" stroke-width="0.6"/>
<line x1="195.55" y1="170.8" x2="195.55" y2="171.8" stroke="#555" stroke-width="0.6"/>
<line x1="199.1" y1="170.8" x2="199.1" y2="171.8" stroke="#555" stroke-width="0.6"/>
<line x1="201.62" y1="170.8" x2="201.62" y2="171.8" stroke="#555" stroke-width="0.6"/>
<line x1="203.58" y1="170.8" x2="203.58" y2="171.8" stroke="#555" stroke-width="0.6"/>
<line x1="205.17" y1="170.8" x2="205.17" y2="171.8" stroke="#555" stroke-width="0.6"/>
<line x1="206.52" y1="170.8" x2="206.52" y2="171.8" stroke="#555" stroke-width="0.6"/>
<line x1="207.69" y1="170.8" x2="207.69" y2="171.8" stroke="#555" stroke-width="0.6"/>
<line x1="208.73" y1="170.8" x2="208.73" y2="171.8" stroke="#555" stroke-width="0.6"/>
<line x1="209.65" y1="170.8" x2="209.65" y2="172.8" stroke="#555" stroke-width="0.6"/>
<line x1="215.72" y1="170.8" x2="215.72" y2="171.8" stroke="#555" stroke-width="0.6"/>
<line x1="219.28" y1="170.8" x2="219.28" y2="171.8" stroke="#555" stroke-width="0.6"/>
<line x1="221.8" y1="170.8" x2="221.8" y2="171.8" stroke="#555" stroke-width="0.6"/>
<line x1="223.75" y1="170.8" x2="223.75" y2="171.8" stroke="#555" stroke-width="0.6"/>
<line x1="225.35" y1="170.8" x2="225.35" y2="171.8" stroke="#555" stroke-width="0.6"/>
<line x1="226.7" y1="170.8" x2="226.7" y2="171.8" stroke="#555" stroke-width="0.6"/>
<line x1="227.87" y1="170.8" x2="227.87" y2="171.8" stroke="#555" stroke-width="0.6"/>
<line x1="228.9" y1="170.8" x2="228.9" y2="171.8" stroke="#555" stroke-width="0.6"/>
<line x1="229.82" y1="170.8" x2="229.82" y2="172.8" stroke="#555" stroke-width="0.6"/>
<line x1="235.9" y1="170.8" x2="235.9" y2="171.8" stroke="#555" stroke-width="0.6"/>
<line x1="239.45" y1="170.8" x2="239.45" y2="171.8" stroke="#555" stroke-width="0.6"/>
<line x1="241.97" y1="170.8" x2="241.97" y2="171.8" stroke="#555" stroke-width="0.6"/>
<line x1="243.93" y1="170.8" x2="243.93" y2="171.8" stroke="#555" stroke-width="0.6"/>
<line x1="245.52" y1="170.8" x2="245.52" y2="171.8" stroke="#555" stroke-width="0.6"/>
<line x1="246.87" y1="170.8" x2="246.87" y2="171.8" stroke="#555" stroke-width="0.6"/>
<line x1="248.04" y1="170.8" x2="248.04" y2="171.8" stroke="#555" stroke-width="0.6"/>
<line x1="249.08" y1="170.8" x2="249.08" y2="171.8" stroke="#555" stroke-width="0.6"/>
<line x1="250" y1="170.8" x2="250" y2="172.8" stroke="#555" stroke-width="0.6"/>
<text x="169.3" y="176" font-size="3.8" fill="#666" text-anchor="middle">1</text>
<text x="189.48" y="176" font-size="3.8" fill="#666" text-anchor="middle">10</text>
<text x="209.65" y="176" font-size="3.8" fill="#666" text-anchor="middle">100</text>
<text x="229.82" y="176" font-size="3.8" fill="#666" text-anchor="middle">1000</text>
<text x="250" y="176" font-size="3.8" fill="#666" text-anchor="middle">10000</text>
<text transform="translate(135.62,32.59) scale(0.951,1)" font-size="10.88" font-weight="bold" fill="#000">6</text>
<text transform="translate(227.95,31.4) scale(0.978,1)" font-size="10.31" font-weight="bold" fill="#000">46</text>
<text transform="translate(136.61,116.6) scale(1.009,1)" font-size="10.45" font-weight="bold" fill="#000">6</text>
<text transform="translate(227.68,115.38) scale(0.888,1)" font-size="10.71" font-weight="bold" fill="#000">35</text>
<text x="117" y="46.2" font-size="4.2" fill="#555" text-anchor="middle">6.24</text>
<text x="215" y="45.3" font-size="4.2" fill="#555" text-anchor="middle">45.93</text>
<text x="117" y="130.2" font-size="4.2" fill="#555" text-anchor="middle">5.68</text>
<text x="214.5" y="128.5" font-size="4.2" fill="#555" text-anchor="middle">35.54</text>
<text x="112" y="183.4" font-size="3.4" fill="#888" text-anchor="middle">FL2-H: PE</text>
<text x="210" y="182.6" font-size="3.4" fill="#888" text-anchor="middle">FL2-H: PE</text>
<text transform="translate(52.1,148.18) rotate(-90) scale(1.007,1)" font-size="10.17" font-weight="bold" fill="#000">IL-12</text>
<text transform="translate(54.2,50) rotate(-90)" font-size="3.4" fill="#888" text-anchor="middle">FL4-H</text>
<text transform="translate(56.0,135.5) rotate(-90)" font-size="3.4" fill="#888" text-anchor="middle">FL4-H</text>
<text transform="translate(88.89,193.09) scale(0.925,1)" font-size="10.88" font-weight="bold" fill="#000">CD11c</text>
<line x1="46.5" y1="164" x2="46.5" y2="188.2" stroke="#444" stroke-width="1.2"/>
<line x1="46.5" y1="188.2" x2="72" y2="188.2" stroke="#444" stroke-width="1.2"/>
<path d="M44 164.5 L46.5 159.5 L49 164.5 Z" fill="#111"/>
<path d="M71.5 185.7 L76.8 188.2 L71.5 190.7 Z" fill="#111"/>
<line x1="306.8" y1="45.7" x2="306.8" y2="144" stroke="#808080" stroke-width="1"/>
<line x1="306.3" y1="143.5" x2="428.8" y2="143.5" stroke="#808080" stroke-width="1"/>
<line x1="305" y1="48.5" x2="306.8" y2="48.5" stroke="#808080" stroke-width="0.8"/>
<text transform="translate(290.78,51.51) scale(0.930,1)" font-size="9" font-weight="bold" fill="#000">100</text>
<line x1="305" y1="72.3" x2="306.8" y2="72.3" stroke="#808080" stroke-width="0.8"/>
<text transform="translate(295.32,75.31) scale(0.930,1)" font-size="9" font-weight="bold" fill="#000">75</text>
<line x1="305" y1="96.1" x2="306.8" y2="96.1" stroke="#808080" stroke-width="0.8"/>
<text transform="translate(295.43,99.11) scale(0.930,1)" font-size="9" font-weight="bold" fill="#000">50</text>
<line x1="305" y1="119.9" x2="306.8" y2="119.9" stroke="#808080" stroke-width="0.8"/>
<text transform="translate(295.32,122.91) scale(0.930,1)" font-size="9" font-weight="bold" fill="#000">25</text>
<line x1="305" y1="143.7" x2="306.8" y2="143.7" stroke="#808080" stroke-width="0.8"/>
<text transform="translate(300.09,146.71) scale(0.930,1)" font-size="9" font-weight="bold" fill="#000">0</text>
<rect x="315.4" y="122.76" width="12.9" height="20.74" fill="#fff" stroke="#777" stroke-width="1"/>
<line x1="321.8" y1="122.76" x2="321.8" y2="116.9" stroke="#555" stroke-width="1"/>
<line x1="319.6" y1="116.9" x2="324" y2="116.9" stroke="#555" stroke-width="1"/>
<rect x="346.3" y="47.3" width="12.2" height="96.2" fill="#000"/>
<rect x="376.3" y="124.66" width="13.1" height="18.84" fill="#fff" stroke="#777" stroke-width="1"/>
<line x1="383" y1="124.66" x2="383" y2="118.5" stroke="#555" stroke-width="1"/>
<line x1="380.8" y1="118.5" x2="385.2" y2="118.5" stroke="#555" stroke-width="1"/>
<rect x="407" y="68.7" width="12.6" height="74.8" fill="#000"/>
<line x1="413.3" y1="68.7" x2="413.3" y2="66.7" stroke="#777" stroke-width="0.8"/>
<line x1="411.8" y1="66.7" x2="414.8" y2="66.7" stroke="#777" stroke-width="0.8"/>
<text transform="translate(314.82,152.33) scale(0.950,1)" font-size="8.33" font-weight="bold" fill="#000">w/o</text>
<text transform="translate(337.97,152.42) scale(1.021,1)" font-size="7.9" font-weight="bold" fill="#000">CD40Ab</text>
<text transform="translate(377.02,152.33) scale(0.987,1)" font-size="8.33" font-weight="bold" fill="#000">w/o</text>
<text transform="translate(399.26,152.42) scale(1.038,1)" font-size="7.9" font-weight="bold" fill="#000">CD40Ab</text>
<line x1="310.8" y1="157.3" x2="356.5" y2="157.3" stroke="#555" stroke-width="0.9"/>
<line x1="378.3" y1="157.3" x2="423.7" y2="157.3" stroke="#555" stroke-width="0.9"/>
<text transform="translate(321.99,166.42) scale(1.050,1)" font-size="7.77" font-weight="bold" fill="#000">WT DC</text>
<text transform="translate(381.31,166.9) scale(1.003,1)" font-size="7.9" fill="#000"><tspan x="0" y="0" font-size="7.9" font-weight="bold" font-style="italic">C1qa</tspan><tspan x="19.32" y="-2.61" font-size="5.37" font-weight="bold" stroke-width="0.1">-/-</tspan><tspan x="24.39" y="0" font-size="7.9" font-weight="bold"> DC</tspan></text>
<line x1="352.9" y1="41.8" x2="416" y2="41.8" stroke="#999" stroke-width="1.4"/>
<text transform="translate(381.65,43.82) scale(1.016,1)" font-size="15.59" font-weight="bold" fill="#000">*</text>
<text transform="translate(285,134.51) rotate(-90) scale(1.002,1)" font-size="8.3" fill="#000"><tspan x="0" y="0" font-size="8.3" font-weight="bold">% IL-12</tspan><tspan x="29.06" y="-2.74" font-size="5.64" font-weight="bold" stroke-width="0.1">+</tspan><tspan x="32.35" y="0" font-size="8.3" font-weight="bold">(normalised)</tspan></text>
<text transform="translate(1.55,217.1) scale(0.963,1)" font-size="17.88" font-weight="bold" fill="#000">B</text>
<line x1="28.4" y1="227.2" x2="28.4" y2="352.9" stroke="#808080" stroke-width="1"/>
<line x1="26.6" y1="352.2" x2="28.4" y2="352.2" stroke="#808080" stroke-width="0.8"/>
<line x1="26.6" y1="327.3" x2="28.4" y2="327.3" stroke="#808080" stroke-width="0.8"/>
<line x1="26.6" y1="302.4" x2="28.4" y2="302.4" stroke="#808080" stroke-width="0.8"/>
<line x1="26.6" y1="277.5" x2="28.4" y2="277.5" stroke="#808080" stroke-width="0.8"/>
<line x1="26.6" y1="252.6" x2="28.4" y2="252.6" stroke="#808080" stroke-width="0.8"/>
<line x1="26.6" y1="227.7" x2="28.4" y2="227.7" stroke="#808080" stroke-width="0.8"/>
<line x1="28.4" y1="352.4" x2="140.4" y2="352.4" stroke="#666" stroke-width="1"/>
<text transform="translate(22.08,355.24)" font-size="8.2" font-weight="bold" fill="#000">0</text>
<text transform="translate(17.52,330.34)" font-size="8.2" font-weight="bold" fill="#000">20</text>
<text transform="translate(17.52,305.44)" font-size="8.2" font-weight="bold" fill="#000">40</text>
<text transform="translate(17.52,280.54)" font-size="8.2" font-weight="bold" fill="#000">60</text>
<text transform="translate(17.52,255.64)" font-size="8.2" font-weight="bold" fill="#000">80</text>
<text transform="translate(12.95,230.74)" font-size="8.2" font-weight="bold" fill="#000">100</text>
<rect x="57.5" y="245.4" width="9.3" height="107" fill="#000"/>
<line x1="62.1" y1="245.4" x2="62.1" y2="235.4" stroke="#666" stroke-width="0.9"/>
<line x1="60.8" y1="235.4" x2="63.4" y2="235.4" stroke="#666" stroke-width="0.9"/>
<rect x="80.5" y="351.2" width="7" height="1.2" fill="#333"/>
<text transform="translate(14.94,316.86) rotate(-90) scale(1.140,1)" font-size="7.37" font-weight="bold" fill="#000">IL-12p70 pg/mL</text>
<text transform="translate(32.62,359.97) scale(0.967,1)" font-size="6.6" font-weight="bold" fill="#000">w/o</text>
<text transform="translate(51.37,360.04) scale(0.866,1)" font-size="6.6" font-weight="bold" fill="#000">CD40L</text>
<text transform="translate(54.9,367.34) scale(0.861,1)" font-size="6.6" font-weight="bold" fill="#000">fibro</text>
<text transform="translate(73.33,360.04) scale(0.897,1)" font-size="6.6" font-weight="bold" fill="#000">SAMEN</text>
<text transform="translate(98.16,360.04) scale(0.896,1)" font-size="6.6" font-weight="bold" fill="#000">CD40L</text>
<text transform="translate(101.1,367.34) scale(0.924,1)" font-size="6.6" font-weight="bold" fill="#000">fibro</text>
<text transform="translate(120.23,360.04) scale(0.914,1)" font-size="6.6" font-weight="bold" fill="#000">SAMEN</text>
<line x1="28.5" y1="373.4" x2="95.4" y2="373.4" stroke="#444" stroke-width="0.9"/>
<text transform="translate(51.99,382.53) scale(0.933,1)" font-size="7.49" font-weight="bold" fill="#000">WT DC</text>
<line x1="159.5" y1="227.2" x2="159.5" y2="352.9" stroke="#808080" stroke-width="1"/>
<line x1="157.7" y1="352" x2="159.5" y2="352" stroke="#808080" stroke-width="0.8"/>
<line x1="157.7" y1="327.14" x2="159.5" y2="327.14" stroke="#808080" stroke-width="0.8"/>
<line x1="157.7" y1="302.28" x2="159.5" y2="302.28" stroke="#808080" stroke-width="0.8"/>
<line x1="157.7" y1="277.42" x2="159.5" y2="277.42" stroke="#808080" stroke-width="0.8"/>
<line x1="157.7" y1="252.56" x2="159.5" y2="252.56" stroke="#808080" stroke-width="0.8"/>
<line x1="157.7" y1="227.7" x2="159.5" y2="227.7" stroke="#808080" stroke-width="0.8"/>
<line x1="159.5" y1="352.5" x2="362.5" y2="352.5" stroke="#666" stroke-width="1"/>
<line x1="188.5" y1="352.5" x2="188.5" y2="354.2" stroke="#666" stroke-width="0.8"/>
<line x1="216.8" y1="352.5" x2="216.8" y2="354.2" stroke="#666" stroke-width="0.8"/>
<line x1="245.2" y1="352.5" x2="245.2" y2="354.2" stroke="#666" stroke-width="0.8"/>
<line x1="273.5" y1="352.5" x2="273.5" y2="354.2" stroke="#666" stroke-width="0.8"/>
<line x1="302" y1="352.5" x2="302" y2="354.2" stroke="#666" stroke-width="0.8"/>
<line x1="330.5" y1="352.5" x2="330.5" y2="354.2" stroke="#666" stroke-width="0.8"/>
<line x1="359" y1="352.5" x2="359" y2="354.2" stroke="#666" stroke-width="0.8"/>
<text transform="translate(152.28,355.04)" font-size="8.2" font-weight="bold" fill="#000">0</text>
<text transform="translate(147.72,330.18)" font-size="8.2" font-weight="bold" fill="#000">20</text>
<text transform="translate(147.72,305.32)" font-size="8.2" font-weight="bold" fill="#000">40</text>
<text transform="translate(147.72,280.46)" font-size="8.2" font-weight="bold" fill="#000">60</text>
<text transform="translate(147.72,255.6)" font-size="8.2" font-weight="bold" fill="#000">80</text>
<text transform="translate(143.15,230.74)" font-size="8.2" font-weight="bold" fill="#000">100</text>
<rect x="167.9" y="330.6" width="12.3" height="21.9" fill="#000"/>
<line x1="174.05" y1="330.6" x2="174.05" y2="328.7" stroke="#444" stroke-width="0.9"/>
<line x1="172.05" y1="328.7" x2="176.05" y2="328.7" stroke="#444" stroke-width="0.9"/>
<rect x="197.1" y="284.4" width="12.1" height="68.1" fill="#000"/>
<line x1="203.15" y1="284.4" x2="203.15" y2="283.8" stroke="#444" stroke-width="0.9"/>
<line x1="201.15" y1="283.8" x2="205.15" y2="283.8" stroke="#444" stroke-width="0.9"/>
<rect x="226" y="288.7" width="12" height="63.8" fill="#000"/>
<line x1="232" y1="288.7" x2="232" y2="282.5" stroke="#444" stroke-width="0.9"/>
<line x1="230" y1="282.5" x2="234" y2="282.5" stroke="#444" stroke-width="0.9"/>
<rect x="255" y="343.7" width="11.7" height="8.8" fill="#000"/>
<line x1="260.85" y1="343.7" x2="260.85" y2="342.6" stroke="#444" stroke-width="0.9"/>
<line x1="258.85" y1="342.6" x2="262.85" y2="342.6" stroke="#444" stroke-width="0.9"/>
<rect x="283.2" y="316.2" width="12.6" height="36.3" fill="#000"/>
<line x1="289.5" y1="316.2" x2="289.5" y2="305.7" stroke="#444" stroke-width="0.9"/>
<line x1="287.5" y1="305.7" x2="291.5" y2="305.7" stroke="#444" stroke-width="0.9"/>
<rect x="312.9" y="293.4" width="11.8" height="59.1" fill="#000"/>
<line x1="318.8" y1="293.4" x2="318.8" y2="276.3" stroke="#444" stroke-width="0.9"/>
<line x1="316.8" y1="276.3" x2="320.8" y2="276.3" stroke="#444" stroke-width="0.9"/>
<rect x="341.7" y="246.2" width="11.8" height="106.3" fill="#000"/>
<line x1="347.6" y1="246.2" x2="347.6" y2="240.1" stroke="#444" stroke-width="0.9"/>
<line x1="345.6" y1="240.1" x2="349.6" y2="240.1" stroke="#444" stroke-width="0.9"/>
<text transform="translate(285.85,306.54) scale(1.017,1)" font-size="15.32" font-weight="bold" fill="#000">*</text>
<text transform="translate(211.8,229.28) scale(1.019,1)" font-size="11.86" font-weight="bold" fill="#000">GM-CSF DCs</text>
<text transform="translate(162.99,360.74) scale(0.977,1)" font-size="6.3" font-weight="bold" fill="#000">WT DC</text>
<text transform="translate(191.99,360.74) scale(0.977,1)" font-size="6.3" font-weight="bold" fill="#000">WT DC</text>
<text transform="translate(220.49,360.74) scale(0.953,1)" font-size="6.3" font-weight="bold" fill="#000">WT DC</text>
<text transform="translate(245.91,360.8) scale(0.955,1)" font-size="6.3" fill="#000"><tspan x="0" y="0" font-size="6.3" font-weight="bold" font-style="italic">C1qa</tspan><tspan x="15.41" y="-2.08" font-size="4.28" font-weight="bold" stroke-width="0.1">-/-</tspan><tspan x="19.45" y="0" font-size="6.3" font-weight="bold">DC</tspan></text>
<text transform="translate(275.73,360.8) scale(0.884,1)" font-size="6.3" fill="#000"><tspan x="0" y="0" font-size="6.3" font-weight="bold" font-style="italic">C1qa</tspan><tspan x="15.41" y="-2.08" font-size="4.28" font-weight="bold" stroke-width="0.1">-/-</tspan><tspan x="19.45" y="0" font-size="6.3" font-weight="bold">DC</tspan></text>
<text transform="translate(305.31,360.8) scale(0.958,1)" font-size="6.3" fill="#000"><tspan x="0" y="0" font-size="6.3" font-weight="bold" font-style="italic">C1qa</tspan><tspan x="15.41" y="-2.08" font-size="4.28" font-weight="bold" stroke-width="0.1">-/-</tspan><tspan x="19.45" y="0" font-size="6.3" font-weight="bold">DC</tspan></text>
<text transform="translate(336.7,360.8) scale(0.969,1)" font-size="6.3" fill="#000"><tspan x="0" y="0" font-size="6.3" font-weight="bold" font-style="italic">C1qa</tspan><tspan x="15.41" y="-2.08" font-size="4.28" font-weight="bold" stroke-width="0.1">-/-</tspan><tspan x="19.45" y="0" font-size="6.3" font-weight="bold">DC</tspan></text>
<text transform="translate(222.74,368.19) scale(0.980,1)" font-size="6.3" font-weight="bold" fill="#000">+C1q</text>
<text transform="translate(311.44,368.19) scale(0.980,1)" font-size="6.3" font-weight="bold" fill="#000">+C1q</text>
<text transform="translate(343.14,368.19) scale(0.980,1)" font-size="6.3" font-weight="bold" fill="#000">+C1q</text>
<text transform="translate(216.59,375.19) scale(0.990,1)" font-size="6.2" font-weight="bold" fill="#000">(40µg/mL)</text>
<text transform="translate(305.71,375.19) scale(0.955,1)" font-size="6.2" font-weight="bold" fill="#000">(20µg/mL)</text>
<text transform="translate(337,375.19) scale(0.969,1)" font-size="6.2" font-weight="bold" fill="#000">(40µg/mL)</text>
<line x1="191" y1="380.1" x2="239.2" y2="380.1" stroke="#444" stroke-width="0.9"/>
<line x1="282.3" y1="380.1" x2="364.2" y2="380.1" stroke="#444" stroke-width="0.9"/>
<text transform="translate(188.41,387.63) scale(0.971,1)" font-size="7.35" font-weight="bold" fill="#000">CD40L fibroblasts</text>
<text transform="translate(294.31,387.63) scale(0.969,1)" font-size="7.35" font-weight="bold" fill="#000">CD40L fibroblasts</text>
<line x1="381.4" y1="226.8" x2="381.4" y2="352" stroke="#808080" stroke-width="1"/>
<line x1="379.6" y1="351.6" x2="381.4" y2="351.6" stroke="#808080" stroke-width="0.8"/>
<line x1="379.6" y1="310.17" x2="381.4" y2="310.17" stroke="#808080" stroke-width="0.8"/>
<line x1="379.6" y1="268.74" x2="381.4" y2="268.74" stroke="#808080" stroke-width="0.8"/>
<line x1="379.6" y1="227.31" x2="381.4" y2="227.31" stroke="#808080" stroke-width="0.8"/>
<line x1="381.4" y1="351.5" x2="499.2" y2="351.5" stroke="#666" stroke-width="1"/>
<line x1="411" y1="351.5" x2="411" y2="353.2" stroke="#666" stroke-width="0.8"/>
<line x1="440.5" y1="351.5" x2="440.5" y2="353.2" stroke="#666" stroke-width="0.8"/>
<line x1="470" y1="351.5" x2="470" y2="353.2" stroke="#666" stroke-width="0.8"/>
<text transform="translate(374.78,354.64)" font-size="8.2" font-weight="bold" fill="#000">0</text>
<text transform="translate(365.65,313.21)" font-size="8.2" font-weight="bold" fill="#000">100</text>
<text transform="translate(365.65,271.78)" font-size="8.2" font-weight="bold" fill="#000">200</text>
<text transform="translate(365.65,230.34)" font-size="8.2" font-weight="bold" fill="#000">300</text>
<rect x="390.2" y="343.5" width="11.5" height="8" fill="#000"/>
<line x1="395.95" y1="343.5" x2="395.95" y2="337.1" stroke="#555" stroke-width="0.9"/>
<line x1="394.35" y1="337.1" x2="397.55" y2="337.1" stroke="#555" stroke-width="0.9"/>
<rect x="419.4" y="270.9" width="12.2" height="80.6" fill="#000"/>
<line x1="425.5" y1="270.9" x2="425.5" y2="251.9" stroke="#555" stroke-width="0.9"/>
<line x1="423.9" y1="251.9" x2="427.1" y2="251.9" stroke="#555" stroke-width="0.9"/>
<rect x="478.4" y="325.1" width="12.5" height="26.4" fill="#000"/>
<line x1="484.65" y1="325.1" x2="484.65" y2="321.5" stroke="#555" stroke-width="0.9"/>
<line x1="483.05" y1="321.5" x2="486.25" y2="321.5" stroke="#555" stroke-width="0.9"/>
<text transform="translate(480.85,312.09)" font-size="16.13" font-weight="bold" fill="#000">*</text>
<text transform="translate(407.1,230.57) scale(1.079,1)" font-size="11.28" font-weight="bold" fill="#000">GM-CSF/IL-4DCs</text>
<text transform="translate(390.79,360.2) scale(0.926,1)" font-size="7" font-weight="bold" fill="#000">WT</text>
<text transform="translate(421.49,360.2) scale(0.963,1)" font-size="7" font-weight="bold" fill="#000">WT</text>
<text transform="translate(415.5,368.73) scale(1.038,1)" font-size="7" font-weight="bold" fill="#000">CD40L</text>
<text transform="translate(418.88,377.43) scale(1.016,1)" font-size="7" font-weight="bold" fill="#000">fibro</text>
<text transform="translate(445.25,360.1) scale(1.025,1)" font-size="7" fill="#000"><tspan x="0" y="0" font-size="7" font-weight="bold" font-style="italic">C1qa</tspan><tspan x="17.12" y="-2.31" font-size="4.76" font-weight="bold" stroke-width="0.1">-/-</tspan></text>
<text transform="translate(475.45,360.1) scale(1.030,1)" font-size="7" fill="#000"><tspan x="0" y="0" font-size="7" font-weight="bold" font-style="italic">C1qa</tspan><tspan x="17.12" y="-2.31" font-size="4.76" font-weight="bold" stroke-width="0.1">-/-</tspan></text>
<text transform="translate(475.01,368.73) scale(1.024,1)" font-size="7" font-weight="bold" fill="#000">CD40L</text>
<text transform="translate(478.68,377.23) scale(1.029,1)" font-size="7" font-weight="bold" fill="#000">fibro</text>
<text transform="translate(1.54,418.84) scale(1.139,1)" font-size="16.24" font-weight="bold" fill="#000">C</text>
<text transform="translate(73.64,425.37) scale(1.038,1)" font-size="11.7" font-weight="bold" fill="#000">w/o</text>
<text transform="translate(140.31,424.59) scale(1.118,1)" font-size="10.76" font-weight="bold" fill="#000">CD40Ab</text>
<text transform="translate(9.19,437.4) scale(0.973,1)" font-size="10.31" font-weight="bold" fill="#000">WTDC</text>
<text transform="translate(0.79,530.4) scale(1.159,1)" font-size="8.7" fill="#000"><tspan x="0" y="0" font-size="8.7" font-weight="bold">C1qa</tspan><tspan x="21.27" y="-2.87" font-size="5.92" font-weight="bold" stroke-width="0.1">-/-</tspan><tspan x="26.86" y="0" font-size="8.7" font-weight="bold"> DC</tspan></text>
<path d="M74.6 471.7h0M83.8 458.9h0M82.7 460.1h0M74.1 478.2h0M71.2 474.5h0M74.1 478.4h0M77.3 466.1h0M72.2 471.9h0M80.9 465.3h0M67.2 492.0h0M76.8 453.7h0M77.1 474.3h0M74.9 463.9h0M74.6 473.8h0M66.1 473.5h0M74.9 466.5h0M73.1 461.4h0M68.8 472.4h0M65.6 470.6h0M83.5 467.1h0M68.9 480.7h0M67.6 488.1h0M78.6 468.8h0M69.8 478.5h0M66.9 492.8h0M64.9 478.4h0M71.8 476.8h0M66.6 483.8h0M68.7 488.2h0M73.8 471.4h0M71.8 460.0h0M65.5 471.5h0M66.4 478.1h0M77.2 468.4h0M77.5 464.4h0M73.2 475.3h0M68.1 462.9h0M67.8 456.7h0M70.0 472.9h0M68.5 479.8h0M72.3 467.0h0M75.3 469.3h0M76.9 459.5h0M63.5 483.7h0M67.2 477.4h0M70.1 480.7h0M66.1 490.2h0M73.3 470.0h0M83.2 468.9h0M69.0 479.1h0M79.1 456.8h0M72.9 461.3h0M74.3 464.3h0M76.5 467.9h0M79.0 462.0h0M67.0 485.6h0M76.9 465.4h0M75.7 465.1h0M59.0 487.9h0M62.8 463.3h0M80.2 477.3h0M79.2 464.2h0M71.0 476.1h0M66.8 469.3h0M69.9 466.1h0M74.2 482.8h0M65.6 461.3h0M71.4 472.2h0M78.1 467.4h0M71.4 477.3h0M80.2 460.9h0M75.0 464.8h0M80.8 476.7h0M72.0 463.3h0M73.4 456.1h0M81.4 452.6h0M71.6 490.3h0M76.4 461.9h0M78.6 467.9h0M70.7 471.8h0M64.6 480.7h0M83.1 459.9h0M73.4 487.2h0M80.8 467.5h0M76.8 456.9h0M62.3 487.1h0M67.6 473.2h0M66.8 485.3h0M76.1 469.7h0M81.0 455.9h0M76.3 447.8h0M66.4 490.9h0M70.7 477.7h0M76.2 464.1h0M79.4 454.5h0M74.0 466.7h0M72.0 480.3h0M74.7 468.5h0M73.7 472.0h0M69.7 472.7h0M71.4 479.9h0M74.2 467.2h0M66.8 465.3h0M74.3 473.2h0M71.1 473.5h0M71.0 486.6h0M70.4 476.5h0M77.6 458.4h0M73.0 473.8h0M67.0 486.9h0M76.9 456.6h0M68.8 463.4h0M88.2 451.4h0M67.7 468.7h0M69.9 476.0h0M69.4 487.9h0M79.8 457.8h0M85.6 444.7h0M72.3 481.4h0M74.8 480.2h0M76.5 465.5h0M79.9 484.4h0M68.3 473.0h0M72.4 475.6h0M72.5 468.9h0M75.6 459.0h0M74.1 471.7h0M82.0 463.6h0M68.8 475.0h0M71.8 467.0h0M66.8 495.4h0M69.0 487.8h0M83.2 465.6h0M74.2 479.2h0M76.2 465.6h0M74.1 465.2h0M79.2 457.6h0M75.7 462.5h0M72.3 458.7h0M72.6 472.7h0M69.5 478.8h0M69.2 479.0h0M69.5 476.2h0M74.3 485.9h0M73.2 478.3h0M75.9 473.8h0M71.9 468.0h0M68.0 473.7h0M64.1 491.8h0M73.6 472.6h0M72.7 468.6h0M76.8 459.6h0M78.8 466.6h0M71.4 478.8h0M66.5 477.9h0M79.8 449.3h0M73.8 462.5h0M81.2 452.1h0M77.6 447.0h0M69.0 480.0h0M77.0 468.3h0M75.0 466.6h0M72.1 464.2h0M73.0 464.8h0M74.3 469.5h0M75.4 470.3h0M69.8 488.8h0M71.8 473.1h0M65.2 477.7h0M78.6 472.1h0M72.1 476.9h0M77.0 465.4h0M77.5 463.1h0M70.6 466.8h0M73.2 467.7h0M74.3 470.9h0M74.8 477.7h0M72.5 473.3h0M59.9 472.6h0M73.7 467.0h0M74.3 471.8h0M80.0 467.0h0M70.0 486.7h0M85.5 465.4h0M74.9 481.6h0M74.8 481.2h0M75.5 474.9h0M65.8 475.7h0M77.2 469.5h0M72.8 478.5h0M66.7 482.3h0M71.6 481.4h0M79.9 458.0h0M71.5 470.4h0M67.8 483.9h0M72.1 471.1h0M67.4 488.5h0M78.9 451.7h0M68.7 488.6h0M68.2 463.7h0M74.2 465.3h0M61.0 484.8h0M72.5 467.6h0M78.9 461.5h0M75.0 466.5h0M73.7 468.5h0M77.2 461.4h0M79.2 471.9h0M70.5 466.4h0M75.6 474.1h0M70.2 462.7h0M67.5 481.0h0M76.8 463.2h0M67.9 475.8h0M69.2 483.5h0M77.1 468.6h0M75.7 451.7h0M76.7 461.1h0M69.5 476.5h0M69.0 461.4h0M70.5 476.1h0M69.7 471.7h0M78.1 472.4h0M60.3 495.2h0M79.8 471.8h0M66.9 481.8h0M77.0 481.6h0M68.8 488.1h0M68.4 488.4h0M72.0 482.7h0M79.6 463.9h0M84.8 455.5h0M79.0 474.1h0M76.3 459.3h0M67.5 472.6h0M55.6 488.4h0M72.2 469.4h0M77.5 467.8h0M72.6 476.6h0M74.7 468.4h0M74.1 464.9h0M67.2 479.9h0M65.9 487.0h0M73.5 474.4h0M65.9 471.4h0M74.1 476.3h0M71.9 458.9h0M79.6 452.8h0M69.0 475.1h0M74.6 463.5h0M73.2 460.0h0M71.8 462.3h0M76.5 459.9h0M67.5 474.2h0M84.8 466.9h0M79.8 449.2h0M74.0 462.0h0M68.5 477.4h0M71.7 463.5h0M69.5 454.6h0M73.6 467.2h0M71.8 478.0h0M74.0 452.9h0M67.8 484.9h0M70.8 464.4h0M72.8 471.6h0M69.3 484.8h0M79.7 459.1h0M76.0 468.3h0M65.7 483.1h0M78.6 466.2h0M69.6 475.5h0M66.4 492.4h0M72.6 479.8h0M73.0 468.2h0M71.0 462.9h0M75.8 470.5h0M69.2 469.5h0M71.7 465.2h0M68.2 472.3h0M80.8 460.0h0M73.0 469.7h0M66.2 465.3h0M77.8 466.7h0M76.0 485.7h0M76.4 481.6h0M77.3 454.3h0M74.6 468.0h0M73.6 475.2h0M77.5 469.0h0M71.1 476.7h0M70.2 467.0h0M72.9 479.7h0M76.3 469.4h0M61.7 486.6h0M77.1 456.7h0M71.8 477.4h0M66.4 488.5h0M73.9 474.6h0M74.3 476.6h0M75.5 470.6h0M67.8 483.6h0M69.8 465.4h0M90.1 433.4h0M72.7 487.1h0M81.4 470.5h0M71.6 474.8h0M73.6 469.4h0M70.6 492.9h0M73.3 485.8h0M76.1 467.0h0M75.3 472.9h0M77.0 452.9h0M72.1 479.8h0M70.7 468.5h0M84.4 440.0h0M69.4 479.5h0M67.6 480.5h0M65.3 469.0h0M69.8 470.8h0M77.6 462.9h0M73.3 470.0h0M68.4 479.1h0M75.3 469.8h0M86.3 444.1h0M81.2 459.0h0M72.4 473.0h0M68.2 480.4h0M72.4 463.6h0M66.9 471.3h0M80.6 450.6h0M73.7 460.3h0M84.3 464.9h0M73.4 469.3h0M72.0 471.6h0M72.9 467.3h0M84.9 460.1h0M71.8 464.5h0M70.9 475.0h0M75.5 456.7h0M73.3 469.2h0M72.5 472.3h0M73.6 481.5h0M65.6 475.6h0M70.2 478.3h0M75.3 459.9h0M74.6 465.2h0M68.9 472.6h0M68.0 456.7h0M74.4 466.6h0M78.6 469.1h0M61.1 497.4h0M65.4 471.5h0M76.1 466.1h0M79.9 454.3h0M84.1 453.1h0M82.0 457.4h0M67.2 483.6h0M65.3 495.6h0M68.9 462.9h0M77.0 472.7h0M77.6 461.4h0M76.3 474.3h0M77.6 470.6h0M65.7 487.2h0M74.3 466.5h0M68.0 475.1h0M67.1 464.9h0M74.4 466.4h0M73.0 472.9h0M70.4 466.6h0M75.4 472.6h0M76.4 463.5h0M76.6 466.7h0M68.0 476.3h0M64.3 475.4h0M82.9 453.8h0M74.7 473.4h0M76.6 460.7h0M73.1 466.7h0M69.6 477.2h0M69.4 479.3h0M71.6 469.5h0M66.9 466.0h0M78.3 465.9h0M62.4 483.0h0M69.3 477.4h0M71.5 472.1h0M80.5 454.6h0M57.5 494.6h0M79.0 468.4h0M73.0 478.2h0M77.5 467.9h0M75.4 478.5h0M71.6 466.5h0M68.3 450.4h0M75.6 468.1h0M79.4 468.6h0M78.6 469.1h0M68.0 478.8h0M74.9 465.5h0M73.1 474.1h0M63.2 477.7h0M70.4 471.0h0M69.8 473.1h0M81.7 465.6h0M70.5 471.1h0M76.4 479.3h0M79.0 455.9h0M71.1 458.6h0M86.1 460.9h0M72.0 463.6h0M74.7 473.5h0M77.3 478.3h0M70.0 473.8h0M72.5 459.6h0M77.2 471.7h0M67.1 487.5h0M68.5 470.2h0M63.3 485.2h0M72.3 469.2h0M71.5 485.7h0M66.8 484.7h0M75.8 471.1h0M78.5 474.6h0M70.7 491.1h0M81.2 465.4h0M86.3 450.0h0M61.2 485.2h0M84.8 453.6h0M71.3 479.3h0M70.5 476.6h0M68.4 471.9h0M61.4 484.9h0M74.4 456.0h0M75.0 466.2h0M65.7 478.0h0M69.0 473.4h0M64.6 486.9h0M73.9 476.1h0M75.8 461.0h0M65.4 489.7h0M75.9 478.0h0M72.5 469.5h0M79.4 461.1h0M74.8 455.6h0M72.3 476.9h0M70.4 479.6h0M75.5 466.9h0M69.8 474.8h0M68.1 473.4h0M76.4 459.5h0M78.3 452.7h0M77.8 470.1h0M75.4 474.8h0M71.1 463.7h0M67.4 492.6h0M71.2 471.0h0M70.3 483.5h0M81.1 445.2h0M70.7 461.8h0M77.2 471.4h0M73.8 474.2h0M58.3 496.8h0M69.2 461.3h0M77.8 453.3h0M65.8 477.7h0M74.5 463.7h0M78.2 464.6h0M71.8 490.1h0M75.6 461.0h0M83.5 458.8h0M78.1 470.6h0M71.2 471.6h0M70.3 460.8h0M69.7 489.2h0M75.5 471.3h0M85.7 463.4h0M73.0 486.8h0M79.9 461.9h0M77.3 478.3h0M60.7 492.4h0M73.3 472.9h0M68.0 481.6h0M80.5 470.5h0M70.2 484.9h0M66.5 456.1h0M74.8 481.3h0M71.3 466.4h0M73.3 478.9h0M70.0 474.3h0M78.8 459.1h0M76.2 470.1h0M72.1 476.0h0M64.5 483.7h0M82.8 461.0h0M77.5 464.2h0M71.6 475.0h0M76.6 469.9h0M66.9 481.8h0M75.6 485.0h0M70.5 480.7h0M75.8 468.2h0M75.5 468.8h0M66.8 478.3h0M71.9 462.0h0M77.1 463.4h0M75.0 470.1h0M82.1 462.2h0M73.5 475.2h0M68.7 471.3h0M76.9 467.2h0M75.9 473.0h0M79.9 464.4h0M69.1 485.4h0M74.6 454.6h0M74.0 481.5h0M69.8 472.3h0M69.4 487.1h0M70.0 462.9h0M81.0 458.9h0M74.7 459.0h0M80.3 464.1h0M72.9 490.6h0M74.0 481.5h0M67.0 474.9h0M65.9 480.3h0M74.6 458.3h0M76.2 470.4h0M74.2 472.3h0M75.6 466.5h0M70.2 482.2h0M71.4 482.1h0M71.7 481.9h0M81.1 468.5h0M74.3 467.8h0M76.2 465.6h0M70.9 457.4h0M62.8 484.3h0M68.3 476.6h0M69.4 468.3h0M68.3 486.3h0M74.5 478.6h0M75.7 460.0h0M75.9 459.0h0M75.7 459.3h0M73.7 471.2h0M70.2 473.0h0M79.0 460.5h0M72.6 475.9h0M75.6 468.3h0M81.2 458.3h0M71.6 475.5h0M71.0 478.3h0M79.2 474.0h0M75.3 465.0h0M77.8 467.4h0M73.8 469.9h0M73.7 464.9h0M64.8 488.1h0M66.5 479.6h0M73.7 469.8h0M67.0 480.6h0M66.0 485.3h0M72.3 486.1h0M68.7 481.2h0M76.3 475.0h0M69.7 482.8h0M77.0 470.1h0M77.8 452.5h0M72.9 473.3h0M87.6 461.4h0M77.1 469.5h0M71.9 484.9h0M72.8 474.6h0M72.0 483.2h0M72.0 461.7h0M65.2 482.7h0M80.0 457.9h0M78.3 466.4h0M63.2 492.6h0M75.5 462.8h0M78.1 454.3h0M69.1 479.7h0M72.8 459.3h0M60.5 488.8h0M73.7 468.7h0M60.0 487.0h0M71.5 465.0h0M63.2 489.8h0M75.4 467.6h0M80.8 446.3h0M70.2 477.8h0M72.8 461.2h0M70.8 469.3h0M73.4 475.6h0M76.8 465.4h0M78.0 453.2h0M69.1 485.2h0M75.9 465.7h0M74.9 468.0h0M72.7 488.9h0M78.1 453.6h0M82.4 451.1h0M70.5 482.3h0M79.2 452.5h0M69.0 469.3h0M74.7 474.2h0M80.0 455.7h0M74.0 469.1h0M74.3 468.0h0M79.2 455.2h0M75.0 456.4h0M77.6 462.3h0M60.7 484.0h0M66.3 488.3h0M72.2 457.3h0M67.8 480.9h0M76.0 470.8h0M67.5 482.6h0M70.4 472.8h0M69.4 485.9h0M78.6 453.6h0M67.2 481.8h0M70.9 472.2h0M77.4 475.5h0M80.1 459.4h0M68.7 487.3h0M68.5 470.2h0M74.1 474.5h0M70.4 464.0h0M76.5 467.0h0M66.9 474.9h0M80.7 471.5h0M65.3 473.2h0M79.1 468.1h0M75.2 473.6h0M63.8 476.0h0M71.8 471.4h0M79.4 469.5h0M86.2 448.6h0M64.9 474.4h0M72.2 467.4h0M74.6 454.1h0M60.6 492.3h0M63.3 489.3h0M74.4 486.7h0M72.8 472.8h0M82.0 444.9h0M73.2 466.8h0M80.1 459.4h0M74.3 474.7h0M59.4 496.6h0M73.1 459.0h0M72.6 469.1h0M69.0 486.0h0M83.4 461.7h0M65.2 487.5h0M78.5 459.6h0M83.4 457.6h0M71.8 480.5h0M72.2 484.8h0M79.9 463.8h0M69.2 483.5h0M78.6 463.0h0M71.1 485.5h0M76.0 462.7h0M78.8 472.6h0M63.9 473.4h0M65.8 479.8h0M78.9 470.8h0M66.5 492.3h0M69.3 473.5h0M72.5 476.2h0M79.4 465.6h0M65.6 484.1h0M82.6 454.1h0M71.1 474.6h0M67.7 483.5h0M78.2 456.4h0M83.6 455.1h0M68.0 471.9h0M67.8 480.5h0M75.2 472.1h0M65.6 477.2h0M65.9 472.6h0M81.2 455.5h0M74.4 467.2h0M72.9 469.7h0M74.7 467.9h0M69.1 470.7h0M86.6 466.3h0M72.9 460.6h0M69.7 474.8h0M68.2 468.3h0M81.2 444.9h0M79.9 469.0h0M72.1 473.4h0M83.3 450.2h0M71.1 470.7h0M74.7 485.7h0M76.1 464.4h0M64.6 479.4h0M73.5 477.8h0M72.8 467.4h0M74.4 473.6h0M70.1 479.8h0M71.4 477.7h0M70.8 478.0h0M74.4 457.7h0M64.5 477.1h0M73.9 478.9h0M80.7 449.3h0M71.5 477.7h0M77.3 454.8h0M71.0 454.5h0M67.6 471.3h0M71.9 488.6h0M71.9 465.5h0M74.2 463.7h0M71.6 459.0h0M71.2 469.9h0M76.4 458.0h0M77.7 456.2h0M68.2 482.6h0M76.4 455.2h0M71.4 468.8h0M70.4 477.5h0M72.6 475.3h0M80.0 451.1h0M83.0 463.2h0M66.1 490.9h0M73.7 470.7h0M69.9 472.0h0M75.7 474.7h0M67.0 475.5h0M61.0 484.8h0M72.8 460.8h0M71.1 482.3h0M67.2 473.8h0M74.9 479.6h0M69.7 479.2h0M70.4 461.4h0M73.5 467.0h0M76.3 481.1h0M65.8 480.4h0M66.2 474.7h0M78.6 461.7h0M77.9 471.8h0M77.3 470.3h0M70.2 474.5h0M72.3 474.4h0M74.8 469.5h0M69.3 492.8h0M87.0 457.0h0M69.1 479.7h0M75.0 479.3h0M77.0 456.6h0M75.8 469.8h0M69.6 469.7h0M67.6 476.6h0M67.8 488.7h0M70.3 468.2h0M80.8 459.8h0M67.1 480.3h0M78.6 456.9h0M67.8 483.4h0M68.5 478.8h0M75.3 466.1h0M76.6 472.9h0M86.6 468.2h0M65.5 477.7h0M69.6 482.9h0M64.4 491.2h0M64.5 483.1h0M69.3 483.3h0M63.7 485.5h0M73.7 468.0h0M74.4 480.2h0M57.4 490.0h0M83.9 445.1h0M70.9 481.0h0M64.2 483.6h0M79.7 458.8h0M78.8 459.4h0M66.8 483.3h0M71.0 488.9h0M64.0 480.4h0M79.7 460.2h0M70.6 474.4h0M65.7 478.6h0M72.0 471.5h0M76.5 458.0h0M69.9 487.4h0M65.9 473.5h0M66.4 486.0h0M80.1 447.5h0M85.8 454.0h0M72.7 459.7h0M75.9 474.3h0M69.2 461.9h0M65.3 494.4h0M73.4 468.2h0M68.6 486.3h0M64.8 484.7h0M62.9 476.3h0M65.8 473.1h0M79.7 467.0h0M76.4 464.2h0M70.7 467.4h0M72.0 482.8h0M72.9 463.1h0M69.6 471.7h0M73.3 457.1h0M73.1 482.8h0M67.3 475.2h0M82.6 448.7h0M78.1 467.7h0M79.4 476.3h0M67.8 458.6h0M75.3 466.2h0M76.9 467.3h0M65.3 474.9h0M74.4 471.1h0M74.2 469.5h0M72.6 479.3h0M66.0 482.6h0M74.7 470.4h0M74.5 460.2h0M77.5 465.2h0M75.3 466.3h0M73.4 465.4h0M78.3 441.7h0M79.6 470.8h0M80.9 461.7h0M83.8 451.6h0M70.5 469.9h0M72.5 468.1h0M82.9 462.4h0M82.3 454.3h0M70.9 466.8h0M74.3 467.5h0M73.5 470.6h0M67.0 484.0h0M73.9 458.1h0M76.1 475.8h0M67.7 490.6h0M71.4 472.7h0M60.0 487.8h0M66.5 481.4h0M72.8 471.1h0M72.0 482.4h0M75.8 459.3h0M70.6 488.6h0M74.3 468.7h0M72.4 464.3h0M68.8 451.8h0M72.4 459.8h0M68.4 466.8h0M72.5 470.2h0M73.7 472.4h0M82.4 461.0h0M70.0 478.3h0M70.8 464.1h0M80.7 475.5h0M74.9 469.1h0M70.8 473.7h0M80.6 448.0h0M65.3 476.5h0M76.1 469.4h0M75.2 468.8h0M80.9 466.9h0M78.6 467.9h0M77.6 467.9h0M81.3 462.5h0M65.6 487.1h0M71.3 470.6h0M67.5 484.5h0M69.4 467.1h0M67.4 483.8h0M67.7 481.1h0M74.9 472.8h0M78.5 456.3h0M68.4 462.5h0M74.2 468.1h0M83.6 458.1h0M62.4 478.9h0M61.5 492.7h0M71.2 475.9h0M67.0 472.5h0M76.0 457.3h0M81.9 448.4h0M62.7 483.8h0M84.1 445.1h0M80.8 455.0h0M71.8 460.6h0M74.5 467.4h0M86.7 446.7h0M72.6 470.2h0M72.5 477.0h0M75.7 470.7h0M66.4 485.7h0M78.3 467.6h0M73.8 473.0h0M70.8 466.4h0M76.2 468.1h0M71.6 483.8h0M81.2 458.3h0M66.5 481.3h0M78.2 462.4h0M71.2 490.3h0M75.3 467.6h0M73.8 481.7h0M77.7 472.6h0M70.1 478.2h0M66.3 495.6h0M67.3 482.9h0M77.0 472.0h0M75.2 464.5h0M65.0 486.3h0M64.1 494.1h0M69.1 480.6h0M73.5 474.1h0M72.0 478.7h0M65.5 478.4h0M74.2 461.3h0M78.2 461.4h0M77.7 464.0h0M69.4 481.5h0M82.6 474.1h0M76.2 474.9h0M66.8 486.5h0M79.2 462.8h0M78.1 472.2h0M72.3 477.0h0M72.7 453.7h0M76.5 463.3h0M76.7 462.2h0M85.5 461.3h0M69.5 461.1h0M73.3 487.0h0M70.9 475.3h0M80.5 461.8h0M68.9 479.2h0M73.8 471.2h0M87.6 454.0h0M79.1 462.4h0M84.2 452.9h0M77.3 463.4h0M82.4 470.6h0M76.4 464.6h0M75.4 467.6h0M80.3 465.6h0M85.2 449.5h0M72.3 474.3h0M59.5 472.9h0M82.0 465.3h0M88.2 447.1h0M87.1 454.7h0M89.6 452.6h0M77.8 446.4h0M88.5 478.3h0M81.8 463.4h0M66.2 489.6h0M67.8 464.2h0M87.1 460.2h0M73.8 480.0h0M67.0 482.4h0M74.5 477.1h0M88.5 466.0h0M85.6 452.1h0M90.8 437.0h0M95.8 454.8h0M73.6 479.3h0M66.8 485.5h0M93.6 469.8h0M87.8 454.6h0M70.9 478.8h0M79.4 469.8h0M76.4 467.1h0M82.3 464.4h0M80.8 466.2h0M80.6 457.1h0M85.7 453.2h0M83.0 464.2h0M87.2 458.0h0M95.3 446.9h0M79.3 475.9h0M76.4 474.5h0M86.6 460.6h0M89.6 445.2h0M80.7 461.4h0M92.6 456.7h0M69.1 460.6h0M88.1 456.2h0M93.7 479.4h0M75.3 451.6h0M91.0 464.6h0M74.2 454.5h0M90.6 451.7h0M95.4 458.5h0M85.2 473.7h0M81.3 452.3h0M64.6 475.4h0M79.1 449.6h0M100.2 439.6h0M81.9 457.1h0M83.8 458.5h0M82.6 463.5h0M87.7 456.6h0M81.1 469.1h0M85.3 457.2h0M71.1 460.7h0M86.0 471.6h0M67.5 453.4h0M86.9 467.4h0M68.0 477.5h0M91.7 442.8h0M79.0 460.1h0M69.4 477.8h0M86.9 452.7h0M79.3 462.4h0M76.4 457.6h0M89.3 458.9h0M72.9 469.6h0M71.1 494.8h0M79.6 463.4h0M78.6 458.5h0M88.8 454.8h0M81.2 472.8h0M74.6 462.6h0M81.7 458.3h0M86.5 470.3h0M74.4 462.2h0M78.0 457.9h0M76.1 472.8h0M83.6 444.2h0M63.0 464.0h0M72.5 457.4h0M81.0 467.2h0M80.3 471.6h0M87.0 459.7h0M88.6 454.6h0M82.8 445.4h0M87.7 459.6h0M84.3 470.7h0M82.2 452.7h0M77.5 479.5h0M79.3 461.4h0M84.8 458.6h0M86.0 458.8h0M66.7 469.3h0M79.9 481.7h0M85.9 444.7h0M77.4 467.6h0M69.0 477.1h0M76.2 476.2h0M83.1 464.3h0M87.6 452.1h0M88.1 467.5h0M89.0 452.7h0M80.0 459.8h0M68.6 449.8h0M84.9 453.0h0M77.1 465.9h0M77.9 457.7h0M74.1 464.2h0M80.2 471.1h0M89.8 460.3h0M85.8 476.9h0M87.0 466.1h0M72.6 468.6h0M81.5 465.0h0M70.7 464.1h0M90.6 455.3h0M83.0 463.7h0M78.0 460.8h0M89.4 447.5h0M62.9 490.0h0M71.0 472.0h0M71.8 493.4h0M96.5 473.2h0M87.3 462.0h0M89.6 460.8h0M82.9 461.6h0M73.8 470.8h0M101.7 453.9h0M80.3 459.7h0M81.0 467.4h0M73.5 473.9h0M85.9 461.6h0M77.4 468.2h0M80.9 469.8h0M75.1 457.9h0M81.1 461.4h0M82.8 475.8h0M82.2 448.8h0M71.3 471.2h0M81.1 478.6h0M84.2 462.2h0M86.6 466.0h0M69.3 456.3h0M78.8 468.2h0M74.0 459.5h0M70.0 464.9h0M73.1 480.7h0M90.6 460.6h0M66.9 468.8h0M73.3 462.7h0M81.5 455.2h0M79.8 463.3h0M89.0 434.0h0M84.0 484.1h0M79.1 472.8h0M78.9 462.0h0M85.3 449.5h0M90.9 473.5h0M83.7 484.4h0M84.2 451.7h0M76.8 473.7h0M85.6 469.7h0M79.1 452.0h0M73.4 468.5h0M84.6 472.4h0M79.4 457.2h0M76.8 464.6h0M74.9 457.1h0M70.9 470.6h0M83.1 467.2h0M69.8 471.7h0M64.6 474.6h0M86.9 445.5h0M91.9 465.2h0M86.3 455.9h0M71.8 471.4h0M80.8 464.8h0M81.3 467.3h0M72.7 477.8h0M73.9 453.2h0M77.6 471.7h0M77.9 465.3h0M75.9 480.9h0M78.7 450.4h0M89.8 460.1h0M79.7 458.8h0M66.1 467.3h0M83.9 473.2h0M84.3 450.9h0M80.4 467.8h0M80.7 461.0h0M86.5 466.1h0M79.4 478.0h0M94.5 453.1h0M72.5 484.9h0M72.9 456.8h0M70.8 459.6h0M71.9 479.8h0M77.0 457.9h0M85.4 460.5h0M81.2 464.0h0M68.0 467.4h0M77.2 456.5h0M80.5 449.9h0M76.7 459.1h0M88.7 447.1h0M88.4 458.0h0M91.3 460.9h0M82.9 447.8h0M73.3 468.4h0M85.1 473.7h0M87.6 461.9h0M84.2 459.8h0M76.4 442.4h0M81.3 450.0h0M81.8 462.8h0M84.6 446.2h0M108.1 461.5h0M90.8 436.9h0M92.5 459.4h0M80.0 466.6h0M80.5 464.4h0M83.9 470.9h0M84.3 450.2h0M87.8 474.2h0M93.4 474.6h0M92.1 449.1h0M99.1 452.8h0M77.7 454.8h0M91.9 459.8h0M92.1 461.7h0M104.4 437.6h0M88.0 465.4h0M92.9 457.7h0M82.5 450.7h0M93.8 468.6h0M93.6 456.8h0M84.3 470.3h0M86.0 464.8h0M89.7 457.1h0M95.2 470.6h0M79.5 467.3h0M98.0 455.4h0M86.9 445.3h0M107.2 455.0h0M103.3 465.6h0M86.3 457.8h0M84.3 476.0h0M112.3 462.3h0M95.7 461.7h0M95.1 463.6h0M86.1 451.9h0M88.8 458.8h0M97.3 454.0h0M95.6 438.6h0M82.4 443.8h0M101.3 466.6h0M92.8 455.9h0M81.3 458.8h0M99.0 446.5h0M88.4 454.6h0M97.1 467.1h0M84.9 460.8h0M93.3 455.2h0M75.2 473.8h0M93.4 459.4h0" stroke="#222" stroke-opacity="0.42" stroke-width="0.85" stroke-linecap="round" fill="none"/>
<rect x="50.3" y="427.4" width="73.6" height="71.4" fill="none" stroke="#555" stroke-width="0.8"/>
<line x1="50.3" y1="427.4" x2="50.3" y2="498.8" stroke="#666" stroke-width="0.9"/>
<line x1="50.3" y1="498.8" x2="123.9" y2="498.8" stroke="#666" stroke-width="0.9"/>
<rect x="58.6" y="439.5" width="53" height="41.9" fill="none" stroke="#999" stroke-width="0.7"/>
<line x1="48.3" y1="498.8" x2="50.3" y2="498.8" stroke="#555" stroke-width="0.6"/>
<line x1="49.3" y1="493.43" x2="50.3" y2="493.43" stroke="#555" stroke-width="0.6"/>
<line x1="49.3" y1="490.28" x2="50.3" y2="490.28" stroke="#555" stroke-width="0.6"/>
<line x1="49.3" y1="488.05" x2="50.3" y2="488.05" stroke="#555" stroke-width="0.6"/>
<line x1="49.3" y1="486.32" x2="50.3" y2="486.32" stroke="#555" stroke-width="0.6"/>
<line x1="49.3" y1="484.91" x2="50.3" y2="484.91" stroke="#555" stroke-width="0.6"/>
<line x1="49.3" y1="483.71" x2="50.3" y2="483.71" stroke="#555" stroke-width="0.6"/>
<line x1="49.3" y1="482.68" x2="50.3" y2="482.68" stroke="#555" stroke-width="0.6"/>
<line x1="49.3" y1="481.77" x2="50.3" y2="481.77" stroke="#555" stroke-width="0.6"/>
<line x1="48.3" y1="480.95" x2="50.3" y2="480.95" stroke="#555" stroke-width="0.6"/>
<line x1="49.3" y1="475.58" x2="50.3" y2="475.58" stroke="#555" stroke-width="0.6"/>
<line x1="49.3" y1="472.43" x2="50.3" y2="472.43" stroke="#555" stroke-width="0.6"/>
<line x1="49.3" y1="470.2" x2="50.3" y2="470.2" stroke="#555" stroke-width="0.6"/>
<line x1="49.3" y1="468.47" x2="50.3" y2="468.47" stroke="#555" stroke-width="0.6"/>
<line x1="49.3" y1="467.06" x2="50.3" y2="467.06" stroke="#555" stroke-width="0.6"/>
<line x1="49.3" y1="465.86" x2="50.3" y2="465.86" stroke="#555" stroke-width="0.6"/>
<line x1="49.3" y1="464.83" x2="50.3" y2="464.83" stroke="#555" stroke-width="0.6"/>
<line x1="49.3" y1="463.92" x2="50.3" y2="463.92" stroke="#555" stroke-width="0.6"/>
<line x1="48.3" y1="463.1" x2="50.3" y2="463.1" stroke="#555" stroke-width="0.6"/>
<line x1="49.3" y1="457.73" x2="50.3" y2="457.73" stroke="#555" stroke-width="0.6"/>
<line x1="49.3" y1="454.58" x2="50.3" y2="454.58" stroke="#555" stroke-width="0.6"/>
<line x1="49.3" y1="452.35" x2="50.3" y2="452.35" stroke="#555" stroke-width="0.6"/>
<line x1="49.3" y1="450.62" x2="50.3" y2="450.62" stroke="#555" stroke-width="0.6"/>
<line x1="49.3" y1="449.21" x2="50.3" y2="449.21" stroke="#555" stroke-width="0.6"/>
<line x1="49.3" y1="448.01" x2="50.3" y2="448.01" stroke="#555" stroke-width="0.6"/>
<line x1="49.3" y1="446.98" x2="50.3" y2="446.98" stroke="#555" stroke-width="0.6"/>
<line x1="49.3" y1="446.07" x2="50.3" y2="446.07" stroke="#555" stroke-width="0.6"/>
<line x1="48.3" y1="445.25" x2="50.3" y2="445.25" stroke="#555" stroke-width="0.6"/>
<line x1="49.3" y1="439.88" x2="50.3" y2="439.88" stroke="#555" stroke-width="0.6"/>
<line x1="49.3" y1="436.73" x2="50.3" y2="436.73" stroke="#555" stroke-width="0.6"/>
<line x1="49.3" y1="434.5" x2="50.3" y2="434.5" stroke="#555" stroke-width="0.6"/>
<line x1="49.3" y1="432.77" x2="50.3" y2="432.77" stroke="#555" stroke-width="0.6"/>
<line x1="49.3" y1="431.36" x2="50.3" y2="431.36" stroke="#555" stroke-width="0.6"/>
<line x1="49.3" y1="430.16" x2="50.3" y2="430.16" stroke="#555" stroke-width="0.6"/>
<line x1="49.3" y1="429.13" x2="50.3" y2="429.13" stroke="#555" stroke-width="0.6"/>
<line x1="49.3" y1="428.22" x2="50.3" y2="428.22" stroke="#555" stroke-width="0.6"/>
<line x1="48.3" y1="427.4" x2="50.3" y2="427.4" stroke="#555" stroke-width="0.6"/>
<text x="47.8" y="499.9" font-size="3.8" fill="#666" text-anchor="end">1</text>
<text x="47.8" y="482.05" font-size="3.8" fill="#666" text-anchor="end">10</text>
<text x="47.8" y="464.2" font-size="3.8" fill="#666" text-anchor="end">100</text>
<text x="47.8" y="446.35" font-size="3.8" fill="#666" text-anchor="end">1000</text>
<text x="47.8" y="428.5" font-size="3.8" fill="#666" text-anchor="end">10000</text>
<line x1="49.3" y1="498.8" x2="49.3" y2="500.8" stroke="#555" stroke-width="0.6"/>
<line x1="52.89" y1="498.8" x2="52.89" y2="499.8" stroke="#555" stroke-width="0.6"/>
<line x1="56.47" y1="498.8" x2="56.47" y2="499.8" stroke="#555" stroke-width="0.6"/>
<line x1="60.06" y1="498.8" x2="60.06" y2="499.8" stroke="#555" stroke-width="0.6"/>
<line x1="63.65" y1="498.8" x2="63.65" y2="500.8" stroke="#555" stroke-width="0.6"/>
<line x1="67.24" y1="498.8" x2="67.24" y2="499.8" stroke="#555" stroke-width="0.6"/>
<line x1="70.82" y1="498.8" x2="70.82" y2="499.8" stroke="#555" stroke-width="0.6"/>
<line x1="74.41" y1="498.8" x2="74.41" y2="499.8" stroke="#555" stroke-width="0.6"/>
<line x1="78" y1="498.8" x2="78" y2="500.8" stroke="#555" stroke-width="0.6"/>
<line x1="81.59" y1="498.8" x2="81.59" y2="499.8" stroke="#555" stroke-width="0.6"/>
<line x1="85.17" y1="498.8" x2="85.17" y2="499.8" stroke="#555" stroke-width="0.6"/>
<line x1="88.76" y1="498.8" x2="88.76" y2="499.8" stroke="#555" stroke-width="0.6"/>
<line x1="92.35" y1="498.8" x2="92.35" y2="500.8" stroke="#555" stroke-width="0.6"/>
<line x1="95.94" y1="498.8" x2="95.94" y2="499.8" stroke="#555" stroke-width="0.6"/>
<line x1="99.53" y1="498.8" x2="99.53" y2="499.8" stroke="#555" stroke-width="0.6"/>
<line x1="103.11" y1="498.8" x2="103.11" y2="499.8" stroke="#555" stroke-width="0.6"/>
<line x1="106.7" y1="498.8" x2="106.7" y2="500.8" stroke="#555" stroke-width="0.6"/>
<line x1="110.29" y1="498.8" x2="110.29" y2="499.8" stroke="#555" stroke-width="0.6"/>
<line x1="113.88" y1="498.8" x2="113.88" y2="499.8" stroke="#555" stroke-width="0.6"/>
<line x1="117.46" y1="498.8" x2="117.46" y2="499.8" stroke="#555" stroke-width="0.6"/>
<line x1="121.05" y1="498.8" x2="121.05" y2="500.8" stroke="#555" stroke-width="0.6"/>
<text x="63.6" y="504" font-size="3.8" fill="#666" text-anchor="middle">200</text>
<text x="77.95" y="504" font-size="3.8" fill="#666" text-anchor="middle">400</text>
<text x="92.3" y="504" font-size="3.8" fill="#666" text-anchor="middle">600</text>
<text x="106.65" y="504" font-size="3.8" fill="#666" text-anchor="middle">800</text>
<text x="121" y="504" font-size="3.8" fill="#666" text-anchor="middle">1000</text>
<path d="M150.2 471.0h0M159.5 462.1h0M154.9 464.0h0M152.5 463.2h0M155.3 453.8h0M145.8 483.4h0M145.3 476.4h0M148.6 485.8h0M147.1 471.0h0M156.3 461.5h0M153.5 472.4h0M156.5 467.5h0M143.4 490.8h0M151.2 469.5h0M148.2 480.8h0M158.0 452.9h0M157.9 463.4h0M154.1 461.2h0M157.0 474.2h0M162.6 468.4h0M151.2 463.5h0M150.8 475.2h0M144.9 474.7h0M152.8 473.2h0M149.8 477.8h0M147.7 476.9h0M146.1 472.6h0M147.9 478.6h0M160.5 465.8h0M149.8 489.6h0M155.3 463.1h0M146.2 476.7h0M148.5 476.6h0M142.7 483.9h0M145.5 470.8h0M146.5 472.4h0M153.5 469.9h0M149.6 476.9h0M151.6 470.3h0M154.1 450.9h0M147.5 465.0h0M151.8 478.3h0M153.2 460.8h0M154.1 473.9h0M150.4 464.0h0M156.3 466.0h0M149.9 475.4h0M141.5 490.3h0M147.8 474.1h0M159.3 467.9h0M152.3 476.2h0M151.5 466.2h0M155.0 461.2h0M143.2 474.6h0M161.3 460.6h0M161.7 456.2h0M153.5 459.4h0M156.8 459.7h0M145.6 456.2h0M162.8 449.2h0M152.9 469.7h0M151.5 471.4h0M155.8 465.9h0M148.0 480.8h0M141.2 485.7h0M144.7 479.2h0M151.4 467.0h0M155.5 467.3h0M144.6 486.8h0M140.8 489.5h0M150.5 474.7h0M145.6 471.3h0M157.3 474.2h0M154.2 464.5h0M152.0 457.1h0M152.0 468.8h0M156.5 466.1h0M148.0 482.9h0M152.7 485.7h0M146.6 466.7h0M158.5 466.2h0M153.3 463.5h0M155.8 466.1h0M159.4 465.2h0M149.6 461.1h0M138.8 487.2h0M146.3 478.0h0M146.7 464.2h0M146.0 462.3h0M144.8 486.6h0M159.1 460.5h0M147.2 474.9h0M151.3 474.0h0M164.0 473.0h0M154.6 463.7h0M143.8 485.3h0M153.9 460.6h0M152.3 470.8h0M146.5 478.6h0M151.8 474.7h0M142.6 493.7h0M151.1 478.9h0M151.8 469.3h0M147.5 478.2h0M146.1 473.2h0M145.3 470.7h0M149.8 470.1h0M153.2 460.0h0M151.4 471.6h0M149.3 473.6h0M151.3 465.0h0M166.4 452.6h0M150.3 474.9h0M156.7 467.3h0M140.9 485.9h0M159.3 458.5h0M157.1 465.8h0M157.3 457.9h0M147.3 470.5h0M150.7 483.4h0M151.6 461.0h0M148.3 461.3h0M141.6 477.8h0M144.9 486.2h0M150.6 465.8h0M152.6 473.8h0M163.1 445.1h0M152.7 479.1h0M149.6 476.9h0M150.5 472.3h0M144.0 488.1h0M144.4 479.1h0M154.2 453.0h0M147.5 471.4h0M148.9 477.6h0M142.6 483.0h0M152.5 464.9h0M156.8 465.6h0M143.4 465.3h0M146.0 473.9h0M148.3 466.6h0M151.9 467.1h0M142.7 476.0h0M150.6 463.7h0M149.9 495.7h0M140.7 482.4h0M148.9 474.0h0M150.7 472.4h0M144.8 482.5h0M147.7 466.0h0M157.9 461.4h0M145.7 463.8h0M148.0 467.4h0M152.9 462.2h0M149.8 466.0h0M149.8 484.2h0M148.5 472.6h0M161.8 460.1h0M145.8 482.6h0M155.7 472.3h0M150.2 475.5h0M145.9 479.8h0M145.3 480.9h0M154.1 471.2h0M149.6 466.9h0M151.3 467.7h0M141.8 484.7h0M142.1 471.2h0M153.4 468.0h0M156.1 462.0h0M148.8 462.4h0M155.1 463.0h0M153.7 459.3h0M147.0 459.9h0M143.8 478.0h0M152.7 471.1h0M150.9 479.5h0M142.1 495.8h0M153.0 491.8h0M159.6 449.9h0M143.3 481.4h0M136.4 492.0h0M153.0 478.8h0M154.6 454.7h0M148.8 470.9h0M149.1 465.7h0M146.5 472.6h0M148.7 471.3h0M156.9 458.5h0M155.3 463.5h0M151.2 472.3h0M157.1 463.0h0M153.0 459.3h0M146.1 471.9h0M151.3 468.1h0M144.4 465.7h0M150.7 478.9h0M156.7 459.8h0M151.6 473.4h0M144.3 475.9h0M142.2 487.5h0M145.5 484.0h0M153.0 454.0h0M142.3 481.3h0M151.4 466.3h0M149.5 474.9h0M150.2 464.9h0M156.3 466.1h0M154.9 481.8h0M151.3 474.7h0M150.2 469.7h0M149.8 469.4h0M155.8 473.4h0M150.3 474.6h0M155.0 465.3h0M156.4 457.8h0M150.7 464.7h0M152.7 480.6h0M151.2 466.6h0M151.2 470.6h0M145.0 463.5h0M165.1 454.9h0M152.2 474.2h0M150.1 471.0h0M144.3 479.1h0M147.3 473.2h0M142.4 474.6h0M158.3 455.2h0M148.7 466.7h0M149.6 477.4h0M159.6 451.8h0M151.7 487.1h0M154.6 462.4h0M155.5 460.9h0M154.4 465.8h0M147.4 472.9h0M149.2 472.0h0M150.3 475.0h0M157.5 464.4h0M143.9 495.9h0M147.6 475.9h0M155.3 471.0h0M147.0 476.5h0M138.3 487.7h0M154.9 475.6h0M147.7 478.8h0M152.2 462.2h0M152.1 455.1h0M149.5 469.8h0M148.7 493.1h0M149.7 473.0h0M154.6 483.4h0M153.5 464.1h0M161.2 455.2h0M152.1 467.9h0M157.2 449.6h0M155.3 455.0h0M152.6 463.6h0M143.3 478.4h0M147.4 467.3h0M146.7 485.3h0M159.5 460.9h0M152.2 468.9h0M156.9 455.8h0M149.4 465.6h0M147.5 491.1h0M157.4 464.4h0M151.1 458.6h0M158.2 452.6h0M146.4 479.2h0M142.7 477.1h0M157.1 471.0h0M151.2 482.0h0M147.0 484.2h0M151.8 482.7h0M159.9 442.4h0M149.8 476.6h0M151.9 482.0h0M148.5 474.1h0M152.3 470.4h0M153.1 455.5h0M157.1 461.2h0M158.2 463.5h0M148.1 468.3h0M149.1 467.4h0M148.4 476.5h0M150.0 487.3h0M157.5 448.5h0M146.5 473.7h0M154.8 459.5h0M153.7 474.8h0M145.6 469.0h0M149.9 471.4h0M150.1 485.9h0M150.7 470.9h0M151.6 465.8h0M157.2 462.7h0M148.9 463.5h0M162.0 462.3h0M153.8 467.7h0M149.7 469.7h0M143.5 490.4h0M148.6 475.6h0M156.1 453.8h0M147.3 467.3h0M153.2 461.7h0M144.3 470.1h0M152.9 478.9h0M155.2 447.7h0M149.8 465.5h0M154.1 453.8h0M155.4 465.6h0M149.0 472.9h0M146.8 495.1h0M149.7 468.6h0M145.2 486.4h0M141.9 492.9h0M154.6 457.0h0M157.4 464.2h0M157.5 465.2h0M155.4 471.4h0M146.0 468.8h0M153.7 466.3h0M147.6 467.1h0M147.2 468.0h0M147.7 460.2h0M137.9 494.2h0M156.3 461.8h0M153.0 478.5h0M160.0 463.7h0M152.4 457.0h0M145.4 478.1h0M154.7 462.5h0M154.3 462.5h0M148.6 478.0h0M142.7 473.8h0M150.4 469.2h0M143.8 494.4h0M149.7 475.7h0M150.9 468.7h0M146.3 474.5h0M143.9 487.2h0M154.4 477.0h0M158.2 456.0h0M159.3 458.6h0M155.6 474.3h0M143.7 477.8h0M152.7 471.9h0M152.1 471.4h0M152.3 479.6h0M148.4 474.1h0M152.2 464.2h0M152.0 460.5h0M141.5 496.2h0M153.4 460.5h0M150.5 469.3h0M156.1 459.5h0M149.1 470.6h0M149.0 465.2h0M155.5 453.5h0M158.1 455.1h0M155.3 470.6h0M142.1 489.2h0M131.7 495.2h0M153.6 468.5h0M146.1 481.4h0M151.2 459.4h0M150.4 468.4h0M156.1 474.7h0M149.3 458.8h0M147.2 467.4h0M153.1 463.2h0M143.2 458.4h0M150.1 467.0h0M156.8 464.1h0M155.3 463.5h0M146.2 485.5h0M148.2 473.3h0M149.3 472.0h0M158.1 478.4h0M144.9 487.5h0M152.7 478.5h0M147.5 465.8h0M152.0 469.3h0M157.6 455.8h0M148.5 477.4h0M141.4 472.6h0M146.7 476.3h0M154.0 476.1h0M149.8 477.9h0M140.4 489.1h0M154.7 468.5h0M148.0 458.4h0M156.7 460.2h0M147.2 482.6h0M147.5 472.1h0M154.2 450.6h0M144.3 469.9h0M151.0 467.1h0M155.6 474.7h0M157.2 461.7h0M155.6 461.5h0M162.6 448.2h0M150.3 465.0h0M153.9 467.0h0M135.8 479.6h0M147.1 474.5h0M146.0 477.5h0M148.8 474.2h0M144.6 484.2h0M157.1 459.2h0M144.1 480.9h0M154.5 469.3h0M144.5 483.5h0M154.6 468.5h0M157.2 454.0h0M149.9 480.4h0M153.3 467.8h0M148.0 470.8h0M152.0 468.2h0M147.6 464.9h0M147.9 477.5h0M150.8 473.2h0M147.0 476.6h0M146.5 479.2h0M148.7 484.8h0M158.1 462.6h0M152.1 480.3h0M151.0 463.3h0M151.0 464.7h0M149.0 482.2h0M157.4 461.3h0M140.8 477.4h0M159.4 467.0h0M159.9 457.4h0M143.3 476.7h0M150.5 481.9h0M145.2 480.1h0M158.9 447.2h0M145.5 473.5h0M142.6 482.9h0M152.2 462.1h0M149.9 472.9h0M146.5 469.9h0M146.2 481.1h0M139.2 492.9h0M145.7 477.8h0M143.2 480.6h0M141.8 486.9h0M151.4 484.3h0M141.1 478.7h0M149.1 461.1h0M152.8 463.7h0M150.7 465.1h0M144.7 475.2h0M146.7 484.5h0M147.5 466.5h0M152.1 466.3h0M157.4 462.0h0M152.1 472.1h0M148.8 472.0h0M151.5 467.9h0M147.2 480.8h0M149.1 480.1h0M149.6 463.2h0M149.6 485.6h0M152.5 472.8h0M159.6 465.4h0M154.0 469.7h0M155.4 467.9h0M136.0 478.6h0M148.3 471.7h0M155.5 476.2h0M154.0 465.3h0M150.4 466.1h0M152.8 471.5h0M158.1 451.5h0M153.8 465.8h0M146.8 472.9h0M149.7 477.8h0M155.3 473.1h0M148.9 477.0h0M158.3 454.6h0M150.3 464.0h0M150.8 474.6h0M146.4 476.9h0M141.6 480.0h0M147.9 473.0h0M154.8 456.9h0M155.6 462.8h0M153.4 472.5h0M150.3 469.0h0M141.8 489.3h0M155.6 463.7h0M146.5 471.7h0M154.7 456.1h0M148.9 472.1h0M148.0 475.4h0M149.3 467.6h0M153.4 479.2h0M159.0 458.0h0M151.0 467.4h0M147.1 464.9h0M150.1 466.4h0M151.1 474.9h0M145.8 463.0h0M159.5 471.9h0M157.2 452.3h0M150.6 469.7h0M154.1 467.4h0M143.9 473.2h0M149.3 474.3h0M149.3 473.4h0M158.1 457.9h0M147.5 468.1h0M156.6 461.0h0M153.6 474.3h0M150.2 474.2h0M141.2 489.1h0M151.1 460.4h0M152.8 446.6h0M147.9 471.6h0M158.0 455.9h0M159.1 463.2h0M151.5 478.3h0M157.8 463.7h0M145.6 478.5h0M148.1 472.5h0M150.4 455.4h0M149.1 467.4h0M142.3 480.5h0M155.5 455.1h0M148.7 482.1h0M149.7 471.4h0M148.3 473.0h0M152.4 472.5h0M152.5 480.6h0M147.9 488.1h0M152.3 448.7h0M152.9 481.9h0M145.8 478.4h0M136.3 493.1h0M149.9 468.6h0M159.2 458.0h0M147.3 452.1h0M166.0 443.2h0M157.4 454.8h0M154.3 466.4h0M146.3 467.8h0M154.6 454.4h0M146.8 468.8h0M155.5 469.3h0M144.4 478.7h0M152.4 469.3h0M156.3 448.7h0M144.9 468.4h0M155.3 466.9h0M145.3 496.1h0M161.2 458.0h0M150.4 465.3h0M156.5 455.5h0M154.0 468.4h0M148.5 479.1h0M146.1 484.3h0M160.6 467.9h0M149.2 469.8h0M149.8 481.3h0M148.6 470.2h0M152.9 478.7h0M152.5 462.7h0M145.6 473.4h0M148.2 484.0h0M150.3 471.5h0M147.0 475.9h0M155.5 455.3h0M146.5 474.7h0M147.0 485.0h0M151.3 471.9h0M155.0 475.8h0M149.1 467.4h0M156.0 470.8h0M148.1 482.5h0M145.3 469.9h0M154.9 474.3h0M139.5 481.3h0M149.7 477.9h0M144.7 466.9h0M144.9 488.1h0M144.7 482.1h0M147.4 476.0h0M143.3 470.1h0M149.6 465.4h0M148.8 487.2h0M153.4 469.5h0M152.4 465.3h0M155.8 455.8h0M146.3 475.3h0M151.5 483.1h0M144.0 487.6h0M156.1 467.6h0M150.3 456.7h0M142.3 476.9h0M156.6 469.1h0M150.7 461.8h0M153.4 461.7h0M150.4 476.4h0M156.1 466.1h0M152.4 472.8h0M148.7 481.8h0M157.1 470.7h0M152.9 467.8h0M149.9 482.1h0M152.6 466.5h0M159.1 450.7h0M151.2 488.8h0M152.6 463.4h0M145.8 458.2h0M151.2 470.5h0M152.7 467.8h0M155.9 476.0h0M154.8 456.5h0M143.1 479.1h0M150.6 472.5h0M149.3 493.3h0M150.7 467.3h0M156.4 468.9h0M145.7 489.0h0M149.3 481.0h0M149.6 465.3h0M148.8 476.4h0M142.9 482.7h0M140.6 497.0h0M149.4 466.9h0M161.7 453.0h0M146.7 475.5h0M151.2 466.7h0M144.3 464.3h0M146.5 471.1h0M158.9 473.7h0M149.3 469.8h0M141.3 478.3h0M159.9 445.8h0M160.1 443.3h0M149.7 467.6h0M156.2 452.7h0M145.3 479.3h0M152.4 475.0h0M150.5 458.3h0M146.3 483.6h0M147.9 485.9h0M148.5 466.8h0M150.0 494.7h0M157.1 453.8h0M152.8 463.5h0M149.3 468.1h0M155.5 465.4h0M141.2 478.5h0M148.5 481.6h0M161.1 465.4h0M155.2 461.9h0M153.7 470.7h0M147.1 470.4h0M150.9 477.6h0M153.3 455.7h0M143.1 485.7h0M147.1 479.9h0M154.8 479.1h0M142.5 486.0h0M138.7 482.1h0M146.9 481.8h0M157.1 461.7h0M159.9 453.4h0M152.7 467.7h0M148.8 489.5h0M151.2 478.4h0M152.9 473.5h0M148.1 473.3h0M144.2 473.0h0M158.2 467.9h0M140.0 489.9h0M152.7 478.6h0M155.5 470.4h0M149.5 462.2h0M149.6 467.2h0M152.2 471.3h0M153.5 473.7h0M144.9 476.5h0M150.1 469.6h0M146.5 471.6h0M143.9 476.5h0M155.8 458.6h0M153.8 458.0h0M142.4 471.9h0M154.6 464.9h0M154.2 457.9h0M150.5 467.4h0M146.8 467.6h0M155.2 466.5h0M145.3 488.0h0M146.2 485.7h0M152.6 465.2h0M153.1 468.2h0M161.6 458.6h0M149.4 475.9h0M155.9 459.6h0M153.4 459.1h0M160.8 451.2h0M146.8 478.5h0M146.9 473.2h0M155.7 469.2h0M151.3 467.6h0M143.9 479.6h0M146.2 475.4h0M143.9 483.2h0M156.3 445.4h0M155.5 473.1h0M152.8 471.4h0M143.8 475.0h0M154.9 471.8h0M152.7 461.9h0M150.4 474.3h0M149.4 470.3h0M160.8 448.8h0M155.8 461.5h0M154.3 469.1h0M152.0 475.9h0M142.0 467.4h0M146.1 477.5h0M151.7 467.7h0M147.3 477.1h0M142.8 476.1h0M147.7 474.2h0M145.7 481.3h0M144.3 465.9h0M157.4 443.7h0M150.4 478.0h0M141.3 486.7h0M153.5 460.7h0M149.9 471.8h0M159.7 451.2h0M154.2 467.9h0M157.5 462.7h0M147.6 479.1h0M144.7 487.6h0M149.1 472.8h0M153.6 464.6h0M146.5 479.9h0M146.5 488.5h0M150.3 478.3h0M143.8 474.1h0M141.3 471.8h0M151.5 472.3h0M157.8 446.2h0M145.1 469.2h0M151.4 477.8h0M151.0 484.6h0M149.4 461.9h0M140.7 486.5h0M153.5 455.9h0M147.4 470.6h0M143.8 486.8h0M147.0 468.2h0M149.5 472.8h0M153.5 458.5h0M147.7 488.3h0M150.5 469.4h0M153.0 473.0h0M158.7 464.2h0M147.3 484.0h0M149.1 480.5h0M156.1 450.9h0M152.2 466.0h0M151.9 489.8h0M155.9 470.1h0M147.0 479.8h0M145.9 478.2h0M144.7 484.0h0M157.5 463.0h0M140.9 474.5h0M151.6 470.0h0M145.8 469.2h0M148.8 489.1h0M142.2 477.5h0M156.1 465.0h0M142.8 487.4h0M151.0 469.2h0M155.2 474.9h0M152.5 465.1h0M155.0 465.6h0M154.5 463.8h0M146.3 469.6h0M150.9 469.0h0M150.6 480.2h0M149.1 477.7h0M154.2 462.7h0M145.3 476.8h0M159.3 463.2h0M152.1 460.7h0M153.0 482.1h0M152.9 466.1h0M149.3 480.9h0M146.6 466.3h0M147.4 479.7h0M148.2 466.9h0M151.1 470.0h0M150.1 483.8h0M159.4 451.0h0M154.8 462.0h0M147.2 489.2h0M147.5 466.4h0M148.9 476.0h0M156.2 449.7h0M153.7 473.5h0M149.4 466.5h0M155.0 475.4h0M159.7 467.6h0M141.0 474.2h0M146.2 480.5h0M143.0 474.5h0M152.9 477.4h0M149.9 463.9h0M152.8 471.4h0M149.7 476.4h0M145.6 474.4h0M141.6 478.8h0M154.7 471.6h0M140.3 491.5h0M150.4 474.0h0M159.9 461.1h0M148.9 475.1h0M146.8 477.7h0M147.1 469.6h0M148.3 481.5h0M144.6 478.1h0M147.3 462.2h0M145.9 477.1h0M155.9 450.5h0M147.0 463.7h0M149.1 472.1h0M150.7 478.8h0M151.3 474.7h0M148.3 497.3h0M155.2 470.3h0M154.8 462.6h0M145.7 462.8h0M149.5 476.1h0M157.0 466.6h0M152.0 464.5h0M154.8 474.6h0M148.7 466.6h0M155.4 461.1h0M155.1 467.8h0M154.7 477.5h0M150.3 471.2h0M157.7 472.4h0M142.9 487.3h0M144.8 467.7h0M149.6 472.5h0M146.7 495.4h0M142.6 488.4h0M163.2 455.0h0M150.2 470.0h0M162.3 460.0h0M141.4 472.2h0M164.4 458.6h0M145.7 462.8h0M147.5 478.2h0M147.5 466.9h0M157.7 455.6h0M159.1 446.4h0M151.5 465.6h0M150.9 476.6h0M150.4 481.4h0M152.0 463.7h0M159.1 461.6h0M145.0 467.4h0M146.4 470.8h0M149.0 460.9h0M154.1 466.7h0M155.2 468.2h0M143.0 486.2h0M147.0 473.6h0M153.8 450.1h0M152.8 472.1h0M164.0 447.6h0M150.1 466.3h0M148.8 473.7h0M150.2 467.6h0M152.8 464.8h0M149.3 479.0h0M143.8 465.5h0M147.0 474.5h0M159.1 457.1h0M145.6 474.4h0M155.4 471.4h0M149.5 488.3h0M141.9 483.7h0M147.4 470.9h0M151.5 482.1h0M143.7 471.8h0M147.8 467.2h0M147.1 463.1h0M145.1 485.5h0M151.0 473.4h0M154.8 464.9h0M148.8 478.3h0M140.5 482.5h0M151.9 479.7h0M156.7 454.2h0M149.2 470.3h0M162.6 457.3h0M149.7 474.3h0M156.4 459.3h0M147.7 486.9h0M156.5 476.3h0M150.8 470.1h0M159.8 453.9h0M144.2 463.0h0M151.5 458.2h0M156.0 478.0h0M155.8 477.9h0M155.0 457.7h0M153.0 455.1h0M150.6 456.5h0M151.1 457.0h0M146.4 475.5h0M153.0 446.5h0M150.8 469.0h0M154.9 457.6h0M149.2 461.6h0M139.0 487.2h0M138.8 489.3h0M142.5 486.7h0M149.5 471.1h0M156.9 460.2h0M143.4 471.1h0M152.6 461.8h0M145.7 483.6h0M149.1 477.7h0M149.9 481.3h0M149.2 470.1h0M150.3 484.4h0M158.1 475.0h0M154.4 465.4h0M154.1 477.8h0M150.4 481.4h0M150.3 476.2h0M145.0 483.2h0M147.4 482.0h0M160.9 465.5h0M152.2 467.6h0M142.2 484.8h0M147.8 473.2h0M155.1 467.4h0M151.6 461.9h0M156.3 465.6h0M157.0 461.9h0M151.3 471.7h0M156.3 473.4h0M145.2 471.8h0M153.1 459.0h0M153.4 461.9h0M159.0 453.2h0M150.4 457.7h0M145.5 478.5h0M149.3 487.9h0M143.7 484.7h0M150.3 481.4h0M152.2 464.3h0M142.4 484.4h0M144.3 492.5h0M154.3 474.6h0M153.5 462.6h0M149.0 461.3h0M154.4 452.8h0M148.8 470.8h0M147.3 476.5h0M146.0 473.0h0M147.5 485.8h0M144.1 476.6h0M158.9 459.2h0M155.0 448.1h0M152.0 456.8h0M155.4 469.6h0M151.9 474.6h0M150.1 468.2h0M140.8 489.9h0M151.8 465.0h0M153.6 463.2h0M150.7 473.0h0M154.0 472.4h0M140.8 487.6h0M153.5 463.2h0M153.7 463.2h0M134.7 498.0h0M152.0 478.8h0M157.5 469.9h0M156.9 454.1h0M140.8 477.9h0M150.8 470.9h0M166.8 458.5h0M145.6 483.2h0M152.5 486.9h0M151.5 467.7h0M168.6 465.6h0M160.6 456.3h0M162.8 455.3h0M144.8 487.0h0M153.1 469.7h0M151.6 473.6h0M155.0 475.8h0M161.2 457.5h0M162.1 462.4h0M149.4 469.4h0M154.7 460.4h0M151.5 458.7h0M168.1 455.4h0M150.2 467.4h0M163.2 460.4h0M154.0 471.7h0M160.5 461.1h0M156.1 464.4h0M161.8 464.0h0M160.0 466.2h0M174.2 455.8h0M152.7 470.3h0M150.7 471.8h0M148.6 465.8h0M171.3 466.8h0M158.2 455.7h0M161.7 467.2h0M158.2 472.5h0M149.6 464.1h0M151.0 468.4h0M164.3 461.8h0M157.8 464.1h0M152.7 458.0h0M158.9 463.8h0M166.0 467.8h0M165.8 454.7h0M158.1 469.9h0M166.6 464.1h0M171.2 466.4h0M154.1 470.5h0M163.4 447.6h0M158.6 461.8h0M149.3 472.6h0M155.9 451.4h0M159.9 458.6h0M156.5 454.9h0M162.8 469.7h0M155.1 466.9h0M145.2 454.8h0M145.0 472.9h0M160.2 463.7h0M154.8 461.6h0M157.9 453.6h0M153.3 464.1h0M156.1 456.1h0M152.6 478.3h0M150.6 469.2h0M156.5 454.2h0M169.0 453.6h0M155.7 452.4h0M150.1 477.7h0M146.3 469.9h0M151.4 468.0h0M160.8 451.5h0M147.8 465.8h0M155.0 460.0h0M166.7 464.3h0M153.5 456.4h0M166.1 471.2h0M162.7 463.5h0M169.2 461.2h0M155.1 460.9h0M162.0 467.6h0M162.0 457.5h0M175.2 456.7h0M167.7 440.8h0M157.2 477.6h0M155.3 459.5h0M164.6 467.2h0M149.2 472.3h0M149.6 462.9h0M146.2 465.6h0M148.7 470.6h0M161.4 473.9h0M153.4 454.2h0M147.4 470.5h0M153.4 468.1h0M156.2 465.1h0M152.6 473.3h0M158.4 479.7h0M147.1 477.3h0M145.2 466.1h0M167.8 454.0h0M145.5 477.7h0M159.9 455.9h0M152.4 472.6h0M159.8 477.3h0M167.0 461.1h0M159.8 459.4h0M158.2 457.5h0M158.9 465.6h0M157.3 454.3h0M144.3 464.3h0M155.1 459.1h0M166.8 458.7h0M152.9 462.5h0M149.5 470.2h0M173.0 454.0h0M163.0 470.7h0M159.2 477.4h0M156.1 456.3h0M166.1 454.6h0M166.8 463.4h0M155.8 477.9h0M155.2 462.5h0M157.4 460.8h0M156.4 456.3h0M146.6 475.0h0M152.0 476.5h0M159.8 463.6h0M152.4 461.3h0M162.6 462.1h0M164.0 454.5h0M156.3 480.1h0M148.1 472.5h0M154.9 470.0h0M153.4 443.9h0M159.7 468.4h0M165.0 457.4h0M148.6 487.9h0M158.2 462.4h0M161.9 456.2h0M164.1 451.5h0M159.6 474.3h0M162.8 443.3h0M152.2 471.0h0M168.0 453.0h0M164.4 447.8h0M152.0 461.8h0M148.5 474.9h0M170.6 445.3h0M167.3 465.4h0M148.2 472.9h0M148.8 452.8h0M156.8 476.4h0M158.1 462.4h0M154.4 475.5h0M144.5 483.8h0M160.6 457.9h0M143.5 464.3h0M159.2 466.9h0M152.0 459.7h0M159.4 467.6h0M143.4 464.5h0M164.8 464.4h0M159.2 458.1h0M146.3 454.9h0M155.6 467.4h0M157.5 463.8h0M165.5 450.7h0M157.7 449.6h0M167.0 472.7h0M157.7 456.6h0M165.3 461.3h0M147.5 450.5h0M160.5 464.7h0M162.3 460.3h0M155.3 466.0h0M167.3 460.6h0M157.0 456.4h0M163.2 458.3h0M160.5 456.9h0M161.7 458.8h0M148.2 466.9h0M154.3 475.4h0M160.8 463.4h0M156.7 467.4h0M162.8 457.5h0M151.9 467.6h0M151.7 465.4h0M148.9 474.4h0M158.5 465.4h0M149.0 463.1h0M162.8 452.8h0M165.5 467.5h0M168.4 453.1h0M148.5 467.1h0M155.1 481.2h0M154.5 448.6h0M159.0 458.2h0M171.4 452.7h0M157.3 471.2h0M150.0 479.6h0M160.7 446.0h0M150.8 455.3h0M157.2 469.6h0M170.5 444.6h0M166.6 467.3h0M150.5 468.1h0M154.3 455.7h0M152.2 465.4h0M144.1 464.1h0M158.1 457.6h0M157.6 461.8h0M155.8 463.4h0M166.2 468.7h0M159.9 480.0h0M159.8 455.0h0M165.0 443.7h0M165.7 463.7h0M169.9 454.3h0M162.0 441.0h0M152.8 462.0h0M150.1 466.0h0M146.0 466.9h0M160.5 448.9h0M154.4 463.0h0M172.3 464.4h0M169.9 452.7h0M150.4 462.5h0M159.9 457.4h0M160.4 452.2h0M178.1 460.8h0M159.9 454.7h0M173.5 449.2h0M180.2 460.4h0M157.9 443.6h0M170.5 470.5h0M166.7 457.1h0M173.8 461.1h0M153.6 468.9h0M162.6 468.7h0M151.1 457.6h0M172.4 463.2h0M148.3 469.0h0M166.5 473.0h0M151.8 453.1h0M159.2 463.0h0M158.5 450.4h0M166.6 452.1h0M170.8 459.4h0M176.3 458.2h0M178.3 450.2h0M166.3 451.9h0M156.1 459.3h0M177.1 447.0h0M154.9 461.3h0M166.1 449.1h0M159.9 472.5h0M160.5 461.4h0M167.8 466.5h0M155.9 456.5h0M165.2 469.8h0M165.3 464.4h0M175.6 466.5h0M176.3 460.8h0M173.1 465.4h0M166.7 458.9h0M181.7 465.3h0M175.0 457.1h0" stroke="#222" stroke-opacity="0.42" stroke-width="0.85" stroke-linecap="round" fill="none"/>
<rect x="127.2" y="427.4" width="73.5" height="71.4" fill="none" stroke="#555" stroke-width="0.8"/>
<line x1="127.2" y1="427.4" x2="127.2" y2="498.8" stroke="#666" stroke-width="0.9"/>
<line x1="127.2" y1="498.8" x2="200.7" y2="498.8" stroke="#666" stroke-width="0.9"/>
<rect x="135.3" y="439.4" width="52.5" height="41.7" fill="none" stroke="#999" stroke-width="0.7"/>
<line x1="125.2" y1="498.8" x2="127.2" y2="498.8" stroke="#555" stroke-width="0.6"/>
<line x1="126.2" y1="493.43" x2="127.2" y2="493.43" stroke="#555" stroke-width="0.6"/>
<line x1="126.2" y1="490.28" x2="127.2" y2="490.28" stroke="#555" stroke-width="0.6"/>
<line x1="126.2" y1="488.05" x2="127.2" y2="488.05" stroke="#555" stroke-width="0.6"/>
<line x1="126.2" y1="486.32" x2="127.2" y2="486.32" stroke="#555" stroke-width="0.6"/>
<line x1="126.2" y1="484.91" x2="127.2" y2="484.91" stroke="#555" stroke-width="0.6"/>
<line x1="126.2" y1="483.71" x2="127.2" y2="483.71" stroke="#555" stroke-width="0.6"/>
<line x1="126.2" y1="482.68" x2="127.2" y2="482.68" stroke="#555" stroke-width="0.6"/>
<line x1="126.2" y1="481.77" x2="127.2" y2="481.77" stroke="#555" stroke-width="0.6"/>
<line x1="125.2" y1="480.95" x2="127.2" y2="480.95" stroke="#555" stroke-width="0.6"/>
<line x1="126.2" y1="475.58" x2="127.2" y2="475.58" stroke="#555" stroke-width="0.6"/>
<line x1="126.2" y1="472.43" x2="127.2" y2="472.43" stroke="#555" stroke-width="0.6"/>
<line x1="126.2" y1="470.2" x2="127.2" y2="470.2" stroke="#555" stroke-width="0.6"/>
<line x1="126.2" y1="468.47" x2="127.2" y2="468.47" stroke="#555" stroke-width="0.6"/>
<line x1="126.2" y1="467.06" x2="127.2" y2="467.06" stroke="#555" stroke-width="0.6"/>
<line x1="126.2" y1="465.86" x2="127.2" y2="465.86" stroke="#555" stroke-width="0.6"/>
<line x1="126.2" y1="464.83" x2="127.2" y2="464.83" stroke="#555" stroke-width="0.6"/>
<line x1="126.2" y1="463.92" x2="127.2" y2="463.92" stroke="#555" stroke-width="0.6"/>
<line x1="125.2" y1="463.1" x2="127.2" y2="463.1" stroke="#555" stroke-width="0.6"/>
<line x1="126.2" y1="457.73" x2="127.2" y2="457.73" stroke="#555" stroke-width="0.6"/>
<line x1="126.2" y1="454.58" x2="127.2" y2="454.58" stroke="#555" stroke-width="0.6"/>
<line x1="126.2" y1="452.35" x2="127.2" y2="452.35" stroke="#555" stroke-width="0.6"/>
<line x1="126.2" y1="450.62" x2="127.2" y2="450.62" stroke="#555" stroke-width="0.6"/>
<line x1="126.2" y1="449.21" x2="127.2" y2="449.21" stroke="#555" stroke-width="0.6"/>
<line x1="126.2" y1="448.01" x2="127.2" y2="448.01" stroke="#555" stroke-width="0.6"/>
<line x1="126.2" y1="446.98" x2="127.2" y2="446.98" stroke="#555" stroke-width="0.6"/>
<line x1="126.2" y1="446.07" x2="127.2" y2="446.07" stroke="#555" stroke-width="0.6"/>
<line x1="125.2" y1="445.25" x2="127.2" y2="445.25" stroke="#555" stroke-width="0.6"/>
<line x1="126.2" y1="439.88" x2="127.2" y2="439.88" stroke="#555" stroke-width="0.6"/>
<line x1="126.2" y1="436.73" x2="127.2" y2="436.73" stroke="#555" stroke-width="0.6"/>
<line x1="126.2" y1="434.5" x2="127.2" y2="434.5" stroke="#555" stroke-width="0.6"/>
<line x1="126.2" y1="432.77" x2="127.2" y2="432.77" stroke="#555" stroke-width="0.6"/>
<line x1="126.2" y1="431.36" x2="127.2" y2="431.36" stroke="#555" stroke-width="0.6"/>
<line x1="126.2" y1="430.16" x2="127.2" y2="430.16" stroke="#555" stroke-width="0.6"/>
<line x1="126.2" y1="429.13" x2="127.2" y2="429.13" stroke="#555" stroke-width="0.6"/>
<line x1="126.2" y1="428.22" x2="127.2" y2="428.22" stroke="#555" stroke-width="0.6"/>
<line x1="125.2" y1="427.4" x2="127.2" y2="427.4" stroke="#555" stroke-width="0.6"/>
<line x1="126.2" y1="498.8" x2="126.2" y2="500.8" stroke="#555" stroke-width="0.6"/>
<line x1="129.79" y1="498.8" x2="129.79" y2="499.8" stroke="#555" stroke-width="0.6"/>
<line x1="133.38" y1="498.8" x2="133.38" y2="499.8" stroke="#555" stroke-width="0.6"/>
<line x1="136.96" y1="498.8" x2="136.96" y2="499.8" stroke="#555" stroke-width="0.6"/>
<line x1="140.55" y1="498.8" x2="140.55" y2="500.8" stroke="#555" stroke-width="0.6"/>
<line x1="144.14" y1="498.8" x2="144.14" y2="499.8" stroke="#555" stroke-width="0.6"/>
<line x1="147.72" y1="498.8" x2="147.72" y2="499.8" stroke="#555" stroke-width="0.6"/>
<line x1="151.31" y1="498.8" x2="151.31" y2="499.8" stroke="#555" stroke-width="0.6"/>
<line x1="154.9" y1="498.8" x2="154.9" y2="500.8" stroke="#555" stroke-width="0.6"/>
<line x1="158.49" y1="498.8" x2="158.49" y2="499.8" stroke="#555" stroke-width="0.6"/>
<line x1="162.07" y1="498.8" x2="162.07" y2="499.8" stroke="#555" stroke-width="0.6"/>
<line x1="165.66" y1="498.8" x2="165.66" y2="499.8" stroke="#555" stroke-width="0.6"/>
<line x1="169.25" y1="498.8" x2="169.25" y2="500.8" stroke="#555" stroke-width="0.6"/>
<line x1="172.84" y1="498.8" x2="172.84" y2="499.8" stroke="#555" stroke-width="0.6"/>
<line x1="176.43" y1="498.8" x2="176.43" y2="499.8" stroke="#555" stroke-width="0.6"/>
<line x1="180.01" y1="498.8" x2="180.01" y2="499.8" stroke="#555" stroke-width="0.6"/>
<line x1="183.6" y1="498.8" x2="183.6" y2="500.8" stroke="#555" stroke-width="0.6"/>
<line x1="187.19" y1="498.8" x2="187.19" y2="499.8" stroke="#555" stroke-width="0.6"/>
<line x1="190.78" y1="498.8" x2="190.78" y2="499.8" stroke="#555" stroke-width="0.6"/>
<line x1="194.36" y1="498.8" x2="194.36" y2="499.8" stroke="#555" stroke-width="0.6"/>
<line x1="197.95" y1="498.8" x2="197.95" y2="500.8" stroke="#555" stroke-width="0.6"/>
<text x="140.5" y="504" font-size="3.8" fill="#666" text-anchor="middle">200</text>
<text x="154.85" y="504" font-size="3.8" fill="#666" text-anchor="middle">400</text>
<text x="169.2" y="504" font-size="3.8" fill="#666" text-anchor="middle">600</text>
<text x="183.55" y="504" font-size="3.8" fill="#666" text-anchor="middle">800</text>
<text x="197.9" y="504" font-size="3.8" fill="#666" text-anchor="middle">1000</text>
<path d="M77.7 545.4h0M58.7 582.8h0M75.4 552.4h0M73.1 559.6h0M80.6 551.1h0M81.1 559.8h0M84.8 548.1h0M78.1 561.9h0M71.8 564.5h0M77.4 556.6h0M76.2 557.5h0M79.2 565.9h0M71.8 562.0h0M75.1 554.5h0M82.8 557.6h0M75.7 565.8h0M72.2 563.3h0M70.1 575.6h0M80.7 547.9h0M75.0 563.1h0M82.1 551.5h0M77.7 558.2h0M80.3 545.3h0M77.8 548.1h0M69.5 556.0h0M77.9 548.6h0M76.4 570.2h0M79.7 551.3h0M68.1 571.8h0M75.2 557.9h0M75.1 551.3h0M76.8 559.6h0M81.4 566.8h0M79.3 570.0h0M78.5 565.5h0M81.2 553.8h0M76.9 553.6h0M69.6 561.3h0M71.3 570.9h0M75.4 555.0h0M73.7 573.7h0M74.0 565.5h0M70.6 566.0h0M79.0 555.8h0M86.7 563.3h0M73.1 556.0h0M80.1 560.5h0M75.2 567.3h0M76.3 556.6h0M76.5 548.7h0M75.0 561.3h0M77.8 556.3h0M77.6 563.1h0M80.8 553.9h0M78.3 556.2h0M75.2 553.1h0M77.3 558.7h0M78.3 547.3h0M70.1 562.4h0M77.4 565.0h0M70.8 564.8h0M72.4 554.5h0M73.5 566.1h0M65.9 563.4h0M77.0 555.2h0M80.3 552.4h0M75.2 555.9h0M67.8 582.6h0M80.2 571.7h0M77.1 571.6h0M74.8 571.9h0M76.0 565.1h0M78.6 545.8h0M73.6 563.2h0M71.7 566.4h0M77.3 555.5h0M75.7 560.6h0M72.4 558.9h0M79.0 568.8h0M71.1 559.5h0M77.7 558.1h0M73.1 577.7h0M70.0 573.7h0M75.8 551.4h0M77.7 554.4h0M80.7 567.8h0M74.2 570.0h0M73.4 562.1h0M73.5 571.3h0M73.2 563.4h0M73.0 545.2h0M76.3 560.3h0M82.4 553.2h0M78.6 564.4h0M75.9 558.0h0M73.9 548.0h0M75.4 573.3h0M73.4 563.5h0M77.3 563.3h0M80.1 560.4h0M81.0 549.2h0M76.9 555.5h0M68.1 572.0h0M72.5 562.5h0M72.4 568.1h0M70.5 567.6h0M82.5 545.4h0M64.4 566.6h0M71.9 557.7h0M72.7 566.6h0M75.0 553.2h0M74.0 557.4h0M71.1 558.3h0M77.2 562.6h0M84.5 554.3h0M68.4 566.9h0M77.0 568.4h0M66.1 567.8h0M79.5 550.6h0M66.6 560.4h0M73.6 569.9h0M73.7 564.3h0M83.1 541.3h0M79.1 563.6h0M79.7 555.1h0M76.2 557.2h0M71.8 559.9h0M73.0 566.5h0M71.3 562.6h0M72.2 563.2h0M73.7 580.6h0M86.1 541.7h0M78.8 554.0h0M77.6 560.9h0M68.9 560.5h0M72.9 567.4h0M71.5 551.0h0M71.8 561.5h0M77.7 557.7h0M72.1 572.5h0M78.6 558.9h0M81.5 545.3h0M74.2 563.3h0M77.3 554.6h0M80.2 562.7h0M83.0 554.0h0M72.6 550.4h0M75.5 560.6h0M77.9 567.2h0M74.7 558.3h0M75.7 560.9h0M70.6 565.0h0M71.7 555.6h0M76.6 557.7h0M70.5 567.4h0M73.8 561.5h0M78.2 535.6h0M72.8 552.7h0M74.5 559.9h0M80.6 540.3h0M75.3 565.2h0M63.1 579.0h0M71.4 577.0h0M72.0 573.7h0M75.7 558.9h0M79.9 554.0h0M67.6 577.9h0M77.2 551.7h0M70.6 570.5h0M70.5 556.9h0M75.7 557.0h0M78.7 558.5h0M68.5 558.4h0M77.5 560.4h0M68.6 568.9h0M73.9 558.1h0M77.7 553.1h0M78.1 553.8h0M87.4 542.0h0M77.1 552.0h0M83.0 557.5h0M79.6 547.6h0M76.9 559.5h0M73.0 572.0h0M65.1 577.6h0M74.1 549.0h0M76.6 556.4h0M79.6 555.1h0M76.7 564.7h0M74.2 557.6h0M86.8 548.4h0M75.1 558.0h0M68.6 568.7h0M77.6 565.9h0M83.4 551.6h0M67.8 568.2h0M70.0 582.6h0M63.1 577.3h0M70.9 571.6h0M85.7 557.8h0M80.0 562.1h0M75.2 568.0h0M73.4 572.1h0M71.6 560.7h0M75.8 562.7h0M75.0 566.1h0M70.4 561.5h0M73.5 567.4h0M82.6 547.5h0M68.7 580.1h0M77.1 560.7h0M71.2 568.8h0M73.1 553.8h0M74.5 563.0h0M69.1 555.4h0M74.1 555.8h0M79.8 561.0h0M84.8 555.7h0M72.4 572.7h0M69.1 550.1h0M79.5 564.7h0M78.4 558.8h0M79.2 548.4h0M81.4 553.2h0M83.3 546.1h0M63.9 577.2h0M67.4 566.8h0M82.0 554.9h0M63.2 566.8h0M76.9 563.4h0M81.6 548.0h0M81.5 555.5h0M78.8 571.2h0M81.6 559.4h0M83.0 558.2h0M78.5 561.7h0M76.8 562.6h0M79.7 561.5h0M70.7 573.0h0M72.3 558.8h0M72.0 568.7h0M70.5 555.7h0M74.5 556.9h0M80.2 571.1h0M79.1 557.0h0M75.7 558.0h0M72.9 560.6h0M70.9 552.8h0M72.3 562.8h0M71.5 562.2h0M75.5 560.5h0M75.3 561.7h0M78.4 551.9h0M60.9 577.2h0M79.7 565.6h0M70.7 577.7h0M73.6 565.3h0M74.7 558.8h0M76.8 561.9h0M82.7 555.4h0M78.3 559.7h0M62.4 581.4h0M67.0 568.5h0M70.9 545.7h0M80.2 549.2h0M77.9 561.7h0M74.8 575.5h0M82.0 544.4h0M71.6 579.3h0M72.4 557.7h0M76.6 562.7h0M75.1 559.4h0M68.8 569.9h0M67.3 562.3h0M82.4 554.7h0M64.9 562.3h0M72.9 573.5h0M71.7 560.6h0M77.3 561.8h0M72.3 562.0h0M75.1 569.0h0M75.6 557.1h0M70.4 561.2h0M69.2 570.3h0M69.4 557.6h0M75.7 562.3h0M79.0 562.0h0M71.1 575.8h0M72.8 568.0h0M80.9 559.9h0M73.2 552.6h0M77.9 559.7h0M75.3 560.3h0M75.2 555.1h0M79.8 554.5h0M75.9 545.8h0M75.8 557.5h0M74.4 566.4h0M72.0 555.9h0M68.0 576.5h0M77.0 561.6h0M77.1 566.1h0M71.3 560.1h0M79.8 558.6h0M74.0 560.3h0M70.9 572.8h0M71.8 563.2h0M75.4 568.6h0M72.2 560.3h0M77.1 558.6h0M73.4 569.3h0M80.0 556.3h0M75.0 549.2h0M77.0 564.3h0M77.3 555.3h0M75.9 574.9h0M72.0 564.8h0M75.8 552.6h0M69.4 575.0h0M72.3 564.6h0M71.6 567.9h0M73.7 550.1h0M70.7 549.0h0M67.6 563.9h0M73.1 559.2h0M68.6 582.4h0M76.4 553.8h0M72.4 556.9h0M78.4 550.3h0M67.9 580.1h0M86.3 562.2h0M78.7 565.7h0M67.7 582.0h0M67.4 564.4h0M74.0 561.4h0M76.3 554.2h0M77.6 560.3h0M81.3 568.2h0M76.1 557.4h0M67.3 559.1h0M72.5 566.0h0M65.6 566.7h0M78.5 561.1h0M79.6 561.4h0M81.8 546.9h0M68.0 562.5h0M79.2 548.0h0M80.6 560.0h0M74.8 550.2h0M70.0 567.4h0M73.3 568.3h0M75.9 564.2h0M78.0 554.0h0M76.8 560.1h0M78.1 555.3h0M73.8 557.7h0M77.8 552.7h0M76.7 559.8h0M69.3 563.6h0M77.3 557.2h0M75.6 560.4h0M82.0 547.8h0M75.8 562.8h0M71.4 558.6h0M69.4 561.6h0M79.5 552.2h0M77.1 553.8h0M77.4 556.0h0M69.1 570.1h0M65.6 571.2h0M76.8 559.3h0M76.7 555.1h0M81.8 550.1h0M73.6 576.8h0M78.6 563.9h0M73.5 575.8h0M68.5 567.2h0M66.4 559.7h0M75.6 552.5h0M68.9 563.4h0M67.9 564.8h0M76.5 564.5h0M72.8 548.7h0M85.7 543.1h0M74.4 574.8h0M84.1 567.0h0M77.5 565.9h0M86.4 554.7h0M73.9 556.6h0M77.1 547.8h0M75.5 570.4h0M70.1 559.0h0M77.8 566.2h0M70.6 569.3h0M67.2 559.4h0M78.3 573.0h0M77.4 542.1h0M85.6 561.3h0M66.4 566.9h0M70.0 564.6h0M81.0 547.5h0M73.6 564.8h0M71.2 553.2h0M77.2 556.5h0M79.0 552.6h0M78.6 556.6h0M68.3 560.4h0M70.9 564.8h0M69.2 574.9h0M77.8 562.5h0M76.0 560.1h0M72.6 563.4h0M73.0 561.5h0M76.7 572.7h0M78.5 542.6h0M74.6 565.4h0M63.7 566.1h0M79.5 568.2h0M76.2 563.0h0M70.7 552.6h0M69.8 581.1h0M81.7 558.9h0M76.2 567.1h0M74.7 562.5h0M81.2 554.1h0M74.5 553.8h0M72.0 566.0h0M73.4 561.2h0M81.0 546.2h0M75.2 548.7h0M82.8 556.1h0M74.6 560.7h0M73.9 551.8h0M75.4 557.5h0M74.7 565.8h0M72.1 569.0h0M80.7 558.4h0M74.8 557.4h0M75.8 550.3h0M75.4 565.5h0M84.0 551.7h0M70.3 562.5h0M72.9 548.7h0M74.3 555.7h0M73.0 565.4h0M68.3 567.0h0M75.2 562.1h0M71.0 561.8h0M81.2 554.8h0M68.4 564.7h0M67.1 571.4h0M75.2 561.2h0M83.3 546.7h0M83.4 549.3h0M70.5 564.9h0M74.2 563.2h0M77.9 559.2h0M78.3 568.3h0M70.9 561.6h0M69.5 561.3h0M73.6 570.0h0M72.1 565.5h0M78.5 566.7h0M75.8 559.1h0M72.6 570.8h0M72.3 559.0h0M73.0 569.1h0M77.1 569.1h0M70.6 569.5h0M82.7 527.4h0M82.1 552.2h0M77.9 549.8h0M77.6 554.6h0M71.6 561.8h0M78.7 561.8h0M73.0 557.6h0M74.5 556.7h0M76.8 556.2h0M78.8 548.5h0M57.5 581.2h0M75.0 566.0h0M72.6 553.9h0M74.8 564.2h0M73.0 561.6h0M79.0 548.9h0M72.8 558.4h0M76.4 545.3h0M75.3 561.5h0M76.5 559.4h0M75.4 570.9h0M70.9 577.5h0M71.0 563.3h0M79.5 562.1h0M82.1 566.9h0M73.5 572.7h0M76.2 555.5h0M71.5 559.0h0M75.3 561.0h0M67.2 565.1h0M82.9 549.0h0M78.0 548.7h0M73.7 557.7h0M75.5 562.2h0M71.0 557.2h0M73.6 545.0h0M81.8 538.0h0M79.5 562.6h0M70.4 563.1h0M72.6 576.6h0M76.6 536.1h0M71.3 569.6h0M79.5 554.8h0M83.1 559.5h0M72.4 547.8h0M72.0 567.7h0M66.6 572.5h0M76.5 560.2h0M74.1 556.9h0M78.8 552.0h0M66.9 573.2h0M71.4 563.8h0M75.6 563.6h0M76.3 573.8h0M75.2 562.5h0M77.8 554.8h0M73.1 560.5h0M76.4 574.6h0M68.7 555.4h0M70.1 551.3h0M73.6 555.6h0M78.9 555.3h0M73.4 575.4h0M78.4 558.1h0M79.5 557.2h0M74.3 564.2h0M73.0 560.7h0M68.6 565.5h0M80.3 551.8h0M70.4 561.9h0M73.6 569.0h0M78.2 560.5h0M72.9 559.2h0M75.3 555.0h0M70.3 566.8h0M75.4 567.3h0M76.6 558.1h0M79.2 542.2h0M77.3 557.6h0M76.3 573.9h0M76.4 560.0h0M69.4 580.0h0M65.0 581.4h0M63.5 583.9h0M71.1 581.3h0M67.0 579.4h0M65.9 581.2h0M66.4 572.6h0M75.1 584.3h0M73.1 583.1h0M69.6 579.7h0M75.8 580.1h0M65.6 589.8h0M67.0 578.2h0M71.8 574.3h0M70.0 587.5h0M64.8 576.7h0M70.7 584.2h0M69.6 586.6h0M73.1 580.6h0M69.1 581.2h0M61.0 580.9h0M69.2 575.9h0M70.0 584.4h0M68.1 584.6h0M68.0 582.3h0M62.9 580.8h0M68.7 576.1h0M60.5 582.3h0M64.8 585.7h0M69.8 578.3h0M68.1 574.4h0M70.8 577.1h0M69.5 575.8h0M69.5 584.5h0M63.8 587.1h0M61.3 581.7h0M63.7 578.6h0M62.1 587.8h0M67.3 581.6h0M69.3 577.2h0M64.1 582.7h0M72.1 570.1h0M67.2 575.4h0M67.6 587.1h0M61.4 584.2h0M70.3 585.1h0M70.2 576.8h0M67.6 577.2h0M63.4 581.6h0M70.1 579.9h0M67.6 575.3h0M71.2 578.3h0M70.9 590.6h0M66.5 585.9h0M67.1 585.1h0M66.5 589.6h0M68.1 575.1h0M73.2 585.9h0M66.2 583.2h0M68.8 585.3h0M69.9 579.1h0M67.5 576.6h0M74.1 578.5h0M72.0 574.4h0M64.4 584.2h0M69.4 571.2h0M67.0 565.3h0M63.9 581.6h0M70.5 583.1h0M72.4 578.3h0M67.9 572.8h0M70.0 582.4h0M70.1 585.6h0M75.1 570.7h0M71.6 584.4h0M70.2 577.8h0M67.4 574.0h0M74.1 572.4h0M69.6 570.3h0M74.9 564.6h0M70.3 584.2h0M61.5 583.3h0M63.5 586.9h0M69.6 570.6h0M67.5 582.4h0M60.1 586.8h0M74.9 582.0h0M66.6 582.0h0M70.7 579.2h0M58.0 581.2h0M63.0 582.4h0M71.4 578.6h0M68.8 581.5h0M71.6 578.0h0M72.3 582.5h0M68.0 581.7h0M68.1 578.0h0M66.0 581.2h0M68.9 579.3h0M62.2 575.2h0M72.0 584.6h0M60.8 578.0h0M63.2 577.6h0M69.6 576.7h0M71.6 580.1h0M70.3 579.5h0M73.9 579.6h0M66.0 581.1h0M66.6 577.4h0M68.4 584.5h0M60.8 588.0h0M69.5 578.2h0M65.8 590.7h0M68.7 581.2h0M64.4 569.7h0M68.7 576.1h0M59.3 582.7h0M72.2 577.4h0M67.0 578.3h0M69.6 585.6h0M72.1 582.2h0M62.5 581.1h0M70.3 582.8h0M69.9 578.9h0M69.8 589.8h0M65.5 574.2h0M67.8 568.2h0M65.1 579.9h0M60.1 582.7h0M67.6 582.3h0M68.0 572.9h0M67.6 582.8h0M70.0 578.0h0M75.2 569.4h0M62.2 582.0h0M70.5 580.4h0M69.2 583.8h0M64.0 580.6h0M66.2 578.6h0M61.7 582.0h0M72.8 579.2h0M72.6 580.7h0M67.4 572.9h0M68.9 576.3h0M70.0 578.5h0M73.1 573.2h0M67.3 580.8h0M74.5 578.8h0M63.6 582.0h0M73.5 573.7h0M66.8 583.7h0M70.8 575.3h0M64.1 582.6h0M62.8 576.5h0M64.2 584.6h0M68.0 584.3h0M63.4 583.6h0M63.3 575.4h0M68.5 576.8h0M69.4 575.8h0M65.5 576.4h0M67.2 580.6h0M70.7 576.8h0M71.8 572.0h0M70.3 582.7h0M70.4 584.9h0M69.0 576.6h0M69.4 568.1h0M62.2 577.8h0M70.7 582.4h0M67.2 585.1h0M69.9 584.4h0M63.6 583.3h0M66.6 584.6h0M67.5 573.1h0M67.6 571.9h0M63.5 577.1h0M67.6 578.6h0M71.3 575.8h0M70.7 580.3h0M69.1 579.1h0M68.4 576.0h0M74.6 582.1h0M75.7 574.7h0M77.8 564.1h0M68.6 579.5h0M72.8 579.5h0M64.0 582.6h0M63.1 580.0h0M70.4 579.6h0M69.5 577.4h0M71.2 581.6h0M63.3 584.4h0M69.9 577.7h0M63.7 580.7h0M67.8 576.8h0M69.2 581.0h0M67.7 579.8h0M64.9 578.5h0M59.3 588.3h0M69.3 572.5h0M63.4 582.8h0M64.2 575.6h0M69.5 576.6h0M64.1 581.0h0M69.6 587.8h0M76.0 578.9h0M69.9 585.6h0M77.1 583.2h0M65.1 575.4h0M61.6 579.6h0M64.3 587.9h0M61.1 580.6h0M69.6 577.0h0M69.4 584.6h0M72.4 575.9h0M68.3 588.4h0M65.6 584.1h0M64.5 588.3h0M67.0 584.6h0M70.9 571.7h0M72.2 577.7h0M66.2 580.4h0M66.7 582.7h0M68.0 572.8h0M70.9 581.4h0M66.5 584.8h0M71.5 571.9h0M63.9 585.7h0M62.6 576.5h0M67.8 575.8h0M62.8 572.0h0M71.7 569.5h0M65.6 573.8h0M70.8 584.8h0M68.2 573.0h0M68.4 578.1h0M64.0 585.3h0M62.1 583.8h0M61.4 582.0h0M55.5 587.7h0M66.7 576.7h0M62.4 574.4h0M72.5 578.7h0M62.1 582.4h0M65.8 579.3h0M70.2 573.7h0M68.2 577.7h0M71.4 582.0h0M66.2 583.5h0M66.2 579.4h0M70.0 573.2h0M72.9 581.6h0M74.9 569.1h0M66.3 565.0h0M68.7 575.9h0M61.7 587.0h0M67.5 581.2h0M72.5 574.1h0M66.8 582.7h0M68.5 584.1h0M73.4 581.8h0M67.5 563.9h0M66.9 582.2h0M64.3 589.9h0M69.9 579.0h0M69.0 578.0h0M72.4 577.2h0M68.0 579.5h0M70.0 578.7h0M62.0 580.4h0M70.5 575.2h0M64.0 578.5h0M70.8 578.0h0M72.2 585.9h0M70.5 572.7h0M69.8 579.2h0M69.5 583.1h0M72.5 581.4h0M68.4 586.6h0M70.8 584.6h0M67.9 575.1h0M69.0 576.7h0M64.9 573.8h0M76.6 579.1h0M63.6 579.9h0M71.2 580.6h0M72.3 570.5h0M68.2 580.7h0M61.2 586.4h0M67.9 580.0h0M67.5 582.3h0M69.1 581.1h0M67.0 579.5h0M66.8 585.7h0M65.7 576.7h0M71.6 582.5h0M67.0 576.3h0M78.3 588.2h0M65.0 584.8h0M65.1 581.6h0M71.9 571.9h0M64.0 589.3h0M73.7 576.0h0M71.9 582.0h0M68.3 573.6h0M65.1 581.4h0M66.4 577.4h0M70.3 579.0h0M75.4 570.6h0M70.0 581.8h0M68.1 578.9h0M66.7 584.3h0M70.8 579.6h0M70.7 585.7h0M67.7 580.9h0M72.7 579.9h0M68.1 577.1h0M67.0 585.3h0M70.0 586.3h0M67.6 573.3h0M61.5 580.9h0M64.8 578.1h0M67.1 581.6h0M61.6 587.1h0M67.5 580.7h0M72.3 582.7h0M70.4 570.8h0M69.8 584.1h0M65.8 575.9h0M70.1 584.3h0M72.5 578.4h0M69.1 579.7h0M67.3 585.0h0M64.3 584.8h0M63.9 582.8h0M68.3 579.3h0M70.0 582.2h0M64.8 583.0h0M74.0 580.7h0M68.7 574.5h0M68.0 583.9h0M66.8 570.8h0M73.2 582.2h0M71.7 578.3h0M73.2 579.9h0M65.2 576.4h0M73.3 581.1h0M64.3 584.6h0M68.6 575.6h0M61.3 584.0h0M67.8 579.8h0M68.1 589.7h0M64.2 582.7h0M72.5 573.2h0M64.8 577.9h0M57.8 581.7h0M66.3 583.6h0M69.7 591.1h0M73.0 579.8h0M65.5 581.1h0M73.6 578.5h0M73.0 578.0h0M68.7 582.7h0M65.0 585.1h0M68.9 588.1h0M66.9 582.7h0M66.7 580.2h0M74.1 575.1h0M63.8 584.8h0M71.1 579.3h0M70.7 588.0h0M64.6 582.9h0M70.0 577.1h0M92.4 555.9h0M66.8 569.9h0M85.6 565.1h0M65.7 553.9h0M78.8 561.7h0M72.3 562.0h0M88.9 544.4h0M86.3 571.0h0M83.2 558.9h0M75.8 545.6h0M96.6 545.7h0M65.6 567.6h0M69.8 566.4h0M69.5 563.0h0M79.1 559.2h0M84.8 546.8h0M87.9 562.3h0M82.8 555.6h0M92.5 543.7h0M77.6 558.5h0M87.0 557.8h0M86.0 534.0h0M77.1 544.0h0M81.4 564.4h0M80.5 564.3h0M86.9 545.5h0M85.6 573.6h0M70.6 561.4h0M92.3 552.7h0M95.9 548.0h0M83.3 536.2h0M77.7 566.8h0M87.4 553.4h0M60.9 586.7h0M75.0 563.4h0M96.8 527.9h0M84.8 538.3h0M77.3 544.6h0M79.3 566.8h0M74.6 568.2h0M87.0 545.3h0M82.4 558.7h0M71.8 560.7h0M81.3 546.7h0M88.7 551.6h0M76.6 562.1h0M80.6 561.2h0M98.8 538.0h0M84.1 570.2h0M81.6 543.1h0M73.6 560.3h0M68.3 559.1h0M71.1 563.2h0M82.6 558.2h0M77.7 554.0h0M96.1 555.3h0M74.1 561.1h0M73.6 546.0h0M72.7 558.0h0M87.3 568.9h0M79.5 546.7h0M82.7 551.0h0M67.7 567.2h0M75.7 550.6h0M76.2 576.4h0M68.2 561.9h0M80.3 534.7h0M84.0 540.9h0M75.9 555.4h0M86.1 551.4h0M88.2 544.1h0M96.6 543.3h0M89.0 538.9h0M78.3 564.4h0M82.6 557.8h0M86.2 558.0h0M60.2 574.9h0M74.3 562.0h0M68.3 543.7h0M74.9 555.5h0M70.4 557.9h0M69.0 564.4h0M85.0 566.3h0M85.3 559.5h0M70.5 554.3h0M95.9 550.9h0M91.4 552.4h0M73.8 568.8h0M84.9 546.9h0M79.6 555.4h0M84.2 548.8h0M79.8 564.3h0M83.8 546.7h0M81.2 565.9h0M84.1 545.4h0M76.3 554.2h0M77.9 558.0h0M74.3 569.5h0M73.1 572.5h0M84.8 547.8h0M65.8 561.8h0M66.4 562.9h0M73.4 546.9h0M78.7 555.0h0M86.8 552.6h0M72.7 568.5h0M67.7 575.9h0M72.4 563.1h0M83.9 545.6h0M76.3 554.3h0M88.0 555.2h0M76.5 547.3h0M76.4 551.7h0M83.5 555.9h0M76.9 556.8h0M84.7 556.0h0M79.5 551.5h0M78.5 563.5h0M84.6 551.1h0M73.4 552.0h0M82.4 558.5h0M85.7 561.4h0M81.6 545.7h0M78.5 557.0h0M90.1 546.8h0M82.3 570.2h0M85.2 551.7h0M83.4 577.8h0M78.3 554.3h0M87.2 566.8h0M73.7 558.1h0M74.1 565.7h0M75.3 553.5h0M88.3 554.0h0M73.0 575.3h0M70.4 551.9h0M67.6 546.2h0M94.7 557.1h0M80.6 551.8h0M65.4 561.1h0M81.1 544.0h0M72.8 562.8h0M91.0 556.3h0M83.4 555.7h0M77.0 561.7h0M70.1 561.7h0M82.3 560.2h0M79.1 537.2h0M89.5 553.6h0M81.8 564.5h0M81.7 547.8h0M81.7 535.8h0M89.0 533.9h0M69.7 571.8h0M94.5 555.5h0M93.5 553.6h0M72.2 561.7h0M65.6 571.2h0M80.1 540.0h0M79.4 561.6h0M68.1 569.6h0M77.7 568.3h0M84.5 549.4h0M89.6 533.9h0M80.2 544.2h0M67.0 559.2h0M90.2 545.9h0M62.7 569.5h0M89.3 548.9h0M76.8 542.2h0M77.1 531.3h0M85.7 546.8h0M83.5 543.4h0M85.5 557.7h0M78.2 559.1h0M79.9 555.4h0M95.5 540.5h0M73.6 559.2h0M83.2 558.4h0M90.2 567.8h0M85.2 550.2h0M78.2 548.5h0M91.6 536.6h0M88.4 532.9h0M84.9 544.1h0M93.9 552.6h0M74.5 554.0h0M65.5 566.0h0M83.9 555.8h0M78.5 554.2h0M73.0 565.9h0M78.4 551.8h0M87.1 547.4h0M82.9 568.7h0M88.6 549.4h0M80.5 550.6h0M75.5 559.8h0M76.3 551.9h0M80.1 546.0h0M84.2 560.4h0M82.8 558.1h0M90.2 544.8h0M86.1 552.1h0M80.2 548.8h0M77.5 560.5h0M87.1 550.8h0M97.2 546.6h0M76.4 565.5h0M71.4 571.7h0M71.8 561.0h0M85.0 560.3h0M73.4 564.6h0M72.1 572.7h0M91.8 541.5h0M74.1 557.5h0M77.3 564.5h0M69.9 586.6h0M81.1 544.6h0M68.9 569.1h0M83.7 541.0h0M84.2 550.9h0M92.4 560.3h0M80.9 559.0h0M92.3 550.7h0M78.5 562.1h0M80.4 551.2h0M77.7 560.7h0M79.9 559.7h0M88.4 540.5h0M86.5 545.2h0M75.6 565.1h0M72.3 562.2h0M88.4 560.3h0M81.9 558.6h0M82.6 550.9h0M75.3 557.8h0M76.4 567.1h0M81.2 545.8h0M72.8 554.3h0M82.4 548.3h0M81.6 568.4h0M88.0 541.0h0M82.9 553.9h0M77.0 550.6h0M85.2 553.9h0M68.6 569.3h0M81.5 547.5h0M73.5 558.6h0M73.3 566.3h0M77.2 549.1h0M88.5 544.3h0M90.6 558.0h0M83.0 549.0h0M73.1 562.8h0M96.8 557.5h0M80.1 563.3h0M73.1 554.1h0M92.5 564.2h0M91.9 559.6h0M103.4 533.2h0M105.1 566.4h0M70.6 560.9h0M86.7 548.3h0M95.1 540.4h0M79.1 534.0h0M103.7 553.8h0M95.8 543.9h0M85.7 540.9h0M87.2 542.6h0M95.5 536.2h0M113.3 561.8h0M111.4 543.8h0M78.2 552.2h0M98.4 554.0h0M77.8 556.1h0M91.1 550.8h0M82.6 560.6h0M89.5 546.5h0M88.0 573.5h0M96.0 536.7h0M84.9 559.3h0M99.3 574.2h0M91.2 542.9h0M83.3 566.5h0M106.8 572.7h0M95.7 547.9h0M90.3 567.7h0M93.3 546.8h0M99.3 555.5h0M91.0 550.2h0M86.4 542.8h0M90.9 541.6h0M86.9 546.7h0M87.0 537.5h0M108.3 554.2h0M100.1 553.7h0M105.5 563.4h0M87.3 556.6h0M74.9 550.8h0M88.6 549.3h0M97.5 577.0h0M87.4 537.0h0M94.2 539.2h0M82.9 574.8h0M97.3 563.2h0M88.1 554.4h0M92.4 557.9h0M99.0 562.5h0M85.1 537.9h0M81.8 549.5h0" stroke="#222" stroke-opacity="0.42" stroke-width="0.85" stroke-linecap="round" fill="none"/>
<rect x="52.9" y="521" width="72.5" height="71" fill="none" stroke="#555" stroke-width="0.8"/>
<line x1="52.9" y1="521" x2="52.9" y2="592" stroke="#666" stroke-width="0.9"/>
<line x1="52.9" y1="592" x2="125.4" y2="592" stroke="#666" stroke-width="0.9"/>
<rect x="60.5" y="533.2" width="52.8" height="42" fill="none" stroke="#999" stroke-width="0.7"/>
<line x1="50.9" y1="592" x2="52.9" y2="592" stroke="#555" stroke-width="0.6"/>
<line x1="51.9" y1="586.66" x2="52.9" y2="586.66" stroke="#555" stroke-width="0.6"/>
<line x1="51.9" y1="583.53" x2="52.9" y2="583.53" stroke="#555" stroke-width="0.6"/>
<line x1="51.9" y1="581.31" x2="52.9" y2="581.31" stroke="#555" stroke-width="0.6"/>
<line x1="51.9" y1="579.59" x2="52.9" y2="579.59" stroke="#555" stroke-width="0.6"/>
<line x1="51.9" y1="578.19" x2="52.9" y2="578.19" stroke="#555" stroke-width="0.6"/>
<line x1="51.9" y1="577" x2="52.9" y2="577" stroke="#555" stroke-width="0.6"/>
<line x1="51.9" y1="575.97" x2="52.9" y2="575.97" stroke="#555" stroke-width="0.6"/>
<line x1="51.9" y1="575.06" x2="52.9" y2="575.06" stroke="#555" stroke-width="0.6"/>
<line x1="50.9" y1="574.25" x2="52.9" y2="574.25" stroke="#555" stroke-width="0.6"/>
<line x1="51.9" y1="568.91" x2="52.9" y2="568.91" stroke="#555" stroke-width="0.6"/>
<line x1="51.9" y1="565.78" x2="52.9" y2="565.78" stroke="#555" stroke-width="0.6"/>
<line x1="51.9" y1="563.56" x2="52.9" y2="563.56" stroke="#555" stroke-width="0.6"/>
<line x1="51.9" y1="561.84" x2="52.9" y2="561.84" stroke="#555" stroke-width="0.6"/>
<line x1="51.9" y1="560.44" x2="52.9" y2="560.44" stroke="#555" stroke-width="0.6"/>
<line x1="51.9" y1="559.25" x2="52.9" y2="559.25" stroke="#555" stroke-width="0.6"/>
<line x1="51.9" y1="558.22" x2="52.9" y2="558.22" stroke="#555" stroke-width="0.6"/>
<line x1="51.9" y1="557.31" x2="52.9" y2="557.31" stroke="#555" stroke-width="0.6"/>
<line x1="50.9" y1="556.5" x2="52.9" y2="556.5" stroke="#555" stroke-width="0.6"/>
<line x1="51.9" y1="551.16" x2="52.9" y2="551.16" stroke="#555" stroke-width="0.6"/>
<line x1="51.9" y1="548.03" x2="52.9" y2="548.03" stroke="#555" stroke-width="0.6"/>
<line x1="51.9" y1="545.81" x2="52.9" y2="545.81" stroke="#555" stroke-width="0.6"/>
<line x1="51.9" y1="544.09" x2="52.9" y2="544.09" stroke="#555" stroke-width="0.6"/>
<line x1="51.9" y1="542.69" x2="52.9" y2="542.69" stroke="#555" stroke-width="0.6"/>
<line x1="51.9" y1="541.5" x2="52.9" y2="541.5" stroke="#555" stroke-width="0.6"/>
<line x1="51.9" y1="540.47" x2="52.9" y2="540.47" stroke="#555" stroke-width="0.6"/>
<line x1="51.9" y1="539.56" x2="52.9" y2="539.56" stroke="#555" stroke-width="0.6"/>
<line x1="50.9" y1="538.75" x2="52.9" y2="538.75" stroke="#555" stroke-width="0.6"/>
<line x1="51.9" y1="533.41" x2="52.9" y2="533.41" stroke="#555" stroke-width="0.6"/>
<line x1="51.9" y1="530.28" x2="52.9" y2="530.28" stroke="#555" stroke-width="0.6"/>
<line x1="51.9" y1="528.06" x2="52.9" y2="528.06" stroke="#555" stroke-width="0.6"/>
<line x1="51.9" y1="526.34" x2="52.9" y2="526.34" stroke="#555" stroke-width="0.6"/>
<line x1="51.9" y1="524.94" x2="52.9" y2="524.94" stroke="#555" stroke-width="0.6"/>
<line x1="51.9" y1="523.75" x2="52.9" y2="523.75" stroke="#555" stroke-width="0.6"/>
<line x1="51.9" y1="522.72" x2="52.9" y2="522.72" stroke="#555" stroke-width="0.6"/>
<line x1="51.9" y1="521.81" x2="52.9" y2="521.81" stroke="#555" stroke-width="0.6"/>
<line x1="50.9" y1="521" x2="52.9" y2="521" stroke="#555" stroke-width="0.6"/>
<text x="50.4" y="593.1" font-size="3.8" fill="#666" text-anchor="end">1</text>
<text x="50.4" y="575.35" font-size="3.8" fill="#666" text-anchor="end">10</text>
<text x="50.4" y="557.6" font-size="3.8" fill="#666" text-anchor="end">100</text>
<text x="50.4" y="539.85" font-size="3.8" fill="#666" text-anchor="end">1000</text>
<text x="50.4" y="522.1" font-size="3.8" fill="#666" text-anchor="end">10000</text>
<line x1="51.9" y1="592" x2="51.9" y2="594" stroke="#555" stroke-width="0.6"/>
<line x1="55.49" y1="592" x2="55.49" y2="593" stroke="#555" stroke-width="0.6"/>
<line x1="59.07" y1="592" x2="59.07" y2="593" stroke="#555" stroke-width="0.6"/>
<line x1="62.66" y1="592" x2="62.66" y2="593" stroke="#555" stroke-width="0.6"/>
<line x1="66.25" y1="592" x2="66.25" y2="594" stroke="#555" stroke-width="0.6"/>
<line x1="69.84" y1="592" x2="69.84" y2="593" stroke="#555" stroke-width="0.6"/>
<line x1="73.42" y1="592" x2="73.42" y2="593" stroke="#555" stroke-width="0.6"/>
<line x1="77.01" y1="592" x2="77.01" y2="593" stroke="#555" stroke-width="0.6"/>
<line x1="80.6" y1="592" x2="80.6" y2="594" stroke="#555" stroke-width="0.6"/>
<line x1="84.19" y1="592" x2="84.19" y2="593" stroke="#555" stroke-width="0.6"/>
<line x1="87.78" y1="592" x2="87.78" y2="593" stroke="#555" stroke-width="0.6"/>
<line x1="91.36" y1="592" x2="91.36" y2="593" stroke="#555" stroke-width="0.6"/>
<line x1="94.95" y1="592" x2="94.95" y2="594" stroke="#555" stroke-width="0.6"/>
<line x1="98.54" y1="592" x2="98.54" y2="593" stroke="#555" stroke-width="0.6"/>
<line x1="102.12" y1="592" x2="102.12" y2="593" stroke="#555" stroke-width="0.6"/>
<line x1="105.71" y1="592" x2="105.71" y2="593" stroke="#555" stroke-width="0.6"/>
<line x1="109.3" y1="592" x2="109.3" y2="594" stroke="#555" stroke-width="0.6"/>
<line x1="112.89" y1="592" x2="112.89" y2="593" stroke="#555" stroke-width="0.6"/>
<line x1="116.47" y1="592" x2="116.47" y2="593" stroke="#555" stroke-width="0.6"/>
<line x1="120.06" y1="592" x2="120.06" y2="593" stroke="#555" stroke-width="0.6"/>
<line x1="123.65" y1="592" x2="123.65" y2="594" stroke="#555" stroke-width="0.6"/>
<text x="66.2" y="597.2" font-size="3.8" fill="#666" text-anchor="middle">200</text>
<text x="80.55" y="597.2" font-size="3.8" fill="#666" text-anchor="middle">400</text>
<text x="94.9" y="597.2" font-size="3.8" fill="#666" text-anchor="middle">600</text>
<text x="109.25" y="597.2" font-size="3.8" fill="#666" text-anchor="middle">800</text>
<text x="123.6" y="597.2" font-size="3.8" fill="#666" text-anchor="middle">1000</text>
<path d="M145.4 547.4h0M152.2 565.2h0M146.0 568.3h0M145.9 580.5h0M152.7 559.7h0M154.0 545.7h0M150.9 555.5h0M149.6 550.7h0M164.2 551.6h0M154.3 565.1h0M164.7 536.9h0M155.4 565.5h0M159.9 555.9h0M165.1 536.3h0M157.1 559.2h0M163.5 559.6h0M145.2 558.3h0M155.3 554.4h0M144.6 572.8h0M151.8 562.0h0M148.9 539.6h0M150.0 553.5h0M156.0 560.0h0M149.8 552.0h0M157.0 554.4h0M150.8 554.4h0M154.7 552.0h0M142.7 567.8h0M153.0 551.2h0M145.7 559.9h0M158.2 551.5h0M146.8 554.4h0M151.9 565.3h0M151.3 556.6h0M150.0 564.6h0M162.4 551.0h0M152.7 556.8h0M153.9 549.2h0M150.5 565.8h0M161.5 545.1h0M150.8 558.5h0M164.7 548.7h0M157.2 550.4h0M149.1 565.2h0M152.3 553.4h0M151.7 561.0h0M157.4 554.6h0M162.4 547.2h0M156.4 551.6h0M154.9 547.6h0M150.3 566.2h0M146.4 552.2h0M159.5 555.8h0M160.6 549.6h0M151.4 561.6h0M158.5 553.6h0M151.6 552.2h0M156.6 571.9h0M150.6 565.1h0M154.0 553.0h0M159.1 569.7h0M147.2 565.6h0M159.2 550.8h0M152.5 553.8h0M152.1 558.4h0M154.2 556.1h0M151.5 559.7h0M159.1 563.9h0M157.9 562.7h0M154.0 553.5h0M168.4 550.5h0M153.5 561.1h0M154.2 557.7h0M156.0 559.8h0M147.2 565.9h0M161.1 557.4h0M154.2 549.2h0M147.6 562.2h0M161.7 552.4h0M149.6 560.5h0M157.5 547.8h0M153.9 545.9h0M152.0 559.7h0M149.1 573.3h0M144.3 556.5h0M150.2 568.2h0M147.5 566.5h0M159.3 561.4h0M166.7 549.5h0M156.4 558.7h0M156.2 559.8h0M153.0 573.5h0M156.8 563.6h0M144.7 566.1h0M150.9 551.1h0M150.9 560.6h0M148.8 555.4h0M153.0 556.8h0M154.1 558.8h0M154.1 548.4h0M157.6 553.9h0M158.9 561.8h0M154.9 555.9h0M157.6 553.3h0M158.2 546.1h0M154.3 555.9h0M156.6 544.8h0M148.0 560.1h0M155.6 559.8h0M153.8 570.5h0M156.5 550.5h0M151.4 565.4h0M145.6 563.2h0M155.7 550.0h0M153.6 561.7h0M151.4 562.9h0M157.2 549.5h0M149.6 557.0h0M151.9 547.8h0M151.8 559.8h0M162.0 553.5h0M155.8 547.9h0M148.4 554.1h0M156.9 541.7h0M152.0 559.8h0M158.0 560.5h0M158.4 558.0h0M153.9 547.8h0M149.2 557.8h0M151.6 560.1h0M154.7 555.0h0M153.9 545.6h0M156.4 561.7h0M148.4 566.5h0M154.5 558.4h0M155.1 551.7h0M154.2 562.0h0M153.8 555.8h0M149.2 572.2h0M158.7 558.6h0M155.1 556.5h0M161.4 554.2h0M149.9 552.6h0M155.5 550.5h0M146.8 563.3h0M150.4 549.6h0M148.7 570.0h0M159.4 564.5h0M158.1 548.5h0M160.3 551.7h0M140.8 568.8h0M156.5 552.6h0M148.0 558.6h0M152.3 563.4h0M158.4 556.8h0M152.3 555.2h0M162.2 547.4h0M146.3 567.2h0M152.8 560.4h0M150.8 557.1h0M148.4 571.6h0M156.6 547.3h0M150.5 539.7h0M150.3 561.3h0M152.8 553.1h0M159.2 561.5h0M144.7 551.0h0M151.8 562.3h0M159.2 551.4h0M157.3 568.9h0M162.7 547.9h0M154.4 553.9h0M166.5 539.7h0M148.0 569.7h0M152.5 557.3h0M148.3 566.5h0M151.6 557.4h0M160.7 555.6h0M144.3 561.7h0M143.1 565.9h0M151.8 572.0h0M155.9 555.7h0M160.6 547.9h0M156.0 547.1h0M156.1 557.5h0M149.5 564.0h0M150.3 558.9h0M147.0 568.1h0M149.0 569.5h0M156.8 548.4h0M150.9 558.3h0M160.4 556.6h0M154.2 559.6h0M156.0 545.7h0M152.5 543.4h0M150.6 562.8h0M145.8 557.2h0M147.7 560.7h0M152.8 544.5h0M153.5 545.5h0M153.0 559.2h0M147.6 533.6h0M158.8 558.6h0M151.0 566.9h0M145.1 572.1h0M150.1 556.8h0M156.7 555.1h0M150.7 561.1h0M160.8 556.3h0M156.0 546.9h0M149.1 555.7h0M150.0 547.8h0M157.6 543.2h0M158.4 554.2h0M146.4 559.4h0M159.2 555.0h0M157.8 553.6h0M158.2 539.2h0M156.6 561.9h0M141.4 566.3h0M145.4 551.0h0M155.0 554.4h0M153.3 560.5h0M156.1 552.7h0M153.7 554.0h0M150.9 544.8h0M152.5 564.0h0M149.4 561.6h0M156.3 558.1h0M152.2 560.9h0M152.3 544.8h0M157.1 552.9h0M156.0 558.0h0M160.7 545.7h0M151.8 551.6h0M152.0 547.1h0M158.5 551.4h0M152.3 557.7h0M152.1 557.6h0M156.9 558.1h0M153.8 566.8h0M153.9 560.1h0M154.8 549.5h0M159.8 556.4h0M146.1 562.6h0M160.2 537.9h0M151.1 565.3h0M149.5 549.6h0M152.4 549.8h0M160.3 547.8h0M150.1 563.3h0M149.0 554.8h0M159.0 560.6h0M157.3 547.8h0M154.7 553.7h0M161.5 556.0h0M149.0 550.1h0M157.0 540.2h0M151.6 549.8h0M161.0 551.5h0M147.1 562.6h0M164.5 554.5h0M151.3 567.0h0M157.3 549.3h0M157.5 556.6h0M149.7 563.0h0M146.2 564.0h0M150.6 556.1h0M153.7 555.3h0M147.7 559.2h0M152.8 559.0h0M149.9 557.6h0M150.9 560.0h0M152.4 557.5h0M160.4 556.4h0M166.3 549.3h0M162.7 553.9h0M151.4 560.5h0M156.0 542.3h0M161.7 548.4h0M158.4 560.2h0M160.9 549.5h0M150.2 559.5h0M153.1 562.6h0M151.0 561.5h0M163.3 544.9h0M158.4 556.4h0M156.2 554.0h0M152.9 555.0h0M160.0 561.9h0M156.6 552.6h0M159.7 552.0h0M162.6 541.4h0M155.0 564.0h0M163.8 545.7h0M155.2 550.2h0M147.6 569.0h0M159.9 549.2h0M146.9 538.4h0M157.7 547.2h0M153.5 553.3h0M157.9 555.8h0M149.9 572.2h0M154.8 553.1h0M150.6 552.8h0M151.1 563.1h0M154.0 553.9h0M152.8 561.3h0M162.3 538.4h0M148.1 564.6h0M153.9 564.0h0M145.9 572.4h0M154.9 559.9h0M155.9 555.7h0M159.4 558.1h0M152.4 561.4h0M163.3 551.8h0M153.7 553.9h0M154.6 545.6h0M156.5 558.2h0M144.1 568.5h0M155.3 558.1h0M152.8 565.0h0M157.5 550.2h0M154.0 561.9h0M154.3 558.8h0M159.2 558.6h0M149.2 568.5h0M145.4 556.8h0M155.5 549.2h0M155.8 562.5h0M157.6 559.5h0M157.4 556.5h0M152.3 562.2h0M149.7 557.7h0M161.6 555.7h0M150.8 558.9h0M150.1 554.8h0M144.2 554.3h0M158.4 568.0h0M150.2 567.1h0M152.9 538.4h0M161.7 547.3h0M156.3 558.8h0M150.4 546.8h0M160.5 549.3h0M157.1 549.3h0M155.6 560.8h0M155.1 570.3h0M148.6 566.2h0M161.8 562.0h0M157.7 546.0h0M156.5 543.6h0M157.9 560.5h0M150.4 558.5h0M156.3 546.8h0M163.5 541.7h0M147.7 562.8h0M150.1 551.0h0M155.5 556.0h0M152.8 559.2h0M150.6 558.4h0M156.5 560.7h0M149.1 554.9h0M152.0 570.0h0M149.5 555.1h0M157.9 551.1h0M151.2 548.8h0M158.6 551.3h0M154.4 553.9h0M152.5 554.4h0M159.8 541.3h0M152.5 557.7h0M157.3 556.5h0M154.7 545.7h0M155.3 556.9h0M148.3 566.3h0M149.4 559.9h0M150.2 559.1h0M148.6 556.1h0M153.3 560.5h0M156.8 548.8h0M156.9 551.4h0M148.6 550.2h0M150.4 559.0h0M162.3 550.6h0M161.1 550.4h0M159.5 538.9h0M151.6 561.2h0M153.8 557.6h0M161.8 547.1h0M155.9 567.2h0M155.5 554.8h0M155.2 555.1h0M153.6 556.0h0M152.0 564.4h0M160.6 558.8h0M146.5 567.2h0M159.7 548.0h0M147.7 558.6h0M149.9 553.6h0M147.1 554.1h0M151.8 554.1h0M159.7 557.7h0M161.2 555.6h0M155.6 560.6h0M153.5 556.2h0M154.3 566.9h0M146.3 563.2h0M145.4 561.2h0M147.0 563.2h0M148.5 567.1h0M144.5 558.8h0M152.3 550.4h0M161.3 555.8h0M151.4 559.6h0M152.8 553.5h0M152.0 552.7h0M164.3 536.5h0M151.1 570.1h0M154.5 554.7h0M148.8 566.6h0M148.9 543.4h0M147.0 556.0h0M153.1 552.4h0M151.7 554.0h0M154.2 550.5h0M142.6 578.7h0M156.7 568.2h0M157.9 557.4h0M145.0 565.2h0M157.8 553.1h0M158.5 547.2h0M149.2 566.5h0M151.0 559.4h0M156.5 551.9h0M166.0 544.8h0M154.2 547.6h0M154.8 550.4h0M150.2 563.1h0M146.8 553.6h0M153.7 555.4h0M148.3 559.9h0M155.6 553.5h0M153.9 559.4h0M159.0 562.6h0M159.0 539.3h0M151.8 557.3h0M161.9 542.8h0M159.9 562.4h0M153.9 557.3h0M151.6 567.0h0M153.9 561.9h0M160.2 544.8h0M151.6 555.7h0M144.5 571.2h0M155.2 544.4h0M149.4 563.1h0M153.4 560.4h0M150.0 555.7h0M144.8 570.4h0M158.1 544.5h0M156.8 546.4h0M152.8 559.5h0M149.7 552.1h0M159.8 561.8h0M150.8 561.1h0M151.8 558.2h0M145.8 566.9h0M153.9 560.6h0M155.6 562.7h0M159.1 541.6h0M148.5 568.2h0M156.2 546.4h0M164.1 554.4h0M156.1 556.5h0M150.0 560.9h0M159.5 542.7h0M161.9 546.8h0M153.9 557.4h0M154.0 558.8h0M154.7 555.6h0M158.3 542.1h0M152.9 564.8h0M160.0 558.5h0M158.8 548.5h0M148.2 567.4h0M150.1 556.3h0M156.6 547.9h0M150.1 559.5h0M150.0 556.5h0M151.3 570.0h0M155.9 554.3h0M154.1 567.7h0M154.2 560.6h0M153.1 553.6h0M155.5 562.6h0M157.8 550.6h0M161.1 553.3h0M151.4 551.6h0M155.3 548.6h0M153.4 558.3h0M153.1 576.2h0M158.1 550.8h0M151.7 549.1h0M148.8 559.3h0M153.2 564.3h0M151.3 545.5h0M149.7 559.7h0M152.0 559.8h0M151.0 559.9h0M161.9 538.9h0M154.5 563.8h0M146.8 577.9h0M148.4 556.1h0M155.4 567.3h0M152.1 572.7h0M150.7 555.3h0M150.5 561.3h0M151.0 548.8h0M157.7 562.3h0M155.2 547.7h0M157.9 550.6h0M155.3 558.3h0M160.5 553.5h0M159.3 543.7h0M154.2 551.9h0M151.3 570.0h0M157.3 558.6h0M152.0 555.4h0M156.9 547.9h0M147.3 556.6h0M162.1 551.0h0M150.5 557.9h0M157.2 559.0h0M156.0 561.0h0M156.4 558.9h0M156.6 560.4h0M151.5 554.1h0M151.9 564.2h0M147.6 565.1h0M152.7 558.4h0M151.1 555.7h0M161.2 564.6h0M155.6 555.2h0M158.3 556.9h0M156.1 543.9h0M155.9 572.2h0M159.2 542.4h0M145.8 576.4h0M147.1 571.8h0M148.5 554.0h0M143.0 563.0h0M153.3 561.2h0M148.1 560.5h0M148.6 568.5h0M156.8 572.3h0M151.1 561.3h0M162.1 558.8h0M156.4 554.4h0M149.7 555.8h0M154.6 562.1h0M161.2 550.9h0M149.7 577.0h0M150.8 557.5h0M153.1 547.2h0M161.5 547.3h0M164.1 552.0h0M164.1 550.6h0M155.2 550.0h0M152.9 557.2h0M147.7 576.6h0M156.1 564.2h0M154.3 561.4h0M159.9 546.8h0M152.3 561.9h0M142.5 557.5h0M150.9 551.6h0M151.2 566.4h0M147.8 556.0h0M163.1 557.1h0M149.6 559.8h0M156.0 559.9h0M151.8 573.8h0M154.2 569.9h0M148.5 558.8h0M156.4 549.2h0M157.7 565.3h0M151.1 565.9h0M154.4 566.0h0M146.3 549.8h0M150.8 570.4h0M154.7 557.5h0M152.0 561.2h0M147.0 555.4h0M148.5 563.3h0M152.8 557.4h0M156.2 547.2h0M148.5 559.1h0M156.3 564.0h0M147.1 573.4h0M149.2 581.6h0M148.7 571.0h0M142.8 584.0h0M147.6 577.2h0M147.9 569.7h0M147.9 575.8h0M145.7 579.1h0M150.4 577.2h0M145.3 578.7h0M142.8 580.3h0M143.9 582.1h0M139.8 575.9h0M145.9 579.2h0M149.8 578.0h0M151.2 585.2h0M148.4 577.8h0M152.5 575.5h0M139.6 579.5h0M154.0 572.4h0M146.7 583.0h0M149.1 584.0h0M143.9 581.3h0M145.6 585.5h0M144.2 586.9h0M143.0 584.3h0M145.8 580.1h0M149.8 584.9h0M144.6 569.7h0M145.1 579.6h0M147.3 581.7h0M149.9 583.6h0M144.0 575.4h0M142.5 576.9h0M140.8 574.9h0M149.1 575.1h0M148.9 571.0h0M144.7 583.3h0M147.6 575.2h0M141.1 576.4h0M150.6 578.8h0M148.5 582.8h0M143.6 574.0h0M145.5 574.8h0M144.2 575.7h0M142.6 581.6h0M153.8 577.5h0M147.9 584.6h0M140.4 585.0h0M154.6 577.2h0M148.0 580.0h0M144.3 586.9h0M142.8 581.3h0M144.4 577.8h0M148.1 573.8h0M155.5 583.4h0M141.9 581.5h0M142.5 583.2h0M147.1 586.6h0M147.2 579.7h0M142.8 581.7h0M156.7 579.1h0M144.7 582.1h0M146.9 572.8h0M145.8 579.7h0M148.7 579.4h0M148.8 580.2h0M149.7 580.8h0M150.9 571.2h0M144.2 581.8h0M150.5 583.2h0M146.0 579.9h0M146.4 574.9h0M147.5 584.7h0M153.6 573.2h0M143.7 583.1h0M144.4 581.1h0M146.6 578.2h0M144.9 577.2h0M144.0 583.0h0M151.1 575.5h0M152.5 570.6h0M139.2 576.0h0M153.2 577.0h0M152.8 576.9h0M148.4 564.7h0M152.1 579.5h0M143.7 574.9h0M151.2 581.8h0M146.1 576.3h0M148.3 580.6h0M147.2 580.7h0M148.7 580.6h0M144.7 572.6h0M151.5 582.2h0M151.2 575.5h0M147.5 579.7h0M153.4 574.5h0M144.7 584.6h0M151.6 586.9h0M152.9 577.5h0M156.6 573.9h0M144.0 580.2h0M144.0 589.4h0M143.4 571.1h0M148.8 576.7h0M143.3 581.5h0M147.2 570.8h0M152.6 573.2h0M145.6 581.6h0M149.8 582.0h0M144.7 574.1h0M145.8 574.5h0M150.5 572.3h0M140.7 573.5h0M147.1 567.6h0M145.9 580.5h0M138.8 580.8h0M146.8 582.3h0M141.8 581.2h0M148.8 580.3h0M142.6 582.0h0M152.8 576.7h0M143.1 570.7h0M153.4 572.2h0M140.7 579.5h0M148.5 586.9h0M145.6 580.8h0M140.4 576.3h0M147.6 582.1h0M145.6 576.0h0M146.9 576.3h0M147.0 577.3h0M147.5 584.4h0M146.8 574.5h0M146.8 584.2h0M138.6 590.0h0M144.4 579.5h0M150.2 574.3h0M150.5 581.3h0M143.4 587.8h0M144.9 581.4h0M150.0 574.9h0M148.5 580.0h0M143.2 579.6h0M153.7 589.9h0M144.9 580.0h0M141.0 582.0h0M149.1 572.9h0M148.4 579.3h0M147.8 576.2h0M141.4 587.5h0M146.2 580.3h0M149.7 577.0h0M147.5 571.1h0M146.0 572.8h0M145.4 584.4h0M152.4 566.2h0M142.4 579.6h0M153.7 584.7h0M149.0 583.0h0M149.8 587.8h0M149.3 583.2h0M140.6 581.8h0M152.4 585.1h0M140.0 581.6h0M143.0 580.4h0M148.8 577.3h0M143.2 583.0h0M146.6 587.0h0M150.6 578.7h0M146.2 580.4h0M153.5 579.1h0M140.0 583.0h0M148.1 581.6h0M147.5 585.4h0M150.4 589.3h0M148.6 583.9h0M141.2 579.1h0M149.2 579.7h0M143.3 585.8h0M148.6 577.0h0M150.4 575.9h0M151.2 580.4h0M144.5 582.0h0M146.7 585.2h0M152.0 577.0h0M148.0 585.6h0M152.1 575.2h0M138.3 587.5h0M144.6 590.5h0M151.1 579.7h0M143.0 586.1h0M150.0 576.1h0M144.7 582.1h0M148.0 583.8h0M148.3 579.3h0M146.0 574.0h0M150.1 576.9h0M147.9 581.8h0M141.9 580.3h0M147.5 576.0h0M144.2 583.6h0M140.9 583.3h0M148.4 585.9h0M150.5 563.2h0M149.8 572.8h0M140.9 574.7h0M145.6 581.2h0M143.4 575.4h0M144.9 588.0h0M145.4 580.4h0M151.5 576.2h0M152.5 580.5h0M138.9 582.9h0M146.9 579.8h0M145.9 580.1h0M147.5 571.8h0M145.7 574.2h0M146.8 578.3h0M152.8 569.1h0M148.0 582.3h0M152.7 574.6h0M147.8 576.6h0M150.2 580.7h0M148.4 582.2h0M151.5 577.6h0M153.3 572.7h0M146.3 587.7h0M150.5 579.5h0M146.9 573.5h0M139.2 580.2h0M141.9 580.9h0M151.5 572.4h0M146.9 580.0h0M144.9 580.1h0M152.4 578.3h0M150.3 578.2h0M153.7 577.9h0M144.9 574.5h0M148.5 571.0h0M149.5 577.3h0M152.1 575.3h0M150.6 584.3h0M149.1 578.0h0M151.5 583.1h0M154.3 573.2h0M148.7 577.3h0M154.4 574.5h0M148.5 580.2h0M147.4 583.8h0M145.5 573.5h0M144.6 578.4h0M142.4 585.0h0M147.9 580.5h0M142.3 581.0h0M144.2 569.5h0M146.7 578.8h0M157.0 578.4h0M148.6 576.1h0M146.3 571.3h0M147.0 575.8h0M150.0 576.6h0M151.6 577.8h0M146.1 585.6h0M153.1 580.7h0M147.7 585.6h0M141.9 583.3h0M151.1 579.9h0M141.9 586.8h0M150.6 581.7h0M149.7 574.7h0M140.3 577.1h0M142.1 573.3h0M144.4 584.5h0M147.4 580.0h0M146.7 586.0h0M150.4 585.1h0M152.6 572.3h0M150.8 570.3h0M139.9 588.2h0M150.7 583.7h0M148.9 584.9h0M153.1 573.3h0M145.9 574.7h0M149.7 582.9h0M142.2 573.5h0M150.9 574.6h0M145.6 583.0h0M148.6 574.9h0M138.2 573.2h0M154.7 578.4h0M139.9 586.5h0M143.9 578.9h0M140.8 590.7h0M145.2 577.2h0M138.9 581.0h0M151.4 573.7h0M148.6 572.0h0M144.0 588.0h0M144.4 569.7h0M147.0 582.0h0M148.7 574.5h0M151.7 580.3h0M143.8 580.1h0M139.7 577.9h0M146.1 581.7h0M150.8 572.6h0M150.8 580.3h0M147.4 585.2h0M145.3 574.9h0M146.2 581.7h0M144.2 575.3h0M147.2 583.8h0M156.5 581.0h0M141.6 582.5h0M140.5 581.4h0M142.7 575.8h0M147.3 574.4h0M148.4 578.9h0M145.6 579.1h0M145.4 563.7h0M147.0 579.8h0M152.2 577.8h0M147.0 582.4h0M138.1 584.3h0M151.4 574.9h0M146.6 574.3h0M140.8 579.0h0M144.9 581.3h0M146.5 579.1h0M149.1 574.1h0M141.6 582.4h0M147.2 571.5h0M146.7 577.6h0M148.1 577.1h0M150.7 571.6h0M141.4 578.4h0M150.9 576.8h0M141.8 576.7h0M145.8 579.6h0M137.0 575.1h0M143.1 578.6h0M148.2 572.6h0M146.1 581.8h0M146.4 576.2h0M148.3 577.8h0M146.7 576.7h0M141.9 587.2h0M148.2 582.5h0M158.0 586.4h0M147.9 570.6h0M144.6 580.5h0M149.2 576.8h0M144.2 577.0h0M146.5 587.4h0M144.0 584.9h0M153.0 580.4h0M144.2 574.3h0M149.7 571.6h0M142.7 579.5h0M145.2 586.3h0M143.9 578.9h0M139.5 584.7h0M145.9 571.5h0M143.4 580.3h0M146.5 579.9h0M146.7 569.0h0M149.2 578.2h0M143.1 585.7h0M146.4 577.0h0M143.9 582.4h0M144.0 585.9h0M150.4 586.0h0M140.6 585.6h0M147.3 577.0h0M145.3 584.2h0M159.2 548.4h0M150.1 555.8h0M145.3 575.3h0M169.4 551.4h0M162.3 547.5h0M164.6 545.0h0M162.1 548.1h0M150.2 561.9h0M163.7 538.7h0M160.7 558.2h0M167.8 552.7h0M173.1 534.7h0M165.0 540.5h0M156.7 561.8h0M163.1 553.5h0M167.0 538.7h0M159.5 540.5h0M161.2 555.0h0M143.7 560.6h0M155.9 562.1h0M151.3 552.4h0M154.0 547.2h0M164.1 539.4h0M159.9 538.6h0M147.6 568.5h0M156.2 557.5h0M151.3 560.1h0M155.3 559.9h0M166.8 551.0h0M157.2 553.3h0M149.5 562.0h0M168.0 539.3h0M155.2 560.4h0M143.9 558.7h0M153.6 556.9h0M162.4 531.9h0M168.6 549.2h0M148.3 555.3h0M156.1 547.7h0M152.4 561.6h0M150.7 536.2h0M149.6 543.0h0M140.7 572.5h0M156.7 549.7h0M156.3 536.6h0M148.5 565.8h0M159.2 553.3h0M156.6 558.0h0M167.3 552.2h0M151.8 568.1h0M160.8 542.7h0M162.0 558.8h0M170.7 542.0h0M160.2 543.5h0M151.7 552.9h0M153.4 564.7h0M156.2 559.7h0M173.0 544.0h0M164.8 543.7h0M165.4 552.1h0M166.9 551.8h0M159.1 554.4h0M158.6 560.9h0M149.7 551.0h0M151.6 553.0h0M154.1 559.7h0M158.0 549.2h0M169.5 532.0h0M148.5 570.7h0M154.9 543.1h0M164.5 555.9h0M153.7 564.9h0M164.2 551.5h0M161.2 525.5h0M144.8 562.5h0M150.1 545.7h0M145.3 560.3h0M164.8 542.2h0M162.4 547.8h0M163.6 554.0h0M152.7 551.5h0M167.6 546.2h0M159.5 539.6h0M154.8 563.1h0M154.1 569.9h0M151.2 550.6h0M160.9 542.5h0M159.5 555.1h0M170.5 537.8h0M151.9 548.0h0M147.3 550.7h0M153.4 544.3h0M153.0 565.6h0M156.0 562.3h0M156.8 556.2h0M158.2 559.8h0M171.2 538.0h0M164.8 543.0h0M166.5 553.0h0M145.8 549.0h0M156.9 536.9h0M158.8 536.2h0M157.6 554.9h0M139.3 558.3h0M168.9 553.3h0M164.3 558.4h0M163.3 560.8h0M148.3 546.4h0M165.9 544.1h0M156.9 554.3h0M164.0 557.2h0M153.6 556.3h0M154.4 559.8h0M144.6 557.1h0M166.2 548.5h0M166.3 556.2h0M155.7 556.5h0M144.6 548.1h0M156.4 546.2h0M154.8 542.2h0M159.8 552.3h0M157.0 549.4h0M163.8 549.3h0M155.8 561.0h0M151.3 567.6h0M175.3 536.1h0M155.6 543.1h0M171.9 542.4h0M150.3 560.3h0M154.1 547.5h0M170.8 541.4h0M170.3 538.5h0M166.2 551.5h0M171.3 545.5h0M158.2 548.9h0M157.5 563.9h0M145.2 559.3h0M150.5 566.7h0M153.0 557.2h0M159.7 539.0h0M148.2 550.3h0M171.3 535.0h0M155.5 536.1h0M160.1 542.3h0M161.6 565.8h0M165.8 558.4h0M165.4 546.1h0M151.9 558.7h0M171.8 548.7h0M164.1 540.5h0M162.6 547.4h0M153.8 567.2h0M154.6 545.5h0M142.7 557.9h0M156.5 531.4h0M147.0 552.8h0M148.5 553.1h0M156.1 549.6h0M158.5 559.1h0M161.2 542.5h0M155.8 546.3h0M171.8 535.8h0M143.9 562.6h0M163.9 555.1h0M162.1 549.9h0M164.3 557.8h0M153.4 565.1h0M152.0 564.2h0M163.1 550.1h0M156.5 560.6h0M151.1 571.8h0M152.3 565.4h0M164.1 553.2h0M157.2 545.2h0M164.3 557.2h0M159.6 544.7h0M169.8 558.4h0M155.6 547.5h0M150.9 564.6h0M165.4 566.2h0M168.6 548.2h0M155.6 547.3h0M167.4 550.3h0M164.2 542.7h0M139.3 572.4h0M170.6 551.6h0M163.9 546.5h0M170.5 557.9h0M159.7 549.4h0M153.0 564.3h0M168.2 550.5h0M158.2 545.7h0M160.1 550.4h0M153.1 539.3h0M172.4 541.4h0M167.4 554.9h0M162.4 559.8h0M160.2 551.8h0M160.4 536.0h0M171.7 549.5h0M155.5 551.0h0M158.3 552.1h0M169.5 553.8h0M156.0 565.5h0M157.9 563.0h0M173.4 554.9h0M159.7 548.1h0M161.4 559.7h0M152.2 550.1h0M156.0 554.8h0M165.1 539.9h0M157.8 555.3h0M159.6 551.7h0M148.1 549.9h0M147.4 560.6h0M148.8 575.7h0M146.9 555.5h0M178.2 532.1h0M161.8 563.0h0M152.9 543.0h0M151.4 547.1h0M175.5 545.2h0M159.4 561.8h0M146.3 563.8h0M142.3 571.5h0M163.3 538.9h0M163.4 546.8h0M138.0 570.6h0M166.3 555.2h0M148.5 557.9h0M161.8 559.0h0M170.6 553.7h0M177.6 545.0h0M168.5 557.4h0M170.9 536.3h0M184.5 554.4h0M169.1 555.9h0M168.0 548.2h0M178.6 555.7h0M175.2 545.6h0M168.5 568.3h0M163.6 526.9h0M175.3 548.5h0M175.0 554.5h0M176.9 559.2h0M163.6 566.9h0M153.6 550.0h0M156.7 543.6h0M192.6 551.8h0M164.2 545.6h0M162.2 551.4h0M164.2 544.7h0M154.9 532.5h0M158.6 562.4h0M176.1 539.4h0M178.8 557.3h0M159.2 559.7h0M167.0 547.6h0M165.7 562.1h0M171.8 537.8h0M164.9 542.9h0M165.1 551.3h0M163.3 560.4h0M162.6 542.3h0M157.3 540.0h0M171.1 554.5h0M175.0 556.8h0M153.0 538.2h0M174.6 560.2h0M159.9 567.8h0M176.1 557.6h0M172.4 559.7h0M142.9 564.3h0M149.8 542.8h0M168.7 556.3h0M171.8 543.6h0M169.1 552.9h0M159.5 551.3h0M171.1 546.8h0M144.5 537.3h0" stroke="#222" stroke-opacity="0.42" stroke-width="0.85" stroke-linecap="round" fill="none"/>
<rect x="128.7" y="520.3" width="73.5" height="71.5" fill="none" stroke="#555" stroke-width="0.8"/>
<line x1="128.7" y1="520.3" x2="128.7" y2="591.8" stroke="#666" stroke-width="0.9"/>
<line x1="128.7" y1="591.8" x2="202.2" y2="591.8" stroke="#666" stroke-width="0.9"/>
<rect x="136.8" y="532.6" width="52.2" height="42.2" fill="none" stroke="#999" stroke-width="0.7"/>
<line x1="126.7" y1="591.8" x2="128.7" y2="591.8" stroke="#555" stroke-width="0.6"/>
<line x1="127.7" y1="586.42" x2="128.7" y2="586.42" stroke="#555" stroke-width="0.6"/>
<line x1="127.7" y1="583.27" x2="128.7" y2="583.27" stroke="#555" stroke-width="0.6"/>
<line x1="127.7" y1="581.04" x2="128.7" y2="581.04" stroke="#555" stroke-width="0.6"/>
<line x1="127.7" y1="579.31" x2="128.7" y2="579.31" stroke="#555" stroke-width="0.6"/>
<line x1="127.7" y1="577.89" x2="128.7" y2="577.89" stroke="#555" stroke-width="0.6"/>
<line x1="127.7" y1="576.69" x2="128.7" y2="576.69" stroke="#555" stroke-width="0.6"/>
<line x1="127.7" y1="575.66" x2="128.7" y2="575.66" stroke="#555" stroke-width="0.6"/>
<line x1="127.7" y1="574.74" x2="128.7" y2="574.74" stroke="#555" stroke-width="0.6"/>
<line x1="126.7" y1="573.92" x2="128.7" y2="573.92" stroke="#555" stroke-width="0.6"/>
<line x1="127.7" y1="568.54" x2="128.7" y2="568.54" stroke="#555" stroke-width="0.6"/>
<line x1="127.7" y1="565.4" x2="128.7" y2="565.4" stroke="#555" stroke-width="0.6"/>
<line x1="127.7" y1="563.16" x2="128.7" y2="563.16" stroke="#555" stroke-width="0.6"/>
<line x1="127.7" y1="561.43" x2="128.7" y2="561.43" stroke="#555" stroke-width="0.6"/>
<line x1="127.7" y1="560.02" x2="128.7" y2="560.02" stroke="#555" stroke-width="0.6"/>
<line x1="127.7" y1="558.82" x2="128.7" y2="558.82" stroke="#555" stroke-width="0.6"/>
<line x1="127.7" y1="557.78" x2="128.7" y2="557.78" stroke="#555" stroke-width="0.6"/>
<line x1="127.7" y1="556.87" x2="128.7" y2="556.87" stroke="#555" stroke-width="0.6"/>
<line x1="126.7" y1="556.05" x2="128.7" y2="556.05" stroke="#555" stroke-width="0.6"/>
<line x1="127.7" y1="550.67" x2="128.7" y2="550.67" stroke="#555" stroke-width="0.6"/>
<line x1="127.7" y1="547.52" x2="128.7" y2="547.52" stroke="#555" stroke-width="0.6"/>
<line x1="127.7" y1="545.29" x2="128.7" y2="545.29" stroke="#555" stroke-width="0.6"/>
<line x1="127.7" y1="543.56" x2="128.7" y2="543.56" stroke="#555" stroke-width="0.6"/>
<line x1="127.7" y1="542.14" x2="128.7" y2="542.14" stroke="#555" stroke-width="0.6"/>
<line x1="127.7" y1="540.94" x2="128.7" y2="540.94" stroke="#555" stroke-width="0.6"/>
<line x1="127.7" y1="539.91" x2="128.7" y2="539.91" stroke="#555" stroke-width="0.6"/>
<line x1="127.7" y1="538.99" x2="128.7" y2="538.99" stroke="#555" stroke-width="0.6"/>
<line x1="126.7" y1="538.17" x2="128.7" y2="538.17" stroke="#555" stroke-width="0.6"/>
<line x1="127.7" y1="532.79" x2="128.7" y2="532.79" stroke="#555" stroke-width="0.6"/>
<line x1="127.7" y1="529.65" x2="128.7" y2="529.65" stroke="#555" stroke-width="0.6"/>
<line x1="127.7" y1="527.41" x2="128.7" y2="527.41" stroke="#555" stroke-width="0.6"/>
<line x1="127.7" y1="525.68" x2="128.7" y2="525.68" stroke="#555" stroke-width="0.6"/>
<line x1="127.7" y1="524.27" x2="128.7" y2="524.27" stroke="#555" stroke-width="0.6"/>
<line x1="127.7" y1="523.07" x2="128.7" y2="523.07" stroke="#555" stroke-width="0.6"/>
<line x1="127.7" y1="522.03" x2="128.7" y2="522.03" stroke="#555" stroke-width="0.6"/>
<line x1="127.7" y1="521.12" x2="128.7" y2="521.12" stroke="#555" stroke-width="0.6"/>
<line x1="126.7" y1="520.3" x2="128.7" y2="520.3" stroke="#555" stroke-width="0.6"/>
<line x1="127.7" y1="591.8" x2="127.7" y2="593.8" stroke="#555" stroke-width="0.6"/>
<line x1="131.29" y1="591.8" x2="131.29" y2="592.8" stroke="#555" stroke-width="0.6"/>
<line x1="134.88" y1="591.8" x2="134.88" y2="592.8" stroke="#555" stroke-width="0.6"/>
<line x1="138.46" y1="591.8" x2="138.46" y2="592.8" stroke="#555" stroke-width="0.6"/>
<line x1="142.05" y1="591.8" x2="142.05" y2="593.8" stroke="#555" stroke-width="0.6"/>
<line x1="145.64" y1="591.8" x2="145.64" y2="592.8" stroke="#555" stroke-width="0.6"/>
<line x1="149.22" y1="591.8" x2="149.22" y2="592.8" stroke="#555" stroke-width="0.6"/>
<line x1="152.81" y1="591.8" x2="152.81" y2="592.8" stroke="#555" stroke-width="0.6"/>
<line x1="156.4" y1="591.8" x2="156.4" y2="593.8" stroke="#555" stroke-width="0.6"/>
<line x1="159.99" y1="591.8" x2="159.99" y2="592.8" stroke="#555" stroke-width="0.6"/>
<line x1="163.57" y1="591.8" x2="163.57" y2="592.8" stroke="#555" stroke-width="0.6"/>
<line x1="167.16" y1="591.8" x2="167.16" y2="592.8" stroke="#555" stroke-width="0.6"/>
<line x1="170.75" y1="591.8" x2="170.75" y2="593.8" stroke="#555" stroke-width="0.6"/>
<line x1="174.34" y1="591.8" x2="174.34" y2="592.8" stroke="#555" stroke-width="0.6"/>
<line x1="177.92" y1="591.8" x2="177.92" y2="592.8" stroke="#555" stroke-width="0.6"/>
<line x1="181.51" y1="591.8" x2="181.51" y2="592.8" stroke="#555" stroke-width="0.6"/>
<line x1="185.1" y1="591.8" x2="185.1" y2="593.8" stroke="#555" stroke-width="0.6"/>
<line x1="188.69" y1="591.8" x2="188.69" y2="592.8" stroke="#555" stroke-width="0.6"/>
<line x1="192.27" y1="591.8" x2="192.27" y2="592.8" stroke="#555" stroke-width="0.6"/>
<line x1="195.86" y1="591.8" x2="195.86" y2="592.8" stroke="#555" stroke-width="0.6"/>
<line x1="199.45" y1="591.8" x2="199.45" y2="593.8" stroke="#555" stroke-width="0.6"/>
<text x="142" y="597" font-size="3.8" fill="#666" text-anchor="middle">200</text>
<text x="156.35" y="597" font-size="3.8" fill="#666" text-anchor="middle">400</text>
<text x="170.7" y="597" font-size="3.8" fill="#666" text-anchor="middle">600</text>
<text x="185.05" y="597" font-size="3.8" fill="#666" text-anchor="middle">800</text>
<text x="199.4" y="597" font-size="3.8" fill="#666" text-anchor="middle">1000</text>
<text transform="translate(89.65,448.42)" font-size="8.19" font-weight="bold" fill="#000">74.87</text>
<text transform="translate(166.43,448.92)" font-size="8.47" font-weight="bold" fill="#000">86.20</text>
<text transform="translate(91.96,542.13) scale(1.035,1)" font-size="7.63" font-weight="bold" fill="#000">71.81</text>
<text transform="translate(167.94,542.12) scale(0.992,1)" font-size="8.33" font-weight="bold" fill="#000">74.82</text>
<text x="85" y="435.3" font-size="3.7" fill="#555" text-anchor="middle">74.87</text>
<text x="158.5" y="434.5" font-size="3.7" fill="#555" text-anchor="middle">86.20</text>
<text x="84.6" y="532.2" font-size="3.7" fill="#555" text-anchor="middle">71.81</text>
<text x="160.3" y="531" font-size="3.7" fill="#555" text-anchor="middle">74.82</text>
<text x="86" y="509.5" font-size="3.4" fill="#888" text-anchor="middle">FSC-H</text>
<text x="162" y="510" font-size="3.4" fill="#888" text-anchor="middle">FSC-H</text>
<text x="88" y="603.5" font-size="3.4" fill="#888" text-anchor="middle">FSC-H</text>
<text x="165" y="603" font-size="3.4" fill="#888" text-anchor="middle">FSC-H</text>
<text transform="translate(37.61,479.92) rotate(-90) scale(0.818,1)" font-size="9.46" font-weight="bold" fill="#000">CD86</text>
<text transform="translate(37.41,575.33) rotate(-90) scale(0.861,1)" font-size="9.46" font-weight="bold" fill="#000">CD86</text>
<line x1="32.3" y1="489" x2="32.3" y2="510" stroke="#444" stroke-width="1.2"/>
<line x1="32.3" y1="510" x2="53" y2="510" stroke="#444" stroke-width="1.2"/>
<path d="M29.8 490 L32.3 485 L34.8 490 Z" fill="#111"/>
<path d="M52 507.5 L57.3 510 L52 512.5 Z" fill="#111"/>
<line x1="33" y1="584" x2="33" y2="605.4" stroke="#444" stroke-width="1.2"/>
<line x1="33" y1="605.4" x2="53" y2="605.4" stroke="#444" stroke-width="1.2"/>
<path d="M30.5 585 L33 580 L35.5 585 Z" fill="#111"/>
<path d="M52.3 602.9 L57.6 605.4 L52.3 607.9 Z" fill="#111"/>
<text transform="translate(61.14,513.61) scale(0.959,1)" font-size="8.76" font-weight="bold" fill="#000">FSC</text>
<text transform="translate(61.42,608.61) scale(0.958,1)" font-size="9.04" font-weight="bold" fill="#000">FSC</text>
<text transform="translate(215.86,421.7) scale(0.991,1)" font-size="18.75" font-weight="bold" fill="#000">D</text>
<line x1="244" y1="457.2" x2="244" y2="569" stroke="#808080" stroke-width="1"/>
<line x1="242.2" y1="569" x2="244" y2="569" stroke="#808080" stroke-width="0.8"/>
<line x1="242.2" y1="546.9" x2="244" y2="546.9" stroke="#808080" stroke-width="0.8"/>
<line x1="242.2" y1="524.8" x2="244" y2="524.8" stroke="#808080" stroke-width="0.8"/>
<line x1="242.2" y1="502.7" x2="244" y2="502.7" stroke="#808080" stroke-width="0.8"/>
<line x1="242.2" y1="480.6" x2="244" y2="480.6" stroke="#808080" stroke-width="0.8"/>
<line x1="242.2" y1="458.5" x2="244" y2="458.5" stroke="#808080" stroke-width="0.8"/>
<line x1="244" y1="568.7" x2="309.6" y2="568.7" stroke="#777" stroke-width="1"/>
<line x1="309.2" y1="568.7" x2="309.2" y2="570.3" stroke="#777" stroke-width="0.8"/>
<text transform="translate(236.75,572.71)" font-size="10.2" font-weight="bold" fill="#000">0</text>
<text transform="translate(236.61,550.61)" font-size="10.2" font-weight="bold" fill="#000">5</text>
<text transform="translate(231.07,528.51)" font-size="10.2" font-weight="bold" fill="#000">10</text>
<text transform="translate(230.94,506.41)" font-size="10.2" font-weight="bold" fill="#000">15</text>
<text transform="translate(231.07,484.31)" font-size="10.2" font-weight="bold" fill="#000">20</text>
<text transform="translate(230.94,462.21)" font-size="10.2" font-weight="bold" fill="#000">25</text>
<rect x="254.1" y="480.6" width="12.7" height="88.1" fill="#fff" stroke="#888" stroke-width="1.2"/>
<line x1="260.4" y1="480.6" x2="260.4" y2="461.6" stroke="#777" stroke-width="1"/>
<line x1="260.4" y1="461.6" x2="260.4" y2="461.6" stroke="#777" stroke-width="1"/>
<rect x="286.3" y="549" width="13.5" height="19.7" fill="#000"/>
<line x1="293" y1="549" x2="293" y2="540.8" stroke="#777" stroke-width="1"/>
<line x1="293" y1="540.8" x2="293" y2="540.8" stroke="#777" stroke-width="1"/>
<text transform="translate(293.75,530.29) scale(1.014,1)" font-size="16.13" font-weight="bold" fill="#000">*</text>
<text transform="translate(268.3,455.08) scale(1.027,1)" font-size="11.86" font-weight="bold" fill="#000">CD86</text>
<text transform="translate(249.39,578.83) scale(1.082,1)" font-size="7.2" font-weight="bold" fill="#000">WT DC</text>
<text transform="translate(281.72,578.9) scale(1.077,1)" font-size="7.2" fill="#000"><tspan x="0" y="0" font-size="7.2" font-weight="bold" font-style="italic">C1qa</tspan><tspan x="17.61" y="-2.38" font-size="4.9" font-weight="bold" stroke-width="0.1">-/-</tspan><tspan x="22.23" y="0" font-size="7.2" font-weight="bold"> DC</tspan></text>
<text transform="translate(224.9,557.04) rotate(-90) scale(1.104,1)" font-size="8.8" fill="#000"><tspan x="0" y="0" font-size="8.8" font-weight="bold">% increase (CD86</tspan><tspan x="73.86" y="-2.9" font-size="5.98" font-weight="bold" stroke-width="0.1">+</tspan><tspan x="77.35" y="0" font-size="8.8" font-weight="bold">)</tspan></text>
<line x1="347.5" y1="457.8" x2="347.5" y2="569" stroke="#808080" stroke-width="1"/>
<line x1="345.7" y1="568.8" x2="347.5" y2="568.8" stroke="#808080" stroke-width="0.8"/>
<line x1="345.7" y1="546.7" x2="347.5" y2="546.7" stroke="#808080" stroke-width="0.8"/>
<line x1="345.7" y1="524.6" x2="347.5" y2="524.6" stroke="#808080" stroke-width="0.8"/>
<line x1="345.7" y1="502.5" x2="347.5" y2="502.5" stroke="#808080" stroke-width="0.8"/>
<line x1="345.7" y1="480.4" x2="347.5" y2="480.4" stroke="#808080" stroke-width="0.8"/>
<line x1="345.7" y1="458.3" x2="347.5" y2="458.3" stroke="#808080" stroke-width="0.8"/>
<line x1="347.5" y1="568.7" x2="410.8" y2="568.7" stroke="#777" stroke-width="1"/>
<line x1="410.4" y1="568.7" x2="410.4" y2="570.3" stroke="#777" stroke-width="0.8"/>
<text transform="translate(340.95,572.44)" font-size="10" font-weight="bold" fill="#000">0</text>
<text transform="translate(340.59,550.44)" font-size="10" font-weight="bold" fill="#000">4</text>
<text transform="translate(340.85,528.24)" font-size="10" font-weight="bold" fill="#000">8</text>
<text transform="translate(335.38,506.24)" font-size="10" font-weight="bold" fill="#000">12</text>
<text transform="translate(335.34,484.04)" font-size="10" font-weight="bold" fill="#000">16</text>
<text transform="translate(335.39,461.94)" font-size="10" font-weight="bold" fill="#000">20</text>
<rect x="356.3" y="468" width="13.3" height="100.7" fill="#fff" stroke="#888" stroke-width="1.2"/>
<line x1="363" y1="468" x2="363" y2="466.2" stroke="#777" stroke-width="1"/>
<line x1="361.8" y1="466.2" x2="364.2" y2="466.2" stroke="#777" stroke-width="1"/>
<rect x="388.7" y="507.9" width="12.9" height="60.8" fill="#000"/>
<line x1="395.2" y1="507.9" x2="395.2" y2="502.1" stroke="#777" stroke-width="1"/>
<line x1="395.2" y1="502.1" x2="395.2" y2="502.1" stroke="#777" stroke-width="1"/>
<text transform="translate(395.85,496.09)" font-size="16.13" font-weight="bold" fill="#000">*</text>
<text transform="translate(363.7,455.08) scale(1.022,1)" font-size="11.86" font-weight="bold" fill="#000">CD80</text>
<text transform="translate(351.99,578.83) scale(1.069,1)" font-size="7.2" font-weight="bold" fill="#000">WT DC</text>
<text transform="translate(383.43,579.5) scale(1.051,1)" font-size="7.2" fill="#000"><tspan x="0" y="0" font-size="7.2" font-weight="bold" font-style="italic">C1qa</tspan><tspan x="17.61" y="-2.38" font-size="4.9" font-weight="bold" stroke-width="0.1">-/-</tspan><tspan x="22.23" y="0" font-size="7.2" font-weight="bold"> DC</tspan></text>
<text transform="translate(331.7,554.55) rotate(-90) scale(1.168,1)" font-size="8.6" fill="#000"><tspan x="0" y="0" font-size="8.6" font-weight="bold">% increase (CD80</tspan><tspan x="72.18" y="-2.84" font-size="5.85" font-weight="bold" stroke-width="0.1">+</tspan><tspan x="75.6" y="0" font-size="8.6" font-weight="bold">)</tspan></text>
<line x1="445.6" y1="454.2" x2="445.6" y2="568" stroke="#808080" stroke-width="1"/>
<line x1="443.8" y1="567.9" x2="445.6" y2="567.9" stroke="#808080" stroke-width="0.8"/>
<line x1="443.8" y1="539.55" x2="445.6" y2="539.55" stroke="#808080" stroke-width="0.8"/>
<line x1="443.8" y1="511.2" x2="445.6" y2="511.2" stroke="#808080" stroke-width="0.8"/>
<line x1="443.8" y1="482.85" x2="445.6" y2="482.85" stroke="#808080" stroke-width="0.8"/>
<line x1="443.8" y1="454.5" x2="445.6" y2="454.5" stroke="#808080" stroke-width="0.8"/>
<line x1="445.6" y1="567.6" x2="508.8" y2="567.6" stroke="#777" stroke-width="1"/>
<line x1="508.4" y1="567.6" x2="508.4" y2="569.3" stroke="#777" stroke-width="0.8"/>
<text transform="translate(438.85,571.61)" font-size="10.2" font-weight="bold" fill="#000">0</text>
<text transform="translate(433.17,543.26)" font-size="10.2" font-weight="bold" fill="#000">20</text>
<text transform="translate(433.17,514.91)" font-size="10.2" font-weight="bold" fill="#000">40</text>
<text transform="translate(433.17,486.56)" font-size="10.2" font-weight="bold" fill="#000">60</text>
<text transform="translate(433.17,458.21)" font-size="10.2" font-weight="bold" fill="#000">80</text>
<rect x="454.8" y="498.4" width="12.4" height="69.2" fill="#fff" stroke="#888" stroke-width="1.2"/>
<line x1="461.5" y1="498.4" x2="461.5" y2="470.4" stroke="#777" stroke-width="1"/>
<line x1="461.5" y1="470.4" x2="461.5" y2="470.4" stroke="#777" stroke-width="1"/>
<rect x="486.2" y="544.8" width="12.6" height="22.8" fill="#000"/>
<line x1="492.5" y1="544.8" x2="492.5" y2="525.8" stroke="#777" stroke-width="1"/>
<line x1="492.5" y1="525.8" x2="492.5" y2="525.8" stroke="#777" stroke-width="1"/>
<text transform="translate(489.86,509.22) scale(1.367,1)" font-size="8.2" font-weight="bold" fill="#000">n.s</text>
<text transform="translate(467.8,454.49) scale(1.042,1)" font-size="11.71" font-weight="bold" fill="#000">Class II</text>
<text transform="translate(451.59,579.43) scale(1.073,1)" font-size="7.2" font-weight="bold" fill="#000">WT DC</text>
<text transform="translate(482.13,579.5) scale(1.056,1)" font-size="7.2" fill="#000"><tspan x="0" y="0" font-size="7.2" font-weight="bold" font-style="italic">C1qa</tspan><tspan x="17.61" y="-2.38" font-size="4.9" font-weight="bold" stroke-width="0.1">-/-</tspan><tspan x="22.23" y="0" font-size="7.2" font-weight="bold"> DC</tspan></text>
<text transform="translate(428.8,551.22) rotate(-90) scale(1.026,1)" font-size="8.6" fill="#000"><tspan x="0" y="0" font-size="8.6" font-weight="bold">% increase (MFI)</tspan></text>
</svg></body></html>
